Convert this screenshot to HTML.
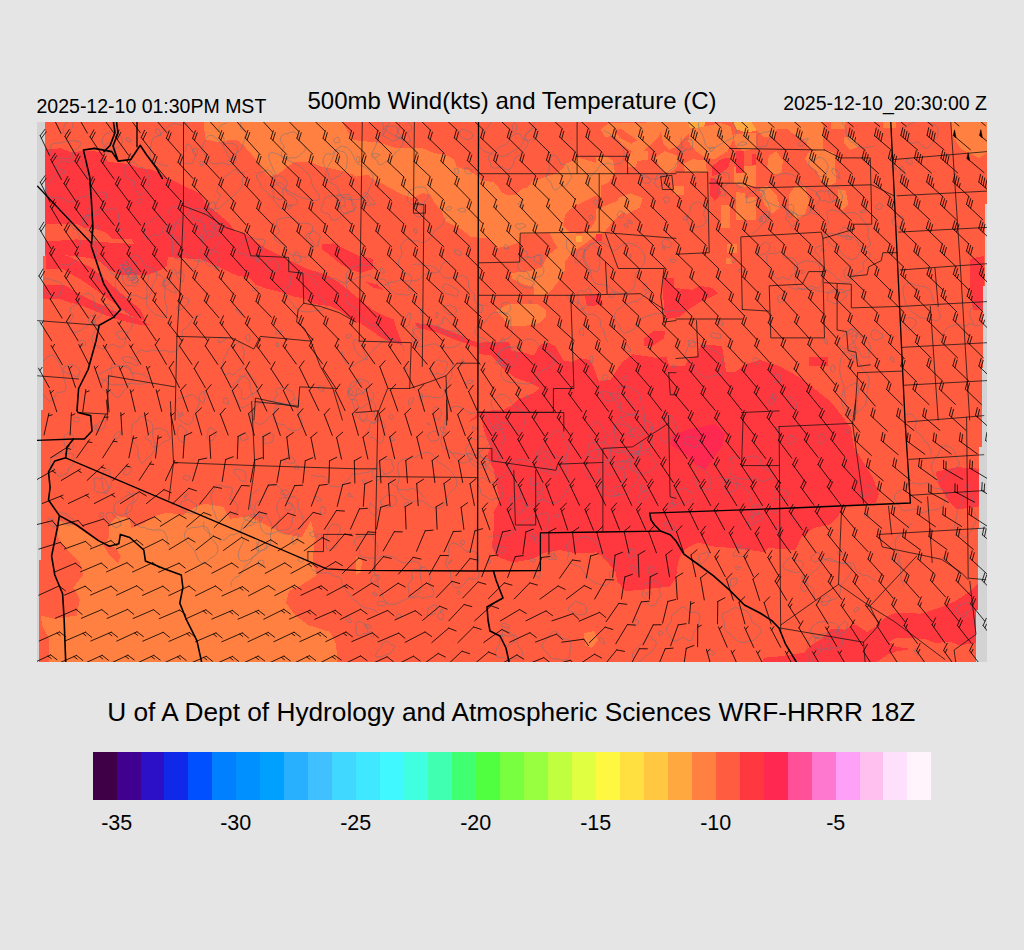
<!DOCTYPE html>
<html lang="en"><head><meta charset="utf-8"><title>500mb Wind(kts) and Temperature (C)</title>
<style>html,body{margin:0;padding:0;background:#e5e5e5;}svg{display:block}text{font-family:"Liberation Sans",Arial,Helvetica,sans-serif;fill:#000}</style></head><body>
<svg width="1024" height="950" viewBox="0 0 1024 950">
<rect width="1024" height="950" fill="#e5e5e5"/>
<rect x="37" y="122" width="950" height="540" fill="#d3d3d3"/>
<defs><clipPath id="data"><polygon points="45.0,122.0 987.0,122.0 987.0,204.0 985.0,204.0 985.0,286.0 983.0,286.0 983.0,368.0 982.0,368.0 982.0,447.0 979.0,447.0 979.0,528.0 978.0,528.0 978.0,610.0 976.0,610.0 976.0,662.0 39.0,662.0 39.0,560.0 41.0,560.0 41.0,410.0 43.0,410.0 43.0,256.0 45.0,256.0"/></clipPath><clipPath id="frame"><rect x="37" y="122" width="950" height="540"/></clipPath></defs>
<g clip-path="url(#data)" shape-rendering="crispEdges">
<rect x="37" y="122" width="950" height="540" fill="#ff5c40"/>
<polygon points="204.0,122.0 342.0,122.0 353.0,140.0 380.0,143.0 395.0,148.0 422.0,148.0 434.0,153.0 446.0,155.0 454.0,159.4 457.0,167.0 468.0,170.0 477.5,176.0 480.6,179.7 485.0,181.0 493.0,182.0 497.8,186.0 501.0,192.0 507.0,195.3 516.6,194.5 521.3,189.0 527.5,187.5 532.2,181.3 540.0,179.0 549.4,175.8 555.6,173.4 563.4,168.8 565.0,164.0 572.8,161.0 576.0,157.0 590.0,161.0 599.0,164.0 606.0,168.0 612.0,172.0 612.0,179.0 601.5,180.0 600.5,198.0 604.4,208.6 624.0,201.8 627.9,204.7 624.0,210.5 612.3,222.3 604.4,232.0 592.7,237.9 584.9,243.8 573.2,251.6 565.4,261.3 565.4,269.1 557.6,282.8 547.8,294.5 534.1,294.5 534.1,286.7 524.4,284.8 512.6,278.9 510.7,273.0 530.2,271.1 541.9,267.2 547.8,255.5 557.6,247.7 553.7,241.8 549.8,233.0 520.5,234.0 518.5,242.8 506.8,246.7 498.0,247.7 487.2,237.9 477.5,237.5 471.2,237.2 461.5,229.4 445.8,221.6 441.9,211.8 434.1,202.0 430.2,194.2 422.4,193.2 412.6,198.1 401.0,194.2 387.3,186.4 375.5,180.5 367.7,174.7 356.0,176.6 353.2,174.7 337.6,169.8 322.0,166.9 310.2,162.0 294.6,162.0 286.8,166.9 279.0,173.7 269.2,176.6 263.3,170.8 255.5,159.0 243.8,145.4 236.0,139.5 231.0,139.5 219.6,142.5 205.0,139.5" fill="#ff8040"/>
<polygon points="563.0,226.0 565.0,215.0 570.0,209.0 578.0,204.5 587.0,200.0 596.0,195.5 601.0,198.0 604.0,209.0 597.0,218.0 591.0,228.0 581.0,234.0 571.0,233.0" fill="#ff5c40"/>
<polygon points="576.0,236.0 582.0,236.0 582.0,242.0 576.0,242.0" fill="#ffa840"/>
<polygon points="59.4,520.3 76.6,526.6 92.2,537.5 103.2,544.4 109.4,537.5 108.5,525.0 117.2,516.2 129.8,518.1 131.3,528.1 140.7,525.0 154.8,516.2 167.2,512.5 182.9,515.0 190.7,509.4 204.8,503.8 223.5,506.9 229.8,518.8 248.5,516.2 261.0,522.5 273.5,528.8 286.0,534.4 301.6,537.5 311.0,520.3 314.8,537.5 312.6,562.5 317.2,575.0 301.6,585.0 289.1,591.2 286.0,603.1 295.4,615.6 307.9,625.0 329.8,631.9 336.0,643.8 337.6,664.1 48.5,664.1 48.5,637.5 42.2,625.0 40.7,615.6 54.8,618.8 76.6,615.6 79.8,600.0 73.5,587.5 82.9,575.0 79.8,562.5 67.2,550.0 57.9,537.5" fill="#ff8040"/>
<polygon points="103.2,544.4 114.1,546.9 121.0,556.2 117.9,563.1 108.5,553.8" fill="#ff5c40"/>
<polygon points="600.7,129.4 608.5,123.1 658.5,122.3 661.6,129.4 658.5,137.2 652.2,143.4 642.9,151.2 631.9,151.2 622.6,145.0 614.8,135.6 605.4,137.2" fill="#ff8040"/>
<polygon points="612.4,128.6 621.0,128.6 637.4,140.3 631.2,143.8 619.4,137.5" fill="#ff5c40"/>
<polygon points="658.5,122.3 689.8,122.3 692.9,129.4 683.5,138.8 677.2,146.6 669.4,149.7 663.2,143.4 661.6,135.6" fill="#ff8040"/>
<polygon points="688.2,122.3 705.4,122.3 703.8,127.0 696.0,129.4 689.8,127.8" fill="#ffa840"/>
<polygon points="733.5,122.3 756.0,122.3 756.0,130.9 746.0,132.5 736.6,129.4" fill="#ffa840"/>
<polygon points="689.8,129.4 705.4,126.2 721.0,123.1 730.4,126.2 733.5,138.8 727.2,151.2 714.8,159.1 705.4,157.5 696.0,151.2 688.2,141.9" fill="#ff8040"/>
<polygon points="596.0,157.5 605.4,155.9 613.2,160.6 614.8,171.6 608.5,182.5 602.2,185.6 596.0,182.5" fill="#ff8040"/>
<polygon points="631.9,151.2 647.6,151.2 647.6,159.8 637.4,160.9 635.8,166.9 627.2,166.9 628.0,159.1" fill="#ff8040"/>
<polygon points="655.4,157.5 664.8,151.2 677.2,155.9 677.2,166.9 669.4,173.1 661.6,170.0" fill="#ff8040"/>
<polygon points="683.5,163.8 692.9,159.1 705.4,160.6 706.9,171.6 696.0,173.1 685.1,171.6" fill="#ff8040"/>
<polygon points="711.6,166.9 721.0,159.1 730.4,157.5 728.8,166.9 721.0,173.1 711.6,176.2" fill="#ff3840"/>
<polygon points="710.1,177.8 717.9,179.4 721.0,193.4 714.8,201.2 710.1,195.0" fill="#ff3840"/>
<polygon points="617.9,198.1 630.4,193.4 642.9,198.1 639.8,207.5 627.2,213.8 617.9,210.6" fill="#ff8040"/>
<polygon points="674.1,185.6 683.5,185.6 683.5,195.0 674.1,195.0" fill="#ff8040"/>
<polygon points="733.5,166.9 756.0,165.3 756.0,185.6 742.9,187.2 733.5,182.5" fill="#ff8040"/>
<polygon points="744.4,198.1 756.0,196.6 756.0,220.0 746.0,220.0" fill="#ff8040"/>
<polygon points="733.5,134.1 756.0,132.5 756.0,148.1 742.9,151.2 735.1,145.0" fill="#ff8040"/>
<polygon points="596.0,209.4 619.4,200.0 631.9,200.0 627.2,206.2 614.8,214.1 605.4,225.0 596.0,231.2" fill="#ff8040"/>
<polygon points="721.0,204.7 730.4,204.7 730.4,228.1 721.0,228.1" fill="#ff8040"/>
<polygon points="736.6,203.1 756.0,203.1 756.0,218.8 736.6,218.8" fill="#ff8040"/>
<polygon points="727.2,243.8 736.6,243.8 736.6,253.1 727.2,253.1" fill="#ff8040"/>
<polygon points="725.7,257.8 731.9,257.8 731.9,264.1 725.7,264.1" fill="#ff8040"/>
<polygon points="663.2,278.1 674.1,278.1 674.1,300.0 663.2,300.0" fill="#ff3840"/>
<polygon points="596.0,234.4 602.2,234.4 602.2,240.6 596.0,240.6" fill="#ff3840"/>
<polygon points="751.6,122.3 823.5,122.3 822.7,149.7 811.0,149.7 803.2,138.8 795.4,135.6 787.6,129.4 776.6,129.4 775.1,137.2 764.1,137.2 756.3,129.4" fill="#ff8040"/>
<polygon points="809.4,151.2 823.5,149.7 834.4,152.8 836.0,182.5 829.8,185.6 820.4,179.4 817.2,171.6 811.0,166.9 804.8,159.1" fill="#ff8040"/>
<polygon points="768.8,155.9 776.6,151.2 782.9,160.6 781.3,173.1 773.5,174.7 767.2,166.9" fill="#ff8040"/>
<polygon points="795.4,185.6 804.8,187.2 809.4,201.2 804.8,213.8 795.4,220.0 789.1,210.6 789.1,195.0" fill="#ff8040"/>
<polygon points="759.4,188.8 767.2,185.6 776.6,195.0 779.8,207.5 771.9,213.8 764.1,204.4" fill="#ff8040"/>
<polygon points="736.0,191.9 745.4,193.4 745.4,220.0 736.0,220.0" fill="#ff8040"/>
<polygon points="837.6,188.8 845.4,190.3 848.5,204.4 842.2,210.6 837.6,201.2" fill="#ff8040"/>
<polygon points="843.8,137.2 854.8,137.2 859.4,146.6 850.1,149.7 843.8,143.4" fill="#ff8040"/>
<polygon points="882.9,122.3 896.0,122.3 896.0,127.8 882.9,127.8" fill="#ff8040"/>
<polygon points="831.3,122.3 845.4,122.3 845.4,129.4 831.3,129.4" fill="#ff8040"/>
<polygon points="736.0,151.2 743.8,151.2 743.8,173.1 736.0,173.1" fill="#ff3840"/>
<polygon points="751.6,154.4 756.3,154.4 756.3,165.3 751.6,165.3" fill="#ff3840"/>
<polygon points="950.8,121.6 988.7,121.6 988.7,151.6 979.2,157.9 960.3,148.4 950.8,132.6" fill="#ff8040"/>
<polygon points="45.0,149.3 61.4,148.3 71.2,152.2 80.9,151.2 92.6,151.2 102.4,152.2 108.3,162.0 129.8,164.0 137.6,167.9 153.2,169.8 164.9,176.6 172.7,180.5 184.4,186.4 200.0,193.2 205.9,204.0 215.7,211.8 227.4,221.6 236.0,232.2 245.8,233.7 255.5,241.5 267.2,249.3 282.9,257.1 294.6,263.0 306.3,268.8 320.0,272.7 329.8,276.6 341.5,284.5 353.2,294.2 363.0,302.0 372.7,309.8 384.4,315.7 394.2,319.6 395.2,325.5 402.0,343.0 402.0,345.0 388.3,341.0 380.5,337.2 372.7,331.3 361.0,323.5 351.2,319.6 341.5,311.8 329.8,306.0 314.1,304.0 302.4,298.1 292.6,296.2 280.9,292.3 265.3,288.4 255.5,284.5 248.5,277.4 237.6,276.0 229.4,272.0 221.2,267.9 213.0,265.0 202.0,259.6 184.3,258.3 167.9,257.0 166.5,266.5 155.5,272.0 147.3,274.7 133.7,274.7 120.0,275.0 110.0,270.0 100.0,262.0 90.0,258.0 75.0,256.0 60.0,255.0 40.0,255.0" fill="#ff3840"/>
<polygon points="40.0,224.4 77.0,223.7 83.9,227.8 96.2,229.1 107.1,233.2 112.6,238.7 131.7,239.4 134.4,244.2 124.9,243.5 112.6,242.8 101.6,242.1 90.7,240.8 77.0,239.4 56.5,240.8 40.0,240.8" fill="#ff5c40"/>
<polygon points="322.0,244.4 333.7,243.4 345.4,249.3 357.1,255.2 372.7,259.0 372.7,268.8 361.0,272.7 353.2,270.8 341.5,265.0 329.8,255.2 322.0,249.3" fill="#ff3840"/>
<polygon points="365.0,281.5 376.6,284.5 384.4,290.3 372.7,287.4" fill="#ff3840"/>
<polygon points="415.0,323.0 436.0,326.0 460.0,335.0 478.0,343.0 478.0,348.0 456.0,340.0 436.0,332.0 418.0,328.0" fill="#ff3840"/>
<polygon points="45.5,252.7 67.6,255.8 92.9,268.5 118.1,290.6 140.2,309.5 146.5,322.1 130.8,315.8 105.5,296.9 83.4,281.1 61.3,268.5 45.5,268.5" fill="#ff3840"/>
<polygon points="41.9,285.4 65.3,285.4 84.8,297.1 114.1,310.8 137.6,318.6 149.3,324.5 137.6,324.5 114.1,318.6 84.8,306.9 59.4,299.1 41.9,299.1" fill="#ff3840"/>
<polygon points="467.0,423.0 479.0,413.0 479.0,343.0 491.0,341.5 508.8,342.3 512.0,351.0 524.4,352.5 533.8,355.6 540.0,344.7 549.4,343.0 555.6,346.2 558.8,352.5 563.4,360.3 571.7,362.0 579.5,358.0 589.3,360.0 593.2,366.0 599.0,381.6 610.8,379.6 616.6,369.8 622.5,362.0 632.3,354.2 645.9,356.2 657.7,358.0 666.4,356.2 669.4,366.0 685.0,366.0 688.9,358.0 696.7,356.2 700.6,344.5 708.4,344.5 722.1,346.4 724.0,358.0 726.0,371.8 735.8,371.8 745.5,364.0 760.0,360.0 780.0,366.4 802.3,379.0 818.1,391.6 832.0,403.0 841.6,415.6 851.0,428.0 854.0,447.0 863.5,462.5 872.9,478.0 879.0,493.8 876.0,503.0 863.5,504.7 844.8,506.2 838.5,515.6 829.0,525.0 813.5,528.0 801.0,537.5 794.8,550.0 768.0,548.0 764.0,552.0 736.6,548.4 713.0,546.4 697.6,542.5 689.8,546.4 682.0,552.0 678.0,562.0 676.0,577.7 670.2,586.4 644.8,589.4 625.3,591.3 617.5,581.5 615.5,571.8 604.0,558.0 596.0,552.0 593.5,553.1 574.8,553.1 559.1,550.0 543.5,553.1 531.0,559.4 512.2,562.5 496.6,556.2 491.9,546.9 493.5,531.2 493.5,512.5 499.8,500.0 496.6,484.4 493.5,468.8 487.2,456.2 490.4,446.9 484.1,431.2 481.0,415.6" fill="#ff3840"/>
<polygon points="479.0,354.0 491.6,355.6 502.5,368.0 515.0,377.5 532.2,383.8 540.0,388.0 533.8,393.0 518.0,399.4 512.0,405.6 502.5,410.0 479.0,411.0" fill="#ff5c40"/>
<polygon points="663.5,291.7 673.3,287.8 692.8,289.8 700.6,285.9 712.3,287.8 718.2,293.7 700.6,301.5 688.9,309.3 679.1,317.1 665.5,319.0 663.5,307.3" fill="#ff3840"/>
<polygon points="644.0,338.6 653.8,330.8 665.5,330.8 663.5,338.6 651.8,346.4 644.0,346.4" fill="#ff3840"/>
<polygon points="496.2,310.3 508.8,304.0 536.9,304.0 546.2,310.3 546.2,316.6 540.0,322.8 524.4,326.0 508.8,326.0 502.5,316.6" fill="#ff8040"/>
<polygon points="585.0,296.0 600.0,294.0 603.0,305.0 587.0,306.0" fill="#ff3840"/>
<polygon points="969.7,259.0 984.0,255.8 984.0,309.5 972.9,309.5 969.7,284.2" fill="#ff3840"/>
<polygon points="808.7,356.9 827.6,356.9 827.6,366.4 808.7,366.4" fill="#ff3840"/>
<polygon points="672.0,436.0 687.7,429.3 699.4,427.3 715.0,423.4 724.8,433.2 722.9,445.0 715.0,456.6 705.3,470.3 695.5,464.5 685.8,454.7 676.0,448.8 670.0,444.0" fill="#ff2850"/>
<polygon points="584.0,633.0 594.0,631.0 598.0,640.0 592.0,648.0 585.0,645.0" fill="#ff8040"/>
<polygon points="356.0,557.0 362.0,560.0 361.0,572.0 356.0,575.0" fill="#ff8040"/>
<polygon points="762.0,662.0 764.4,657.7 779.0,656.4 803.5,652.8 810.8,645.4 823.0,638.0 830.3,628.8 845.0,629.6 854.7,624.0 867.0,632.0 876.7,625.9 886.5,616.6 896.2,612.5 920.7,613.7 940.2,607.6 954.8,601.5 969.5,591.7 978.0,583.2 978.0,643.0 959.7,645.4 950.0,641.8 935.3,643.0 925.5,639.3 910.9,638.0 896.2,637.6 889.0,641.8 896.2,646.7 910.9,649.0 896.2,651.5 886.5,655.2 876.7,662.0" fill="#ff3840"/>
<polygon points="935.4,471.9 957.2,467.2 980.0,468.8 980.0,506.2 957.2,509.4 947.9,500.0 938.5,484.4" fill="#ff3840"/>
</g>
<g clip-path="url(#frame)" fill="none" stroke-linejoin="round" stroke-linecap="round">
<g clip-path="url(#data)"><path d="M354.2 207.9L354.1 211.0L350.6 211.6L348.4 213.2L345.3 214.0L342.5 212.2L340.8 209.9L340.2 207.6L338.1 205.6L338.7 203.1L340.4 201.3L341.0 198.3L343.8 197.1L347.0 196.9L350.1 198.1L351.3 201.0L352.1 203.2L352.3 205.3ZM629.2 435.9L629.8 435.1L630.7 434.4L632.0 434.5L633.3 434.7L633.3 435.6L633.2 436.4L632.2 437.0L630.9 437.3L630.2 436.5ZM391.4 419.2L390.1 419.1L389.3 417.8L389.2 416.1L390.2 415.0L391.3 414.4L392.3 415.2L393.6 416.0L393.5 417.8L392.4 418.7ZM510.1 309.9L508.4 311.7L506.4 314.2L503.3 313.5L500.9 311.7L500.5 308.8L501.2 306.4L501.8 303.6L504.6 302.6L507.6 302.5L509.8 304.6L510.9 307.3ZM698.9 444.0L698.1 445.0L697.0 446.0L695.9 447.5L692.6 447.2L689.9 445.3L686.8 444.7L684.1 443.3L683.9 441.5L683.3 440.0L684.1 438.8L685.0 437.7L686.7 437.0L689.5 437.3L692.3 436.9L695.4 437.9L697.0 439.9L699.8 441.2L700.6 442.9ZM371.6 627.1L370.6 628.1L368.4 628.1L366.4 627.8L365.6 626.7L363.5 625.6L364.6 624.5L367.1 624.8L369.0 625.0L370.4 625.9ZM850.7 279.0L848.3 279.4L845.8 278.4L844.1 275.9L844.1 273.2L844.0 270.5L845.4 268.7L847.4 266.9L850.0 267.5L851.8 270.0L853.0 272.3L853.5 275.1L852.4 277.3ZM611.2 297.3L609.2 297.4L609.4 295.0L610.9 293.6L611.8 292.0L613.4 291.6L614.8 292.5L614.2 294.7L614.0 296.7L612.5 297.5ZM102.0 163.7L101.3 162.9L101.3 161.3L101.8 159.5L102.8 158.4L103.8 158.0L104.4 159.0L104.3 160.5L104.2 162.5L103.0 163.2ZM605.4 380.7L603.4 380.7L602.7 378.8L602.7 377.2L603.2 375.6L604.8 374.9L606.7 375.0L607.8 376.5L607.7 378.3L606.8 379.6ZM180.5 416.4L179.7 415.9L179.8 414.6L180.6 413.5L181.4 412.6L182.4 412.3L182.6 413.5L182.9 414.5L182.4 415.9L181.3 416.1ZM775.9 531.7L774.8 530.0L775.9 528.2L776.8 526.4L778.9 525.4L780.5 526.7L780.5 528.6L781.4 530.6L779.7 532.1L777.7 532.2ZM916.7 654.6L915.8 653.9L914.9 652.8L914.5 650.6L915.4 649.4L916.1 648.0L917.2 648.7L917.6 650.7L918.0 652.5L918.1 655.0ZM403.8 506.2L404.3 504.8L404.5 503.5L406.1 502.1L407.5 502.2L408.0 502.9L409.6 503.3L407.9 504.9L406.6 506.0L405.1 506.3ZM811.5 661.9L809.3 662.3L809.0 657.4L809.2 653.8L807.9 652.5L807.1 650.2L807.5 647.3L807.8 644.3L808.4 641.2L809.9 639.1L811.4 637.3L813.0 635.4L814.6 636.3L815.7 638.5L817.2 638.1L819.2 637.9L819.6 640.8L819.4 643.8L820.7 646.1L821.4 649.6L819.9 652.7L817.7 654.1L816.0 654.7L814.7 654.9L813.5 657.3ZM246.4 405.7L245.0 406.6L243.3 407.8L241.3 407.9L239.5 405.7L238.4 402.4L237.3 399.9L235.6 398.3L233.5 396.2L232.1 393.2L232.2 390.0L232.9 387.4L233.6 385.0L234.5 383.1L235.9 382.1L237.4 381.5L238.3 380.2L239.2 378.0L240.6 376.2L242.4 375.9L244.4 376.7L246.4 377.8L248.4 379.4L249.8 382.4L250.1 386.0L249.9 389.1L250.6 391.3L252.2 394.0L253.5 397.2L253.3 400.0L252.0 402.0L250.6 403.3L249.3 404.5L247.9 405.2ZM526.5 139.5L525.0 137.4L525.8 134.5L527.9 132.4L530.1 131.0L532.5 128.1L534.9 129.5L536.9 130.7L537.7 132.9L538.1 135.4L536.5 138.0L534.1 139.9L531.5 139.3L528.6 140.9ZM97.5 228.9L96.5 228.6L95.7 227.5L96.7 226.1L97.3 225.3L98.2 224.9L99.2 225.2L99.7 226.5L99.2 227.9L98.4 228.7ZM896.7 502.0L895.0 499.7L894.2 497.0L895.3 494.3L898.0 492.1L901.1 490.3L903.6 488.7L905.4 486.8L907.3 484.9L909.8 483.4L912.9 483.0L916.0 483.4L918.7 484.0L921.2 483.9L923.7 483.2L926.4 482.8L928.8 483.4L930.5 484.9L931.7 486.7L933.2 488.0L935.9 488.4L939.8 488.8L943.7 489.8L946.1 491.7L946.6 494.3L945.9 497.0L945.0 499.6L944.4 502.2L943.6 504.8L941.9 507.2L938.8 508.9L935.1 509.7L931.6 510.0L928.8 510.6L926.4 511.6L923.9 512.4L921.3 512.5L918.9 511.4L916.9 509.9L915.2 509.0L912.8 509.2L909.5 510.1L905.7 510.7L902.4 510.1L900.4 508.4L899.4 506.2L898.3 504.1ZM195.9 510.0L194.5 510.9L194.8 513.5L192.2 514.0L189.1 512.6L186.0 512.4L183.4 510.5L181.8 508.4L179.7 506.5L180.5 504.7L181.2 503.3L181.4 501.5L183.9 501.4L185.5 500.2L188.1 499.3L191.1 501.4L193.8 502.8L196.5 504.7L196.4 506.9L196.8 508.7ZM436.4 317.6L435.6 317.4L435.5 315.7L435.6 313.9L436.6 313.7L437.3 312.0L438.0 312.8L438.2 314.4L437.6 315.9L437.2 317.5ZM281.6 152.7L283.0 149.6L284.2 147.5L284.0 145.8L282.1 143.5L280.3 139.8L281.2 136.1L284.4 134.2L287.9 133.3L291.2 132.2L294.5 132.0L297.1 134.0L298.4 136.9L299.1 139.3L299.9 141.1L301.1 142.6L303.1 144.2L305.2 146.6L305.3 149.7L303.3 152.2L300.8 154.3L298.5 156.4L295.7 157.7L292.7 157.7L289.8 157.9L286.6 158.8L283.2 158.7L281.3 156.3ZM64.5 173.0L62.1 173.7L61.0 175.1L58.8 175.2L57.6 173.4L56.8 171.4L58.8 170.3L60.3 169.6L62.3 169.5L64.2 170.8ZM194.8 155.8L193.4 154.3L193.0 152.5L192.0 150.2L193.8 148.9L195.5 148.7L197.3 148.9L197.6 151.1L197.7 153.2L196.6 154.9ZM524.1 259.8L521.5 261.2L519.8 258.8L517.7 256.3L519.3 253.5L521.6 252.8L523.5 250.5L526.3 251.4L527.2 254.4L528.3 257.3L526.4 259.4ZM420.5 312.4L420.3 311.4L420.3 310.5L420.7 309.1L421.5 308.1L422.4 307.8L422.4 309.0L422.4 310.0L421.9 311.1L421.2 312.9ZM215.0 268.6L215.9 267.5L216.9 267.2L217.8 266.4L218.7 267.2L219.1 268.3L219.3 269.5L218.0 269.9L217.1 269.7L216.0 269.6ZM513.2 131.9L511.4 131.7L512.7 128.1L512.7 125.8L514.0 122.9L515.6 123.3L516.7 124.6L516.8 127.0L516.3 129.7L514.8 131.4ZM754.2 512.5L751.7 512.0L750.5 509.4L752.4 506.7L754.3 504.6L756.7 504.9L759.4 504.8L760.7 507.4L759.2 510.1L758.7 513.1L756.1 514.9ZM783.1 566.9L783.8 564.1L785.7 561.9L787.3 559.6L789.6 557.3L793.0 557.7L795.1 560.5L797.0 561.0L800.8 560.8L803.5 562.6L803.3 565.5L801.8 568.0L800.8 570.6L798.4 572.6L795.1 572.5L792.4 571.9L790.1 571.1L787.9 570.3L784.9 569.2ZM272.4 271.0L270.0 271.4L268.2 269.5L266.5 267.1L265.9 263.8L267.6 261.0L270.3 260.2L272.5 258.8L274.7 260.3L276.6 261.9L278.3 264.1L279.1 267.4L277.4 270.2L274.9 271.6ZM501.9 497.6L499.5 498.9L496.1 498.3L494.0 498.8L491.9 500.3L489.2 499.6L487.2 497.2L485.0 496.0L481.9 495.1L480.6 492.7L480.9 490.2L479.8 487.9L477.6 484.9L477.5 481.8L479.0 479.4L481.1 477.5L484.7 477.9L488.5 481.5L490.5 483.7L492.4 482.3L495.6 481.0L498.1 482.6L499.7 484.9L502.0 487.1L503.5 489.8L502.8 492.4L502.2 494.9ZM248.7 397.3L246.6 398.4L244.0 399.5L241.7 397.7L241.6 393.0L241.7 389.9L239.4 388.2L237.4 385.3L238.3 382.2L240.0 380.1L241.2 377.9L242.9 376.8L244.6 376.1L246.2 373.8L248.4 372.3L250.3 374.6L251.6 377.5L253.6 378.5L255.6 380.4L255.8 383.6L256.1 386.5L257.1 389.9L256.1 392.8L253.2 393.2L251.3 393.7L250.2 395.7ZM313.4 245.7L312.3 247.5L311.3 249.6L310.7 252.1L309.6 254.8L307.5 256.7L304.4 257.2L300.9 256.6L297.6 255.7L294.6 255.1L291.6 254.7L288.6 253.5L286.4 251.2L285.0 248.3L284.2 245.7L282.7 244.0L280.0 242.9L276.7 241.4L274.5 239.2L274.7 236.7L276.7 234.6L278.8 233.0L279.5 231.4L278.4 229.0L276.8 225.7L276.2 222.5L277.4 220.0L279.9 218.7L282.9 218.0L285.9 217.6L288.9 217.5L292.1 218.2L295.1 219.9L297.6 221.9L300.0 223.2L302.8 223.4L306.5 223.3L310.2 224.1L312.6 226.4L312.6 229.7L310.9 232.9L309.1 235.2L308.9 236.9L310.5 238.8L312.6 241.1L313.7 243.5ZM63.3 132.5L62.9 130.0L64.0 127.6L64.2 125.3L65.7 122.9L68.2 121.8L70.8 120.6L72.8 121.5L72.8 124.0L73.1 126.1L72.0 128.5L70.1 130.3L68.0 132.4L65.4 133.2ZM732.4 262.4L731.2 261.5L731.2 260.0L731.0 258.6L732.2 257.3L733.8 257.7L734.8 258.6L735.5 259.9L735.1 261.3L734.0 262.3ZM525.4 226.7L522.5 227.6L521.3 229.1L518.4 229.2L516.4 227.7L515.5 225.8L516.3 223.8L519.5 224.2L521.8 223.4L524.8 224.4ZM856.2 413.3L854.6 413.5L853.0 413.2L851.4 412.5L849.8 411.7L848.1 411.0L846.4 410.3L844.6 409.1L843.1 407.1L842.0 404.2L841.6 400.5L841.8 396.5L842.6 392.7L843.4 389.6L843.9 387.2L843.8 385.2L843.2 383.2L842.2 380.9L841.1 378.2L840.3 375.1L839.8 372.0L839.7 368.8L839.9 365.5L840.2 362.2L840.8 359.0L841.6 356.0L842.9 353.7L844.5 352.3L846.4 352.0L848.3 352.7L850.2 353.9L851.9 355.1L853.4 356.1L854.9 357.0L856.4 357.9L857.7 359.3L859.0 361.2L860.0 363.5L860.9 365.8L861.8 367.8L862.8 369.4L864.2 370.9L865.8 372.4L867.3 374.5L868.5 377.1L869.0 380.1L868.9 383.2L868.4 386.1L867.7 388.8L867.2 391.3L866.9 393.8L866.7 396.5L866.5 399.4L866.1 402.1L865.3 404.4L864.2 406.2L862.9 407.6L861.6 408.7L860.3 409.9L859.0 411.2L857.7 412.4ZM199.1 261.2L197.0 260.8L195.0 260.2L193.1 259.1L191.3 257.7L189.7 256.2L188.1 254.9L186.3 254.1L184.0 253.8L181.2 253.6L178.1 253.0L175.1 251.5L172.8 249.0L171.6 245.7L171.4 242.0L172.1 238.4L173.0 235.2L173.7 232.2L174.2 229.3L174.7 226.4L175.5 223.7L176.8 221.5L178.7 219.8L180.9 218.8L183.0 218.2L184.9 217.5L186.4 216.4L187.7 214.8L189.1 213.0L190.7 211.2L192.5 209.9L194.6 209.0L196.8 208.6L199.1 208.6L201.5 208.9L203.8 209.8L205.9 211.4L207.7 213.8L208.8 216.8L209.6 219.9L210.2 222.8L211.1 225.2L212.6 227.2L214.6 229.3L216.9 231.8L218.8 234.8L219.6 238.2L219.2 241.5L217.8 244.3L215.8 246.6L213.8 248.5L212.2 250.4L211.0 252.4L210.0 254.7L208.8 257.0L207.3 259.0L205.5 260.3L203.4 261.0L201.3 261.3ZM231.3 158.3L229.0 157.2L227.4 154.3L226.2 151.4L225.0 149.2L223.9 147.2L223.4 144.6L223.8 141.6L224.2 139.1L223.4 137.2L221.2 134.8L219.2 131.4L219.1 127.7L221.0 125.2L223.7 124.1L225.9 123.3L227.4 121.7L228.7 119.4L230.4 117.4L232.4 116.2L234.5 115.3L236.9 114.5L239.3 114.9L240.8 117.6L241.1 122.0L240.5 126.2L240.6 128.7L242.3 129.8L244.8 131.1L246.4 133.6L246.2 136.7L244.8 139.4L243.5 141.8L242.9 144.4L242.2 147.2L240.9 149.5L239.1 150.8L237.3 152.1L235.6 154.3L233.7 157.0ZM299.6 261.3L298.0 263.0L295.2 261.9L294.1 258.6L292.7 256.0L294.6 255.0L294.8 251.9L297.5 252.1L299.7 254.7L300.4 257.4L300.9 259.9ZM461.6 543.8L460.6 543.5L460.0 542.0L461.4 540.7L462.7 540.1L463.8 540.4L464.3 541.4L464.7 542.7L463.8 544.4L462.3 545.0ZM646.0 290.4L644.4 290.1L643.3 288.3L643.4 286.5L643.7 285.0L644.6 283.3L646.3 283.8L647.3 285.5L647.4 287.4L646.9 288.9ZM322.0 309.9L319.4 310.3L316.9 310.6L314.6 310.9L312.5 311.3L310.3 311.6L308.1 311.8L305.7 311.8L303.1 311.5L300.4 310.9L297.8 309.5L295.5 307.6L293.6 305.2L291.9 302.9L290.0 300.8L287.8 298.8L285.5 296.5L283.9 293.8L283.6 291.2L284.9 289.0L287.0 287.4L289.1 286.4L290.3 285.2L290.5 283.4L290.2 281.0L290.2 278.4L290.9 276.1L292.3 274.2L294.3 272.9L296.7 272.1L299.4 271.9L302.3 272.4L305.2 273.6L308.0 275.4L310.5 277.5L312.8 279.5L314.9 281.7L316.6 284.1L317.5 286.7L317.7 289.3L317.3 291.6L317.4 293.5L318.6 295.4L320.8 297.7L323.5 300.7L325.4 303.9L325.8 306.9L324.4 308.9ZM367.4 359.6L365.5 359.9L362.3 357.0L360.3 356.1L358.3 354.5L356.6 352.1L354.8 350.0L354.2 347.8L354.2 346.2L353.0 343.7L353.1 342.0L354.1 341.1L354.7 339.2L357.1 340.4L359.5 343.1L361.7 344.4L363.5 346.9L363.6 349.4L363.7 351.0L364.1 352.5L365.5 355.2ZM610.9 474.7L607.5 475.0L605.2 473.2L604.8 469.5L606.1 464.8L608.3 460.3L610.3 456.8L611.2 454.2L611.5 452.0L611.6 449.7L612.1 447.3L613.0 444.9L614.2 442.5L615.5 440.1L617.1 437.9L619.0 436.2L621.2 435.3L623.3 435.2L625.2 434.9L627.0 433.8L629.3 431.7L632.1 429.4L635.1 427.8L637.7 427.8L639.7 429.1L641.2 431.2L642.4 433.4L643.4 435.9L643.7 438.7L643.2 442.0L641.8 445.2L640.3 448.1L639.1 450.7L638.4 453.2L637.7 455.9L636.4 458.4L634.4 460.2L631.9 461.1L629.7 461.4L627.9 461.9L626.4 462.9L624.7 464.7L622.8 466.7L620.5 468.8L617.8 470.9L614.6 473.0ZM868.9 516.9L867.9 517.4L866.5 518.1L864.8 516.6L864.3 515.2L864.8 514.2L865.5 513.5L867.0 513.3L868.8 514.4L869.1 515.9ZM373.1 637.4L371.4 636.7L370.6 635.4L369.8 634.3L369.6 632.6L370.7 631.4L372.3 632.2L373.4 632.9L374.2 634.2L373.6 635.5ZM490.0 462.1L489.1 464.0L486.9 464.1L484.9 464.4L483.1 463.2L483.6 461.3L483.4 459.3L485.7 458.9L487.8 458.9L488.8 460.5ZM286.0 510.4L284.7 509.0L285.7 506.3L287.6 503.9L289.9 503.2L291.6 503.6L292.2 505.3L292.2 507.7L290.3 510.6L288.1 509.6ZM482.8 150.4L480.4 148.2L479.0 145.3L478.9 141.9L479.9 138.3L481.7 134.9L483.8 132.0L485.8 129.5L487.6 127.4L489.0 125.5L490.2 123.7L491.1 121.8L491.6 119.6L491.8 116.9L492.1 113.7L492.7 110.0L494.1 106.4L496.4 103.6L499.4 102.1L502.8 102.1L506.0 103.3L508.8 105.0L511.3 106.5L513.7 107.2L516.3 107.3L519.3 107.1L522.5 107.1L525.6 107.7L528.4 109.0L530.7 110.9L532.6 113.3L533.9 116.1L534.6 119.1L534.4 122.3L533.4 125.5L531.6 128.5L529.4 131.0L527.3 133.2L525.7 135.2L524.7 137.3L524.0 139.6L523.3 142.0L522.1 144.4L520.4 146.4L518.3 148.0L516.1 149.3L513.7 150.6L511.4 152.1L508.9 153.7L506.1 155.2L503.1 156.2L500.1 156.4L497.2 155.9L494.4 155.0L491.7 153.9L488.8 152.9L485.8 151.9ZM79.6 420.6L78.6 421.7L76.8 421.9L74.4 421.6L73.7 419.9L73.5 418.5L74.0 417.0L76.3 417.6L78.5 417.5L79.6 419.1ZM250.5 419.2L251.0 417.5L250.5 416.2L250.2 414.8L251.2 413.0L252.9 411.3L254.0 409.5L254.7 407.2L256.6 404.7L259.7 403.3L262.8 403.4L265.2 403.4L267.7 402.4L270.7 401.0L273.3 400.7L274.9 401.6L276.1 402.6L277.9 403.3L279.2 404.4L278.5 406.4L276.3 408.7L274.7 410.5L274.3 412.0L273.7 413.8L272.0 415.5L269.7 416.8L267.8 418.6L265.7 421.1L262.8 423.6L259.6 424.4L257.3 423.5L255.7 422.4L253.6 422.2L251.2 422.2L250.1 421.1ZM346.1 337.7L345.5 336.7L346.7 335.2L348.3 334.3L349.7 334.2L350.6 334.7L352.0 335.4L350.1 336.9L348.6 337.8L347.2 338.1ZM906.7 329.3L905.5 326.7L905.3 324.1L904.4 321.2L906.3 318.4L909.2 317.6L911.7 318.1L913.9 319.1L916.0 320.9L916.0 324.1L914.1 326.5L912.1 328.4L909.5 330.0ZM897.8 563.5L896.2 564.2L894.0 562.6L892.1 560.3L891.0 557.5L891.5 555.5L893.0 555.0L894.9 555.4L897.6 556.4L898.1 559.6L898.5 561.9ZM695.2 344.0L695.4 346.0L692.7 346.7L690.1 345.8L688.1 344.5L688.6 342.9L688.0 340.7L690.8 340.3L693.6 340.7L694.8 342.5ZM446.1 209.5L445.7 208.2L447.5 207.3L448.9 206.6L450.4 206.7L451.6 207.4L451.6 208.7L450.1 209.7L448.6 210.3L447.1 210.3ZM182.9 281.9L181.3 281.3L179.8 279.5L177.6 278.1L176.7 274.8L177.0 272.2L179.2 273.3L179.3 270.5L180.9 270.2L182.6 272.9L184.4 275.5L183.8 278.1L183.3 279.6ZM114.9 512.9L114.3 511.4L114.3 509.7L113.9 508.0L113.8 505.9L115.4 503.5L118.4 501.6L120.9 500.2L122.8 498.5L125.0 496.7L127.3 495.6L129.7 494.8L132.5 493.7L135.4 493.0L137.3 493.8L138.0 495.7L137.7 498.0L136.0 500.6L133.3 503.0L131.7 504.6L131.9 506.4L131.8 509.1L129.9 511.8L127.0 513.4L124.2 514.4L121.6 515.2L119.3 515.2L117.7 514.5L116.3 513.7ZM259.7 519.5L259.6 517.2L259.2 515.2L257.9 513.2L256.2 510.9L254.7 508.2L254.6 505.3L256.1 502.8L258.7 501.0L261.2 499.6L262.9 497.7L264.1 494.6L265.5 490.7L267.8 487.0L271.2 484.8L275.0 484.7L278.5 486.6L281.3 489.5L283.2 492.7L284.6 495.7L285.6 498.3L286.5 500.4L287.8 502.0L289.6 503.3L291.9 504.8L294.0 506.7L295.1 509.1L294.9 511.8L293.9 514.4L292.9 516.8L292.5 519.5L292.2 522.5L291.4 525.7L289.4 528.3L286.5 529.8L283.2 530.2L280.2 530.5L277.4 531.3L274.5 532.7L271.3 534.0L267.9 534.3L264.9 533.2L262.5 531.0L261.0 528.0L260.1 525.0L259.8 522.1ZM404.2 327.9L403.1 326.8L403.1 324.3L403.4 321.7L404.5 319.2L406.0 317.9L407.3 315.0L409.2 312.8L410.7 313.5L410.6 316.5L410.0 319.1L409.7 321.3L409.2 324.2L407.5 326.1L406.0 326.5ZM137.9 363.9L137.9 365.8L134.4 365.2L131.0 362.9L129.4 362.7L126.0 362.6L123.4 360.8L122.2 358.8L122.6 357.2L124.6 356.6L126.8 356.6L129.1 356.9L131.5 357.8L133.9 358.9L136.7 360.4L137.3 362.1ZM616.2 496.0L614.6 496.3L613.9 494.9L613.8 493.4L615.3 493.1L616.1 491.8L617.5 492.1L618.4 493.3L618.4 494.8L617.1 495.5ZM300.9 562.6L299.7 561.4L298.1 560.8L297.9 559.0L298.8 557.3L300.6 557.6L302.1 557.6L303.3 558.7L303.6 560.5L302.4 561.8ZM788.1 279.4L785.4 278.4L783.1 277.0L781.3 277.6L778.9 279.0L776.2 278.7L774.5 276.1L773.6 273.2L772.0 271.2L769.7 269.1L767.9 266.3L767.2 263.2L766.8 259.9L766.7 256.3L768.4 253.8L771.7 253.3L774.8 253.9L776.9 253.3L778.7 251.9L781.0 252.4L783.0 255.3L784.2 258.0L785.9 258.3L789.1 257.5L792.7 258.0L795.4 260.4L797.1 263.6L798.2 267.2L797.8 270.7L795.5 273.1L792.7 274.4L791.0 275.9L790.0 278.2ZM757.7 362.9L756.2 364.9L754.9 362.4L753.3 361.7L752.9 359.7L753.8 357.7L756.1 358.0L757.6 358.6L759.2 359.7L759.3 361.8ZM630.7 351.0L628.9 351.5L626.4 350.4L624.3 348.4L623.7 346.5L623.4 344.6L624.6 343.6L627.3 344.5L628.9 347.0L630.1 348.8ZM623.9 380.0L622.9 379.0L622.9 377.4L624.3 376.6L625.4 376.1L626.8 376.1L628.0 377.1L627.0 378.7L626.4 379.9L625.1 380.5ZM605.5 440.7L604.1 443.9L600.3 442.6L597.5 441.4L594.5 441.5L592.0 439.5L590.7 436.7L591.4 433.9L592.1 431.9L590.6 429.2L591.2 426.5L593.1 424.6L595.3 421.6L598.9 422.3L601.3 426.0L602.8 428.5L604.0 430.7L605.3 432.7L606.0 435.1L605.1 437.3ZM179.2 238.2L177.2 237.4L174.7 239.0L172.7 237.0L172.1 234.0L170.8 231.7L169.3 228.4L169.7 224.8L173.0 224.3L175.3 224.1L177.5 223.2L179.6 224.6L181.5 226.2L182.8 228.5L183.7 231.0L185.3 234.3L184.8 237.8L182.4 239.6ZM894.9 169.2L894.6 170.1L893.1 169.6L892.2 168.2L891.2 167.0L891.2 165.9L892.3 165.8L893.6 166.7L894.9 167.5L896.1 169.0ZM544.0 269.8L543.5 273.0L541.5 275.6L538.4 276.8L535.4 277.6L532.4 278.5L529.5 277.0L528.1 273.4L527.0 271.6L523.6 271.7L519.7 270.5L518.0 267.6L517.9 264.3L518.7 261.2L521.1 258.8L524.1 257.5L527.0 256.9L529.8 257.4L532.2 257.6L535.3 256.0L539.1 255.4L540.8 258.5L540.1 262.3L540.6 264.5L542.7 266.7ZM377.6 580.4L377.2 578.5L376.4 576.5L375.2 574.2L374.0 571.5L373.3 568.4L373.4 565.3L374.4 562.4L376.3 559.7L379.0 557.6L382.2 556.1L385.9 555.5L389.7 555.9L393.4 557.2L396.6 559.0L399.2 561.0L401.4 562.3L403.7 562.7L406.4 562.3L409.6 561.5L413.3 561.1L416.6 561.6L419.1 563.2L420.5 565.5L420.8 568.3L420.5 571.0L420.2 573.4L420.2 575.5L420.6 577.6L421.1 579.7L421.5 581.9L421.6 584.2L421.3 586.5L420.6 588.9L419.5 591.2L417.9 593.3L415.8 595.1L413.3 596.5L410.5 597.6L407.8 598.5L405.1 599.5L402.4 600.9L399.4 602.5L396.1 603.9L392.5 604.6L389.1 604.1L386.1 602.4L384.0 599.7L382.8 596.8L381.9 593.9L381.2 591.6L380.3 589.6L379.3 587.8L378.5 586.0L378.0 584.2L377.8 582.3ZM58.3 197.9L54.6 197.8L50.7 197.0L47.8 194.8L46.3 191.5L46.6 187.8L48.0 184.3L50.2 181.2L52.4 178.8L54.3 176.8L55.5 174.8L55.9 172.3L56.0 169.2L56.6 165.8L58.4 162.9L61.1 161.4L64.3 161.4L67.4 162.0L70.2 162.2L73.0 161.6L76.2 160.7L79.6 160.6L82.5 162.0L84.4 164.7L85.3 168.1L85.6 171.3L86.1 174.0L87.1 176.2L88.5 178.5L90.1 181.1L91.4 184.0L92.2 187.3L91.9 190.7L90.3 193.6L87.6 195.7L84.2 196.7L81.0 197.2L78.4 197.9L76.2 199.3L73.9 200.9L71.3 202.0L68.5 201.9L65.9 200.6L63.7 199.1L61.3 198.1ZM516.0 483.5L514.6 481.0L513.3 478.3L512.1 475.3L511.2 472.0L510.6 468.5L511.0 465.0L512.8 462.0L516.0 460.1L520.3 459.5L524.9 460.1L529.0 461.2L532.1 461.9L534.2 461.5L535.9 459.6L537.6 456.9L539.9 454.1L542.7 452.1L545.8 451.5L548.7 452.2L551.4 453.6L553.8 455.1L556.4 456.4L559.2 457.5L562.0 458.7L564.5 460.5L566.1 463.0L566.9 465.9L567.0 469.0L566.9 471.9L567.1 474.5L567.8 477.0L568.8 479.7L569.6 482.5L569.6 485.5L568.7 488.3L567.2 490.8L565.3 493.1L563.6 495.4L561.9 497.8L560.1 500.2L557.8 502.1L554.9 503.2L551.6 503.1L548.2 502.0L545.3 500.5L542.9 499.6L540.6 500.0L538.0 501.6L534.8 503.9L531.1 505.9L527.3 506.5L524.1 505.4L522.0 502.8L521.1 499.2L520.9 495.6L520.8 492.5L520.3 489.9L519.2 487.8L517.6 485.7ZM146.1 191.6L144.5 192.9L142.7 193.9L140.6 194.7L138.0 193.8L135.7 190.2L134.7 185.3L134.5 181.9L133.4 180.7L130.6 179.9L127.2 178.0L124.7 174.9L123.7 171.6L123.9 168.6L125.2 166.5L127.1 165.5L129.0 164.9L130.3 163.8L131.6 162.2L133.5 161.8L135.8 163.5L137.8 166.1L139.5 167.4L141.7 167.5L144.3 168.2L146.4 170.5L147.5 173.5L148.3 176.3L149.0 179.1L149.4 181.7L149.0 183.9L148.1 185.6L147.4 187.5L147.0 189.7ZM739.2 547.1L738.3 547.3L737.4 546.8L736.7 545.8L736.6 544.5L737.6 543.8L738.6 544.0L739.5 544.4L740.5 545.3L740.3 546.6ZM498.5 550.2L499.3 548.6L500.7 547.3L502.9 546.7L504.8 547.6L506.0 549.1L504.2 550.5L503.6 552.2L501.2 553.1L499.7 551.5ZM372.1 182.2L370.9 184.8L369.7 187.4L368.7 190.1L367.5 193.0L365.7 195.7L363.1 197.8L360.1 199.0L356.7 199.5L353.5 199.7L350.3 199.7L347.1 199.4L344.1 198.3L341.6 196.2L339.8 193.4L338.7 190.3L337.9 187.7L336.8 186.0L334.8 184.8L332.2 183.8L329.5 182.3L327.3 180.2L325.9 177.7L325.5 174.9L325.8 172.2L326.5 169.5L327.6 167.0L329.0 164.7L330.5 162.5L331.9 160.1L333.1 157.1L334.4 153.6L336.3 149.9L339.2 147.1L343.0 146.1L347.0 147.5L350.5 150.8L353.1 155.0L354.7 159.0L355.8 161.8L357.1 163.6L358.8 164.6L360.9 165.4L363.1 166.4L365.4 167.6L367.8 169.2L370.1 171.3L371.9 173.7L373.0 176.5L373.0 179.4ZM535.4 542.3L534.7 540.0L534.4 537.8L533.5 536.9L531.9 536.7L530.1 535.9L529.1 533.6L529.0 530.2L530.0 526.6L531.8 523.5L533.8 521.4L535.5 520.1L536.6 518.3L537.7 516.0L539.0 514.1L540.4 513.8L541.5 514.5L542.7 514.5L544.2 513.4L546.1 512.7L547.5 513.5L548.2 515.8L548.3 518.7L548.1 521.7L547.7 524.7L546.9 527.6L546.1 530.4L545.2 533.2L544.0 535.7L542.5 537.5L541.0 538.4L539.7 539.5L538.3 541.2L536.7 542.7ZM638.3 502.3L637.6 499.9L637.8 497.3L639.7 494.8L641.5 493.2L643.4 491.2L645.8 490.4L647.3 491.7L648.3 493.7L646.8 496.6L644.8 498.6L643.0 499.7L640.8 502.0ZM714.4 179.7L715.1 177.8L716.7 176.3L718.6 175.0L720.8 173.4L724.2 172.3L727.5 173.2L729.1 175.3L728.8 177.5L729.2 178.9L730.0 180.6L728.9 182.3L727.3 184.0L724.8 185.9L721.2 186.3L718.5 184.6L717.7 182.4L716.1 181.2ZM786.5 495.0L787.5 496.6L787.8 498.9L784.6 499.5L781.7 499.7L778.9 499.3L775.4 499.4L773.2 497.8L774.1 495.6L773.0 494.1L773.9 492.6L774.6 490.9L776.0 488.9L779.5 489.4L782.4 489.7L785.0 490.6L787.8 491.5L789.4 493.3ZM646.1 601.7L645.4 598.8L643.9 597.0L642.0 595.1L642.7 592.3L643.8 589.9L643.4 586.5L644.9 583.5L648.3 583.1L651.0 582.4L654.0 580.9L657.1 581.5L659.4 583.5L660.4 586.5L659.3 589.9L659.5 592.1L661.3 594.6L660.4 597.4L657.9 598.9L656.8 602.0L654.6 605.7L651.1 606.0L648.1 604.2ZM435.3 374.2L432.1 375.1L430.0 373.4L430.4 370.0L431.4 366.9L433.1 364.4L434.8 362.1L436.7 359.9L439.0 360.0L440.7 361.3L442.6 361.1L444.9 361.1L447.1 362.3L447.7 365.2L446.4 368.3L445.5 371.3L443.9 374.1L441.0 374.6L438.8 373.7L437.3 373.4ZM831.7 371.0L830.6 370.2L830.7 368.4L831.1 366.4L832.7 364.9L834.3 365.5L834.6 367.2L835.3 368.5L834.6 370.5L833.0 372.1ZM378.6 155.9L377.4 156.3L376.5 157.6L373.6 157.0L372.8 155.5L372.0 154.3L373.0 153.5L374.9 153.4L377.3 153.6L379.8 154.8ZM911.7 163.8L910.3 164.1L908.7 163.9L907.8 162.5L906.1 161.0L906.4 159.2L908.6 159.8L909.9 159.9L911.3 160.7L912.7 162.4ZM371.1 578.6L371.7 576.7L373.4 575.1L376.0 575.1L378.9 575.7L379.5 578.2L378.0 580.1L376.2 581.1L373.6 582.3L370.7 581.3ZM875.9 208.4L875.2 207.2L876.8 205.3L879.4 203.3L881.4 203.8L882.3 204.6L883.1 205.6L881.8 207.6L879.1 209.5L877.2 208.9ZM137.5 202.6L137.0 201.6L137.8 200.3L138.9 199.1L140.3 199.0L141.7 199.2L141.8 200.6L140.7 201.7L139.9 203.2L138.3 203.5ZM321.8 391.5L320.4 390.7L319.2 389.8L318.2 388.0L318.8 386.0L320.7 386.0L322.1 386.4L323.6 387.1L324.1 389.0L323.5 390.9ZM520.0 431.2L518.2 431.2L516.2 430.7L514.1 429.5L512.0 427.6L510.1 425.4L508.6 423.8L507.1 423.2L505.3 423.2L503.0 423.2L500.4 422.1L498.2 419.9L496.6 417.1L495.4 414.3L494.1 411.4L492.7 408.5L491.4 405.4L491.0 402.5L491.7 400.3L493.2 399.1L494.9 398.4L496.2 397.6L497.3 396.5L498.3 395.4L499.6 394.6L501.2 394.3L503.0 394.4L504.9 395.0L506.9 396.1L508.9 398.1L510.5 400.8L511.8 403.4L513.0 405.3L514.7 406.6L517.3 407.7L520.6 409.5L523.5 412.3L525.2 415.5L525.5 418.6L524.9 421.0L524.3 423.1L523.8 425.2L523.5 427.4L522.8 429.3L521.7 430.6ZM50.9 150.2L51.1 148.5L50.7 146.5L51.3 144.4L54.0 143.2L57.6 143.1L60.3 143.0L62.5 142.3L65.0 141.7L67.7 141.3L71.1 140.9L75.4 140.5L79.3 141.4L80.7 143.7L79.6 146.5L77.3 148.7L74.9 150.3L72.9 151.4L72.3 152.6L72.8 154.8L72.3 157.4L69.6 158.8L66.2 158.5L63.2 158.1L60.2 158.3L56.9 158.3L54.2 157.3L52.3 155.7L50.9 154.0L50.5 152.1ZM535.9 537.9L534.5 537.8L533.2 537.5L532.0 536.3L531.4 534.8L531.9 533.9L532.8 533.0L534.2 534.3L535.7 535.1L535.9 536.5ZM150.2 237.3L146.5 238.8L144.2 236.8L144.2 233.1L144.7 229.7L145.8 226.7L147.6 224.3L149.4 222.5L151.1 221.1L152.9 220.1L154.7 218.2L157.2 216.0L159.9 215.8L161.9 217.6L163.3 219.8L164.1 222.5L163.6 225.5L163.1 228.3L162.9 231.2L161.5 233.9L159.0 235.4L156.6 235.5L154.6 234.8L153.0 235.1ZM615.6 486.8L614.1 488.0L612.5 490.1L610.1 491.5L607.5 490.8L605.4 488.4L603.9 485.5L602.7 482.8L601.7 480.3L600.5 477.9L599.3 475.2L598.5 472.3L598.8 469.5L600.1 467.4L601.6 465.7L602.7 463.6L603.8 461.1L605.8 459.8L608.5 460.8L610.8 463.2L612.6 465.2L614.4 465.9L616.6 466.2L619.2 467.0L621.8 468.7L623.8 471.4L624.8 474.7L624.4 477.8L623.3 480.5L622.3 482.8L621.3 484.9L619.7 486.3L617.5 486.7ZM854.5 352.2L853.1 352.0L851.3 351.8L850.6 349.8L851.4 348.3L852.5 347.7L853.7 346.9L855.4 347.6L855.8 349.6L855.4 351.2ZM96.4 429.9L95.1 429.5L94.4 428.4L93.9 427.3L93.9 425.7L95.2 425.1L96.4 425.5L96.9 426.7L98.2 427.7L97.4 429.0ZM147.5 377.1L149.6 378.9L150.3 380.8L148.8 382.5L145.2 383.7L140.5 384.1L135.8 383.9L132.0 383.6L129.2 383.6L127.0 383.9L124.9 384.3L122.6 384.6L120.1 384.8L117.5 384.9L114.6 384.9L111.9 384.6L109.4 383.9L107.7 382.8L106.4 381.7L104.9 380.6L102.9 379.6L100.5 378.5L98.6 377.1L98.1 375.5L99.2 374.1L101.4 372.9L103.7 371.9L105.7 370.9L107.4 369.9L109.3 368.9L111.5 368.0L114.1 367.3L116.9 366.7L119.9 366.2L123.1 366.2L126.1 366.8L128.4 368.0L129.8 369.7L130.4 371.2L131.0 372.3L132.4 372.9L134.9 373.2L138.0 373.7L141.4 374.4L144.6 375.6ZM236.2 160.0L235.6 162.9L233.1 164.6L229.5 164.7L226.0 163.8L223.2 163.1L221.0 163.0L218.8 163.5L216.3 163.8L213.5 163.6L210.9 162.5L208.8 160.6L207.2 158.5L205.7 156.3L204.0 154.1L202.4 151.6L201.7 148.9L202.2 146.3L203.5 144.0L204.7 141.7L205.7 139.1L207.2 136.4L210.1 135.1L213.8 136.1L217.3 138.9L219.7 142.0L221.2 144.1L222.8 144.5L225.5 143.7L229.5 143.1L233.7 143.7L236.8 145.8L237.7 148.9L236.9 151.8L236.0 154.4L235.9 157.0ZM862.6 495.4L860.8 494.6L860.7 492.1L862.6 489.5L864.6 487.5L866.8 485.3L869.1 485.3L870.7 486.1L870.9 488.2L872.1 489.9L871.3 492.8L868.5 494.7L866.2 495.5L863.9 496.7ZM373.6 476.4L372.0 474.8L372.2 472.1L374.4 469.4L375.7 467.3L376.7 465.2L378.2 463.2L380.0 460.7L382.7 458.7L385.3 459.2L387.4 459.9L390.3 459.6L392.2 460.9L392.0 463.6L392.8 465.6L394.2 467.8L392.8 470.7L389.7 472.6L386.9 473.6L384.7 474.1L382.9 475.5L380.2 479.0L376.5 480.7L374.7 478.7ZM720.6 136.2L719.4 135.9L718.6 134.4L718.0 132.7L718.0 130.7L719.2 130.0L720.5 130.4L720.9 132.4L721.9 133.8L722.1 136.2ZM613.2 570.6L610.9 571.2L609.6 572.2L609.4 574.1L609.9 576.7L610.2 579.8L609.6 582.7L607.7 584.7L604.7 585.4L601.1 585.0L597.3 583.6L593.6 581.8L590.3 579.5L587.5 577.0L585.3 574.4L583.6 571.8L582.4 569.6L581.2 567.9L579.5 566.7L577.1 565.8L574.1 564.8L571.1 563.5L568.6 561.7L567.4 559.7L567.4 557.8L568.2 556.1L568.8 554.6L568.8 553.0L568.0 551.0L566.9 548.7L566.3 546.4L566.6 544.4L568.0 543.0L570.2 542.2L572.6 541.6L574.8 541.0L576.7 539.9L578.7 538.6L581.1 537.4L584.1 536.9L587.4 537.3L590.9 538.7L594.0 540.8L596.8 543.1L599.0 545.6L600.8 547.9L602.2 550.1L603.1 552.3L603.6 554.2L604.0 555.9L604.8 557.3L606.5 558.6L609.2 560.1L612.5 561.9L615.6 564.1L617.4 566.5L617.4 568.5L615.8 569.9ZM507.0 338.6L504.5 339.5L502.4 340.6L500.5 342.0L498.2 343.5L495.5 344.6L492.6 344.8L489.9 343.6L487.7 341.6L485.6 339.8L482.8 338.5L479.1 337.0L475.7 334.6L474.6 331.0L476.4 327.4L480.0 324.8L483.5 323.3L485.7 322.0L486.8 320.3L487.8 318.2L489.0 316.0L490.9 314.0L493.3 312.7L496.1 312.2L499.0 312.2L502.1 312.4L505.5 312.9L508.6 314.3L510.7 317.1L511.2 320.6L510.8 323.9L510.8 326.7L511.6 329.3L512.3 332.3L511.7 335.2L509.7 337.3ZM756.4 253.0L755.9 251.3L756.8 249.3L758.4 247.4L760.4 245.7L762.7 243.8L766.0 242.0L768.0 243.3L769.3 244.6L770.1 246.1L769.6 248.0L769.1 250.0L767.2 251.9L764.9 253.8L762.1 254.6L759.3 255.2L756.7 255.1ZM862.7 263.4L863.1 265.2L863.7 267.2L863.8 269.1L862.8 270.6L861.1 271.6L859.0 272.2L857.1 273.0L855.6 274.4L854.3 276.5L852.8 279.0L850.5 281.2L847.4 282.5L843.8 282.3L840.2 280.8L837.0 278.4L834.4 275.8L832.0 273.5L829.7 271.8L827.2 270.4L824.6 269.1L822.3 267.4L820.8 265.4L820.2 263.1L820.2 261.0L820.3 259.1L819.8 257.3L818.6 255.6L816.8 253.8L815.3 251.8L814.7 249.8L815.6 248.1L817.6 246.9L820.1 246.2L822.3 245.5L823.4 244.4L823.5 242.6L823.2 240.0L823.2 237.1L824.2 234.7L826.3 233.3L829.3 233.0L832.7 233.6L836.0 234.6L839.0 235.3L841.9 235.6L845.0 235.6L848.2 235.8L851.4 236.6L854.2 238.2L856.4 240.4L858.0 242.8L859.3 245.1L860.9 246.9L863.1 248.5L865.7 250.0L868.3 251.8L870.0 253.8L870.2 256.0L868.9 258.0L866.7 259.6L864.5 260.9L863.0 262.1ZM502.6 429.0L499.5 429.3L497.9 430.5L495.0 429.5L492.4 427.8L493.4 426.1L494.7 425.1L496.6 424.0L499.7 424.9L500.8 426.9ZM396.2 502.6L394.5 505.0L392.2 506.6L389.5 506.5L386.7 507.5L384.6 505.6L380.8 504.5L380.3 501.0L382.5 498.4L384.9 497.0L386.5 494.7L389.3 495.3L392.0 495.5L395.5 496.4L396.1 499.6ZM465.2 210.5L465.2 212.0L462.6 211.7L460.5 212.1L459.2 210.9L457.4 209.6L459.7 208.8L461.2 208.3L463.4 208.1L465.1 209.3ZM87.5 211.6L88.4 208.7L89.7 206.2L90.4 204.4L89.6 203.0L89.1 200.7L90.6 198.2L93.1 196.4L95.3 194.4L97.8 192.4L100.3 191.9L102.2 192.3L104.2 192.4L106.0 193.0L106.5 194.8L106.4 196.9L106.2 199.0L104.7 201.3L102.9 203.3L101.9 205.4L100.5 207.8L98.3 209.4L96.0 210.7L93.3 213.1L89.9 215.1L87.7 214.4ZM826.9 169.9L826.6 172.8L825.2 176.1L821.8 176.6L818.5 176.0L816.1 173.7L815.5 170.6L813.8 169.4L810.9 167.9L808.7 164.9L808.8 161.4L812.6 160.2L815.7 160.0L817.6 157.7L820.5 157.2L823.2 158.8L825.4 160.4L826.7 162.8L827.9 165.1L828.3 167.7ZM175.9 243.8L176.1 242.9L177.0 242.4L177.9 241.9L178.8 242.0L179.4 242.5L179.5 243.4L178.8 244.1L177.7 244.1L176.7 244.3ZM465.1 383.6L466.4 382.1L467.8 381.0L469.8 380.3L471.4 380.5L473.1 380.8L472.8 382.2L470.6 383.2L468.8 383.6L466.7 384.1ZM115.6 280.6L116.7 278.1L118.0 275.9L119.3 273.9L120.3 271.8L121.4 269.8L122.6 267.7L124.1 265.7L125.7 263.3L127.5 260.5L130.0 257.6L133.2 255.7L136.9 255.7L140.1 257.8L142.4 261.1L143.9 264.3L145.5 266.2L147.9 267.1L151.1 267.6L154.2 268.8L156.3 270.9L157.1 273.6L156.7 276.5L155.8 279.2L154.7 281.6L153.5 283.8L152.6 286.0L151.9 288.4L151.3 291.2L150.5 294.2L148.7 296.9L145.9 298.4L142.4 298.3L139.0 296.9L136.2 295.5L133.8 295.1L131.0 295.9L127.6 297.1L124.0 297.6L120.8 296.6L118.5 294.3L117.1 291.6L116.1 288.8L115.4 286.0L115.2 283.3ZM85.8 344.9L84.6 345.6L82.7 345.7L80.5 344.1L78.7 342.2L80.1 341.3L80.8 340.4L82.7 340.3L85.4 341.7L85.8 343.6ZM699.4 563.2L698.9 561.9L698.8 560.2L698.5 558.2L699.3 554.9L702.2 553.3L703.9 553.7L705.5 552.4L707.3 551.6L708.4 552.5L708.7 554.3L707.9 556.9L705.8 559.3L704.2 561.6L702.1 563.6L700.5 563.7ZM746.6 200.7L746.7 198.8L746.5 197.0L747.6 194.8L750.1 192.9L752.9 191.9L755.3 190.9L757.8 190.2L759.7 190.5L762.2 190.6L764.4 191.4L763.8 193.8L761.9 196.1L759.6 198.0L757.4 199.6L755.0 200.8L752.7 201.5L749.7 202.6L746.9 202.7ZM803.1 591.7L801.3 589.1L800.8 586.6L801.3 584.3L802.7 581.9L805.6 581.3L808.0 583.0L807.1 586.0L807.9 588.6L805.9 590.5ZM623.8 214.8L623.6 216.8L621.6 217.7L619.4 217.4L617.5 216.2L617.2 214.1L618.4 212.6L619.8 210.8L622.0 211.7L624.2 212.7ZM710.0 150.8L710.0 149.5L709.8 148.1L711.2 147.2L712.4 147.4L713.9 147.2L714.5 148.4L713.4 149.7L712.5 150.8L711.1 151.5ZM61.2 475.8L58.1 476.3L56.2 473.3L55.7 469.9L53.4 468.6L50.5 466.6L50.0 463.3L50.8 460.1L52.4 457.3L55.4 456.2L58.0 455.9L59.6 453.8L61.8 452.2L64.2 453.4L66.5 453.9L70.4 453.0L73.6 454.7L73.9 458.5L73.5 462.0L72.5 465.0L70.2 467.0L68.6 468.7L68.2 471.7L66.5 474.1L63.9 474.6ZM801.9 578.5L801.6 577.8L801.9 576.8L802.5 575.8L803.3 575.1L803.8 575.5L804.3 575.8L804.3 576.8L803.5 577.9L802.8 577.9ZM417.4 337.8L417.0 336.7L415.8 335.5L414.4 334.0L413.1 332.2L412.6 330.3L413.2 328.3L415.1 326.5L418.1 325.2L421.9 324.5L425.9 324.3L429.8 324.6L433.3 325.2L436.3 325.9L438.9 326.6L441.0 327.5L442.6 328.5L443.9 329.5L445.1 330.3L446.6 330.7L448.8 330.9L451.8 331.0L455.2 331.2L458.5 331.8L461.0 332.9L462.4 334.2L463.0 335.7L462.9 337.3L462.5 338.9L462.0 340.6L461.1 342.3L459.7 344.0L457.6 345.5L454.8 346.7L451.3 347.5L447.4 347.7L443.6 347.3L440.1 346.4L437.4 345.2L435.3 344.2L433.5 343.8L431.5 344.0L428.6 344.9L424.9 345.9L420.8 346.5L417.1 346.4L414.6 345.5L413.8 343.9L414.4 342.1L415.7 340.4L416.9 339.0ZM160.5 135.6L158.9 135.9L157.2 134.3L156.3 132.5L155.7 130.8L155.7 128.8L157.6 129.3L159.3 130.1L160.3 132.0L160.3 133.6ZM162.9 286.2L163.5 283.3L163.6 281.2L165.6 279.2L167.7 277.9L170.4 276.5L172.2 277.6L170.2 280.8L169.6 282.8L167.8 284.9L165.4 286.0ZM489.3 563.4L488.9 562.5L488.4 562.0L488.3 560.7L488.9 560.1L489.5 559.6L490.0 560.2L490.4 560.9L490.5 562.1L490.0 562.9ZM321.3 539.3L319.7 538.9L318.5 538.1L316.8 536.8L317.1 534.8L318.5 534.0L319.9 534.4L321.8 534.2L321.7 536.4L322.9 538.5ZM664.8 200.8L663.1 199.7L663.9 197.7L665.8 196.9L667.6 197.2L669.1 198.1L669.3 199.9L668.7 201.6L667.2 203.1L665.1 202.9ZM512.2 643.2L510.1 644.8L507.3 645.7L504.2 644.6L503.4 641.2L503.4 638.7L502.7 636.6L502.2 633.4L503.6 630.0L507.3 631.3L509.9 632.4L511.9 634.1L513.8 636.0L513.7 638.6L514.7 641.7ZM54.5 527.0L52.2 526.3L50.3 524.8L47.8 522.8L47.7 520.2L48.4 518.4L50.6 519.5L52.9 518.9L53.9 522.3L54.7 524.7ZM440.2 610.8L440.4 610.2L440.8 609.6L441.8 609.2L442.7 609.3L443.0 609.9L443.2 610.5L442.2 610.9L441.4 611.4L440.4 611.5ZM675.9 367.1L675.1 367.7L674.0 368.0L672.7 367.9L672.1 366.8L671.7 365.8L672.3 364.8L673.8 365.4L675.1 365.2L676.2 366.1ZM370.6 421.7L368.1 420.1L366.5 420.7L364.8 421.9L362.6 421.5L360.6 419.8L358.6 418.0L356.5 416.1L355.2 413.3L355.0 410.2L354.9 407.6L353.6 405.0L352.1 401.8L352.3 399.1L354.3 397.9L356.0 397.0L356.2 394.1L356.5 390.2L358.4 388.7L361.3 390.8L363.8 394.1L365.6 396.0L367.5 396.8L369.4 398.0L371.1 400.0L372.9 402.1L374.9 404.5L375.9 407.5L375.1 410.2L373.9 412.1L374.2 414.6L375.9 418.8L376.2 422.9L373.9 423.7ZM534.5 561.4L533.9 562.2L532.3 561.6L530.4 561.0L529.7 559.5L529.8 558.3L531.2 558.4L532.5 558.2L534.4 559.0L534.9 560.5ZM63.4 288.6L62.6 289.8L61.1 290.6L60.3 291.7L60.5 293.3L60.0 295.3L57.5 296.4L53.7 296.1L50.2 295.0L47.3 294.0L45.0 293.2L42.9 292.4L40.8 291.7L37.9 291.3L34.0 290.7L30.7 289.5L30.1 287.9L32.4 286.4L35.2 285.5L36.5 284.6L36.6 283.4L37.3 282.3L38.8 281.4L40.6 280.5L42.6 279.4L45.3 278.6L48.6 278.7L51.7 279.7L54.2 280.8L56.8 281.5L59.6 282.3L61.5 283.5L62.0 284.9L62.1 286.2L62.8 287.4ZM527.0 398.1L526.5 397.8L526.4 396.9L526.1 395.8L526.6 394.9L527.2 395.2L527.6 395.6L528.2 396.0L528.1 397.2L527.6 398.0ZM319.2 196.1L319.4 198.2L318.5 199.6L316.7 200.3L314.3 200.3L311.6 199.9L309.0 199.4L306.4 198.8L303.9 198.2L301.4 197.4L298.8 196.5L296.3 195.3L293.8 194.1L291.3 192.8L288.8 191.6L286.2 190.4L283.5 189.0L280.9 187.4L278.6 185.5L276.7 183.3L275.6 181.1L275.2 179.1L275.2 177.3L275.3 175.7L275.2 174.3L274.9 172.9L274.3 171.4L273.5 169.9L272.8 168.2L272.0 166.5L271.3 164.6L270.4 162.5L269.5 160.1L268.9 157.7L268.8 155.3L269.6 153.6L271.4 152.7L274.1 152.9L277.4 154.0L280.8 155.7L284.1 157.6L287.1 159.5L289.7 161.0L292.2 162.3L294.6 163.4L297.0 164.7L299.4 166.1L301.7 167.7L303.8 169.5L305.7 171.4L307.4 173.3L308.9 175.1L310.2 177.0L311.1 178.8L311.5 180.5L311.7 182.0L311.7 183.3L312.1 184.8L312.9 186.4L314.4 188.4L316.2 190.8L318.0 193.5ZM592.3 219.4L591.0 219.9L589.4 219.6L589.4 217.9L588.9 216.7L589.6 215.7L590.8 215.1L592.2 215.7L593.1 216.9L592.4 218.1ZM496.4 549.9L495.5 549.9L494.7 548.6L493.8 547.3L494.0 546.0L494.7 545.5L495.5 545.3L496.5 546.2L496.9 547.8L496.9 549.1ZM481.4 312.4L479.2 312.1L477.4 310.9L474.9 309.1L476.6 307.0L477.4 305.1L479.5 304.9L481.7 305.8L482.7 308.2L482.4 310.5ZM376.3 514.3L374.2 515.7L371.6 513.8L369.9 511.7L368.9 509.2L369.9 507.2L370.1 503.0L373.6 506.2L375.1 508.0L378.3 509.6L377.4 512.2ZM420.7 401.2L419.9 399.2L419.2 397.9L419.3 395.9L419.8 393.8L421.0 393.6L422.2 393.7L422.5 396.0L422.0 397.7L422.0 400.3ZM827.3 298.7L827.6 297.4L827.9 296.2L827.7 294.7L827.7 292.6L830.1 290.6L833.9 290.0L837.1 290.0L840.0 289.4L842.8 289.5L843.9 290.9L844.4 292.2L845.6 293.0L846.6 294.0L846.8 295.3L846.2 296.8L844.4 298.2L842.3 299.6L840.5 301.5L837.5 303.6L833.9 303.7L831.7 302.3L830.0 301.5L828.0 301.1L827.0 300.0ZM485.5 469.8L482.3 468.2L480.3 467.3L479.0 468.1L477.1 467.7L474.9 466.2L472.5 464.5L470.6 462.1L469.6 459.5L468.1 456.9L466.7 454.1L468.6 453.2L471.5 454.1L471.8 452.7L471.5 449.7L473.2 449.0L475.6 450.1L478.0 451.7L480.0 454.4L481.2 457.0L483.1 458.8L485.2 461.2L485.4 463.4L485.5 465.4L486.5 468.4ZM631.9 223.5L630.4 223.3L629.3 223.3L627.8 222.9L628.0 221.5L627.7 220.1L629.1 219.9L630.2 220.5L631.3 221.0L632.3 222.3ZM571.6 254.1L569.6 252.3L568.3 250.2L567.0 248.3L566.1 245.7L566.6 243.3L566.7 239.9L568.4 238.4L570.5 240.5L571.7 242.8L573.2 244.3L573.8 247.0L573.8 249.7L573.2 252.4ZM280.6 199.9L276.8 198.6L273.8 197.2L271.3 196.7L269.1 195.1L267.8 192.6L266.2 191.1L263.8 190.2L261.8 188.3L261.2 185.7L259.9 183.0L257.3 179.4L256.4 175.2L259.0 172.7L262.6 171.9L265.2 170.7L267.8 169.7L270.9 171.6L273.1 175.3L274.5 177.0L276.8 176.1L279.9 175.8L282.7 177.1L285.2 179.3L287.3 182.3L286.8 185.7L284.0 188.0L282.3 189.9L283.1 193.6L283.3 198.1ZM363.5 406.7L361.1 408.4L358.6 407.0L357.5 402.8L356.8 400.0L354.1 399.8L350.1 399.1L348.0 396.1L348.3 392.4L349.8 389.3L351.8 387.1L354.2 386.0L355.8 384.8L356.6 381.9L358.1 379.0L360.6 378.6L363.0 379.9L365.4 380.5L367.9 381.3L369.3 384.2L369.3 387.6L370.2 389.9L372.6 392.2L374.1 395.5L373.1 398.6L371.2 400.8L369.4 402.7L367.4 403.9L365.4 404.8ZM300.3 428.6L298.2 429.8L295.8 430.5L293.2 430.7L290.6 430.3L288.0 428.7L285.9 426.4L284.1 424.7L281.7 424.3L278.2 423.8L274.9 422.1L273.2 419.2L273.4 416.2L274.1 413.6L274.6 411.4L274.9 409.1L275.4 406.8L276.3 404.6L277.8 402.9L280.2 402.3L283.1 403.0L285.6 404.1L287.9 404.2L290.5 403.5L293.5 403.7L296.1 405.7L297.4 408.8L297.9 411.7L298.8 414.0L300.2 416.3L301.5 418.8L302.1 421.4L302.1 424.0L301.6 426.6ZM542.6 370.3L540.7 371.5L539.4 372.8L538.6 374.4L537.7 376.3L536.7 378.2L535.4 380.2L533.6 381.9L531.4 383.2L528.9 383.9L526.1 384.0L523.3 383.7L520.5 383.2L517.5 382.9L514.3 382.7L510.8 382.4L507.2 381.5L504.1 379.8L501.9 377.1L501.0 373.9L501.1 370.6L501.7 367.6L502.0 365.0L501.5 362.7L500.4 360.3L499.1 357.7L498.5 354.9L498.8 352.3L500.4 350.2L503.0 348.7L505.9 348.0L508.9 347.6L511.6 347.4L513.9 347.1L515.8 346.5L517.5 345.5L519.3 344.0L521.4 342.2L523.9 340.4L526.9 339.2L530.2 339.0L533.3 339.9L536.0 341.8L538.2 344.2L540.1 346.6L542.2 348.6L544.9 350.2L548.2 351.9L551.5 354.1L554.1 356.8L555.0 360.0L554.2 363.1L551.8 365.8L548.5 367.8L545.3 369.2ZM827.0 344.2L825.8 343.7L824.7 342.8L824.2 341.4L823.9 339.9L824.7 339.3L825.7 339.2L826.9 339.9L827.1 341.5L827.2 342.7ZM201.4 165.7L200.2 165.0L200.3 163.7L199.1 162.7L200.0 161.6L201.2 161.2L202.4 161.6L203.0 162.6L202.9 163.7L202.7 165.0ZM136.7 284.6L134.8 286.4L131.6 285.4L129.1 285.6L126.2 285.3L124.4 282.5L122.8 280.3L122.3 277.8L122.8 275.6L120.7 272.2L121.3 269.0L124.8 269.1L127.5 269.1L130.0 269.8L132.6 270.4L135.8 271.3L136.1 274.7L136.0 277.1L138.2 279.7L138.0 282.4ZM208.5 560.3L206.5 562.3L204.0 563.4L201.2 562.6L198.7 560.1L197.0 556.8L195.8 553.9L194.8 551.6L193.7 549.8L192.5 548.0L190.9 546.2L188.7 544.1L186.4 541.2L184.7 537.7L184.4 534.2L185.6 531.2L187.8 529.2L190.3 528.1L192.9 527.5L195.3 527.3L197.6 527.1L199.8 526.7L202.1 526.1L204.6 526.0L207.1 527.5L208.7 530.4L209.4 533.7L209.8 536.5L210.9 538.4L212.8 540.1L215.1 542.3L217.0 545.2L217.9 548.4L217.6 551.6L216.4 554.2L214.4 556.0L212.2 557.3L210.2 558.5ZM95.6 245.2L93.3 245.3L91.1 242.6L89.0 240.6L88.5 238.1L89.4 236.7L90.7 235.3L93.3 237.4L94.5 240.1L94.9 242.2ZM716.6 146.5L713.7 147.9L710.5 148.5L707.5 147.4L705.5 144.8L704.4 141.3L703.8 138.0L703.0 135.4L701.7 133.2L700.0 130.8L698.8 128.1L698.4 125.1L698.9 122.1L700.0 119.3L701.7 116.9L703.8 115.0L706.2 113.8L708.6 113.0L710.6 111.9L712.3 110.1L714.2 107.4L716.7 104.9L719.7 103.6L722.8 103.8L725.5 105.4L727.8 107.7L729.6 110.3L730.9 113.1L731.7 116.0L732.1 118.8L732.5 121.4L733.4 123.8L734.9 126.4L736.1 129.5L736.4 132.7L735.2 135.6L732.9 137.8L730.2 139.2L727.7 140.2L725.5 141.3L723.5 142.4L721.4 143.6L719.2 145.0ZM408.0 134.8L410.1 138.8L410.1 142.2L406.9 142.4L402.8 139.9L399.6 137.5L397.3 136.4L395.1 135.7L392.9 134.6L390.7 133.2L388.1 131.8L385.4 130.0L383.6 127.6L382.9 125.1L382.5 122.7L382.0 120.3L382.9 118.4L385.6 117.9L388.3 118.0L389.7 117.0L390.7 114.8L392.9 113.8L395.9 115.4L398.4 118.1L400.4 119.8L403.0 120.3L406.2 121.2L409.2 123.1L411.2 125.6L412.0 128.2L411.0 130.3L408.6 131.5L407.1 132.4ZM102.6 492.6L100.6 492.9L98.6 492.3L96.1 491.5L93.9 489.1L95.2 485.7L94.4 482.8L93.8 479.0L96.6 478.2L99.0 478.5L101.0 478.9L103.3 478.1L105.5 479.7L106.0 482.8L108.5 485.4L108.3 488.7L106.3 490.8L104.9 492.8ZM180.9 441.4L179.3 439.4L177.9 437.8L177.2 435.3L177.4 432.6L177.7 429.6L178.8 426.3L181.2 425.0L183.1 427.7L184.7 428.7L186.3 430.4L186.4 433.4L185.2 435.8L185.2 439.4L183.3 441.9ZM538.1 263.0L536.5 262.5L534.1 261.2L534.4 257.6L536.3 255.3L538.3 254.8L540.1 254.7L542.6 255.3L541.7 258.8L542.5 262.4L540.2 264.1ZM836.3 634.1L835.3 636.4L833.8 638.5L831.4 639.8L828.3 639.5L825.6 638.0L823.6 637.4L821.0 638.0L817.7 638.1L814.4 636.9L811.8 634.7L810.5 631.7L811.1 628.7L812.8 626.3L814.7 624.5L816.8 623.0L819.2 622.2L821.6 621.8L824.0 621.6L826.4 621.9L828.8 622.4L831.9 622.6L835.6 623.5L838.0 625.9L838.2 629.0L837.3 631.8ZM400.3 136.7L399.3 138.6L396.9 139.5L394.6 140.5L391.7 140.9L389.0 138.9L386.6 137.5L383.7 136.2L382.9 133.9L383.1 131.8L382.8 129.7L383.5 127.7L385.2 126.1L388.2 126.2L390.9 126.6L394.2 125.9L397.1 127.6L397.4 130.6L398.4 132.4L400.0 134.4ZM793.7 519.3L792.9 519.8L792.1 518.3L791.4 517.1L791.8 516.2L791.9 515.2L792.7 515.4L793.7 516.0L794.1 517.5L793.8 518.3ZM670.2 260.8L670.0 259.8L671.9 259.3L674.0 259.0L675.2 259.9L676.3 260.6L675.2 261.4L674.2 262.3L671.9 262.3L670.6 261.6ZM594.3 270.6L592.7 270.0L591.0 270.6L589.1 270.1L587.7 267.8L586.5 265.5L584.9 263.5L583.6 260.7L583.6 257.6L584.1 254.9L584.3 252.2L585.2 250.0L587.0 249.4L588.4 248.8L589.2 246.5L590.5 244.0L592.5 244.0L594.3 245.6L596.1 247.1L597.9 249.0L598.7 252.2L598.6 255.3L599.0 257.8L599.9 260.4L600.0 263.2L599.4 265.6L598.9 268.2L598.1 271.0L596.4 271.8ZM815.2 646.5L815.4 644.3L815.2 642.2L814.9 640.0L816.1 637.6L818.7 635.6L821.5 634.2L824.4 633.3L827.1 633.1L829.4 633.3L831.6 632.6L834.6 631.1L837.9 630.5L839.7 631.9L840.0 634.1L840.4 635.9L841.4 637.4L842.2 639.2L842.7 641.4L842.7 644.0L841.1 646.7L837.5 648.1L833.5 648.0L830.6 647.5L828.6 647.8L826.4 648.5L824.1 648.9L821.5 649.2L818.4 649.3L815.9 648.5ZM581.8 335.1L580.5 334.7L579.3 333.1L579.6 330.8L580.2 328.9L581.4 327.8L583.1 328.1L583.3 330.8L583.8 332.7L583.5 335.3ZM383.0 431.4L383.9 433.9L383.7 436.9L382.8 441.0L379.5 443.4L375.9 439.9L373.7 437.8L370.6 437.6L368.7 435.4L367.4 432.7L368.0 429.7L369.7 427.5L369.7 424.3L372.0 422.3L375.0 422.1L378.0 419.9L381.5 420.3L383.8 423.0L385.6 425.7L384.4 429.1ZM748.5 521.9L746.9 520.6L748.2 518.6L750.1 516.7L753.0 516.0L755.1 514.5L757.9 513.9L760.5 514.0L763.6 514.3L762.9 516.8L763.0 518.8L760.3 520.6L757.3 521.3L755.7 522.6L753.1 524.7L748.8 526.7L748.4 523.9ZM191.1 268.2L188.3 265.7L185.9 262.7L183.9 260.2L182.0 259.0L180.0 258.9L177.7 259.1L175.3 258.5L173.4 256.7L172.4 253.5L172.2 249.6L172.6 246.0L172.8 243.1L172.3 241.0L171.0 239.2L169.3 237.2L167.6 234.8L166.6 232.1L166.4 229.4L166.7 226.7L167.2 224.1L167.5 221.4L167.5 218.3L167.6 214.9L168.2 211.7L169.6 209.2L171.5 207.6L173.8 206.9L176.0 206.5L178.1 205.6L180.0 204.2L182.1 202.6L184.5 201.7L186.9 202.5L189.1 205.2L190.7 209.3L191.6 213.8L192.2 217.5L193.1 219.6L194.8 220.3L197.3 220.4L200.2 220.9L202.8 222.3L204.4 224.8L204.8 228.0L204.3 231.2L203.3 234.1L202.5 236.6L202.2 239.0L202.2 241.6L202.2 244.2L201.9 246.7L201.2 249.0L200.4 251.3L199.7 253.9L199.2 257.0L198.7 260.8L197.8 264.7L196.2 267.7L193.9 269.0ZM212.6 440.2L209.6 441.1L207.3 438.5L206.8 435.4L207.8 433.1L208.0 430.5L209.7 427.8L212.6 428.7L215.0 430.5L216.2 433.3L215.3 435.9L214.0 437.8ZM248.0 341.6L246.8 340.8L246.2 338.9L245.9 336.8L246.9 335.4L248.1 334.2L249.3 335.1L250.0 336.9L249.8 338.9L249.3 341.0ZM298.4 468.8L297.2 469.0L295.9 469.7L294.8 468.7L294.9 467.3L295.1 466.2L296.1 465.5L297.5 465.3L298.3 466.4L298.7 467.6ZM347.8 392.0L348.4 388.6L350.1 386.2L351.0 383.5L353.2 381.7L356.2 381.0L359.5 380.7L361.9 382.8L361.5 386.2L363.7 388.4L364.9 391.9L361.5 393.7L358.4 394.0L356.1 395.5L353.0 395.6L350.5 394.1ZM537.0 576.3L535.4 576.1L534.1 574.2L534.5 571.2L536.1 569.3L538.0 568.2L539.5 569.9L539.9 572.2L540.4 575.0L539.2 578.2ZM331.7 548.9L329.5 550.3L327.2 549.7L326.2 546.4L326.0 542.8L326.0 539.8L326.5 537.0L327.3 534.7L327.7 532.4L328.2 529.7L329.3 527.5L330.8 525.8L332.6 524.3L334.5 524.0L336.5 524.4L338.8 525.1L340.3 527.7L339.7 532.1L338.0 535.5L337.4 537.7L337.7 540.0L337.6 542.9L336.8 545.7L335.3 547.5L333.5 548.0ZM130.5 141.3L129.9 142.7L128.3 141.2L127.0 140.8L126.3 139.6L126.1 138.0L127.6 137.7L129.0 138.3L130.1 139.0L131.4 140.3ZM713.2 375.8L711.3 376.9L709.3 378.0L707.0 378.1L704.6 377.1L702.4 375.8L700.3 374.5L698.2 373.2L696.5 371.3L695.2 369.0L694.2 366.8L692.7 364.8L690.3 362.7L687.6 360.0L685.8 356.6L685.5 353.2L686.4 350.3L687.8 347.6L689.2 345.1L691.0 342.9L693.6 341.8L696.7 342.3L699.7 343.7L702.2 345.1L704.3 345.8L706.3 346.2L708.3 347.0L710.1 348.3L711.8 349.6L714.0 350.7L716.6 351.8L719.3 353.6L721.3 356.2L722.3 359.2L722.8 362.3L723.4 365.5L723.8 368.9L723.3 372.1L721.3 374.2L718.4 375.1L715.5 375.3ZM97.9 431.1L96.3 429.6L95.5 426.9L97.6 424.0L99.5 422.4L101.4 421.3L103.8 420.1L105.6 421.6L105.4 424.7L104.4 427.6L101.9 428.8L100.1 430.6ZM495.5 653.8L496.0 650.7L496.9 648.0L498.6 645.7L499.8 643.8L499.6 640.7L500.0 636.6L502.9 634.7L506.6 635.7L509.5 636.2L512.7 635.1L516.0 635.4L517.4 638.6L517.2 642.0L517.5 644.2L518.4 646.1L519.8 648.1L522.0 651.1L523.0 654.9L520.5 657.6L516.3 658.0L513.2 658.5L510.8 660.1L507.8 660.3L505.5 658.4L503.4 657.2L500.1 657.5L496.7 656.6ZM450.3 451.3L448.0 450.2L445.5 449.0L443.2 447.3L441.7 445.0L441.0 442.3L441.2 439.4L441.8 436.6L442.6 433.9L443.3 431.3L443.8 428.8L444.2 426.1L444.5 423.3L445.0 420.3L445.7 417.0L446.9 413.7L448.6 410.6L451.1 408.1L454.2 406.6L457.7 406.4L461.1 407.4L464.3 409.2L466.9 411.2L469.1 412.7L471.2 413.4L473.6 413.2L476.3 412.6L479.2 412.3L482.0 412.7L484.4 413.9L486.3 415.8L487.7 418.1L488.9 420.5L490.2 422.8L491.6 425.2L492.9 427.7L493.9 430.5L494.3 433.5L493.9 436.6L492.8 439.5L491.1 442.2L489.1 444.6L486.9 446.7L484.6 448.5L482.2 450.0L479.9 451.4L477.7 452.8L475.6 454.5L473.6 456.6L471.3 458.9L468.7 461.2L465.6 462.7L462.5 463.1L459.5 462.1L457.1 459.9L455.3 457.3L453.7 454.7L452.2 452.7ZM175.5 290.1L176.5 293.1L172.8 292.2L169.7 290.7L167.3 289.3L165.6 287.6L163.5 286.0L161.9 283.9L162.1 282.2L163.4 281.2L164.9 280.0L168.4 282.0L170.6 283.7L173.6 284.7L174.9 286.7L174.1 288.0ZM681.6 151.6L679.2 150.2L678.1 147.2L681.3 144.1L683.2 142.4L684.4 139.3L687.0 138.6L689.1 139.4L691.8 139.6L692.7 142.1L692.6 145.0L692.2 148.4L688.9 149.6L686.5 149.3L684.4 151.0ZM550.8 469.0L549.3 469.5L547.3 468.5L545.5 465.9L544.2 463.4L542.9 460.6L543.1 458.2L545.1 458.6L545.5 456.7L546.8 454.6L548.9 457.6L550.4 460.3L551.9 463.0L551.7 465.2L550.7 466.3ZM102.3 149.0L104.3 146.4L105.9 144.5L108.3 142.7L111.0 143.9L114.2 144.3L115.0 147.1L114.5 149.8L112.5 151.8L109.8 152.4L106.9 153.0L104.6 151.3ZM439.7 418.7L437.6 420.1L435.4 417.6L435.3 414.1L433.4 412.2L433.1 409.3L434.4 407.5L436.2 406.6L438.3 408.0L440.2 409.5L441.5 412.1L441.4 414.7L440.2 416.1ZM216.3 203.2L218.6 198.7L220.3 195.5L220.5 194.2L219.3 193.8L217.9 193.2L217.1 191.8L217.2 189.9L217.7 187.6L218.4 185.0L219.7 182.2L221.6 179.4L224.1 177.3L226.5 175.7L228.8 174.1L231.0 172.1L233.4 170.2L235.6 169.4L237.1 170.1L237.9 171.6L238.7 172.8L240.1 172.8L242.1 172.4L243.7 172.7L244.0 174.4L243.2 176.9L242.3 179.2L242.0 181.1L242.3 182.8L242.2 185.0L241.2 187.5L239.3 190.0L237.1 192.1L235.0 194.0L233.2 196.0L231.2 197.9L229.2 199.7L227.1 201.3L224.8 203.2L222.0 205.8L218.8 208.4L216.2 209.2L215.2 207.4ZM360.8 418.8L359.7 417.2L359.8 414.7L361.7 412.3L364.4 412.2L365.9 413.5L367.6 414.9L367.1 417.6L364.8 419.2L362.2 420.9ZM628.2 292.3L625.4 293.1L622.6 293.4L619.8 293.3L617.0 292.5L614.4 291.1L612.0 289.3L610.0 287.4L608.1 285.9L606.1 285.1L603.7 284.8L600.8 284.7L597.7 284.2L595.0 282.9L592.9 280.8L591.7 278.1L591.2 275.2L590.9 272.3L590.2 269.6L588.9 266.9L587.1 264.0L585.3 260.6L584.1 256.9L584.0 253.2L584.9 249.9L586.8 247.0L589.4 244.8L592.4 243.3L595.7 242.4L599.1 242.2L602.6 243.0L606.0 244.6L608.9 246.7L611.3 248.8L613.2 250.2L614.8 250.4L616.5 249.4L618.7 247.5L621.5 245.4L624.8 243.8L628.2 243.2L631.6 243.6L634.7 244.9L637.6 246.7L640.2 249.0L642.6 251.7L644.3 254.9L645.0 258.4L644.5 262.0L642.8 265.4L640.3 268.3L637.9 270.7L636.1 272.7L635.2 274.9L635.1 277.4L635.3 280.4L635.2 283.6L634.5 286.7L632.9 289.2L630.8 291.1ZM183.5 478.9L183.2 476.8L184.9 475.4L186.8 475.3L188.3 475.8L190.2 476.6L190.2 478.6L188.6 479.9L186.7 480.8L185.5 479.4ZM795.6 407.6L794.4 408.9L792.1 408.5L789.6 406.8L789.1 403.8L788.1 401.8L787.1 399.3L787.3 396.8L789.6 396.9L791.9 397.6L793.8 399.9L795.7 401.7L796.6 404.1L797.0 406.5ZM635.7 412.4L635.2 413.7L634.3 415.0L632.5 415.3L629.9 414.7L627.2 413.6L624.6 412.5L621.9 411.0L619.6 408.9L618.2 406.7L617.4 404.8L616.5 403.2L615.3 401.6L613.6 399.7L611.7 397.3L610.4 394.9L610.9 393.3L613.0 393.1L615.6 393.6L617.7 393.8L619.9 393.9L622.4 394.8L625.0 396.4L627.3 398.4L629.3 400.3L631.0 402.1L632.4 403.9L633.6 405.7L635.0 407.6L635.9 409.4L636.0 411.0ZM840.1 235.5L838.7 234.5L839.1 232.3L841.1 230.3L843.1 227.3L845.8 227.6L846.7 229.2L848.1 229.9L848.1 231.7L847.9 233.9L846.0 236.6L843.0 237.5L841.4 236.1ZM831.2 199.2L829.6 197.0L829.0 194.5L827.8 191.3L830.5 189.4L832.4 186.8L835.5 186.7L838.4 187.6L840.0 190.0L840.3 192.5L842.3 195.0L842.5 198.6L839.5 200.5L836.1 199.4L833.2 201.7ZM70.5 449.1L67.5 449.0L65.2 446.8L64.3 443.9L64.1 441.3L64.1 438.9L64.2 436.0L66.1 434.1L68.6 432.5L71.5 433.4L73.3 436.3L73.0 439.5L73.5 441.8L73.5 444.3L72.8 447.3ZM403.6 371.3L403.6 370.5L404.1 369.6L405.4 369.0L406.4 368.8L407.3 368.8L407.5 369.6L406.4 370.6L405.4 371.3L404.1 371.8ZM439.0 438.9L436.7 440.4L434.1 440.8L431.1 441.5L429.2 439.0L427.4 436.5L428.5 433.7L431.0 432.4L433.2 431.2L436.0 431.5L438.8 433.0L439.1 436.1ZM520.9 350.6L520.2 350.5L519.6 349.7L518.8 348.8L519.0 347.7L519.6 347.4L520.2 347.6L521.1 347.9L521.2 349.1L521.6 350.4ZM705.4 488.9L703.4 489.4L701.1 489.7L698.7 488.9L696.9 486.6L696.7 483.1L697.0 480.5L695.2 478.4L693.3 475.3L694.0 472.5L695.5 470.4L696.6 467.7L698.7 466.1L701.3 466.8L703.7 468.4L705.4 470.7L706.6 473.0L708.3 474.5L710.1 476.6L710.2 479.3L710.2 481.9L711.3 485.6L710.8 489.0L708.0 489.4ZM460.3 593.7L459.5 594.2L458.6 595.0L457.7 594.2L457.2 593.3L457.3 592.4L457.6 591.3L458.8 591.6L459.8 591.8L460.4 592.7ZM733.0 554.6L733.9 552.8L735.3 551.3L736.2 549.2L739.2 547.9L742.0 549.4L744.6 548.5L747.6 548.3L749.4 549.4L749.5 551.1L747.9 552.8L747.3 554.6L744.3 555.7L741.6 556.9L739.0 556.6L737.4 555.8L733.5 556.3ZM190.4 163.5L189.1 163.6L187.6 163.7L185.5 163.8L183.2 162.1L182.4 158.2L183.0 154.6L184.0 152.2L185.3 151.1L185.9 149.6L186.0 146.3L187.1 143.9L188.9 144.3L190.5 146.2L191.8 148.3L193.3 150.1L195.2 152.4L195.8 155.8L194.6 158.5L193.7 160.5L193.0 162.5L191.7 163.3ZM664.8 249.4L664.2 249.4L663.4 249.2L662.6 248.2L662.3 247.1L662.8 246.7L663.4 246.7L664.3 246.8L665.1 247.9L665.1 248.8ZM244.1 481.2L242.2 481.3L240.1 480.2L239.0 477.3L237.2 475.8L233.9 472.8L234.4 469.6L236.9 469.2L238.7 469.2L240.4 469.6L242.2 470.6L244.7 471.7L245.8 474.8L246.0 477.6L245.5 479.9ZM604.1 643.7L602.7 643.7L601.3 642.0L599.4 640.8L599.4 639.0L599.6 637.5L601.2 638.0L602.8 638.5L603.7 640.5L604.5 642.3ZM743.4 185.6L742.3 186.9L740.3 187.2L738.6 187.1L737.2 186.2L736.3 184.8L737.4 183.7L738.8 182.5L740.6 183.7L741.9 184.3ZM937.8 320.1L935.3 320.4L932.6 319.9L930.1 319.2L927.8 318.8L925.8 318.6L923.7 318.3L921.5 317.7L919.2 316.7L917.0 315.3L914.8 313.7L912.6 312.1L910.4 310.3L908.4 308.2L906.8 305.8L905.7 303.3L905.0 300.9L904.5 298.6L903.9 296.4L903.4 294.1L903.0 291.7L903.0 289.4L903.4 287.3L904.2 285.5L905.5 284.1L907.2 283.2L909.4 283.0L911.9 283.5L914.3 284.4L916.6 285.4L918.7 285.9L920.9 286.2L923.4 286.4L926.0 287.3L928.5 289.0L930.5 291.5L931.8 294.3L932.4 297.0L932.9 299.4L933.6 301.5L934.6 303.5L935.9 305.7L937.4 308.2L938.9 311.0L939.9 314.0L940.2 316.8L939.5 318.9ZM971.8 609.6L968.5 611.4L966.5 612.2L965.9 616.1L962.6 617.0L960.0 614.8L957.9 612.9L955.8 610.4L957.0 607.5L958.7 605.3L961.7 605.2L963.5 603.6L966.8 602.0L970.0 603.3L971.3 606.5ZM408.7 404.7L408.1 403.4L408.5 401.3L409.6 399.0L411.3 397.8L412.6 397.8L414.2 398.2L412.6 401.1L411.7 403.0L410.1 405.3ZM764.3 222.4L762.1 221.5L760.7 219.7L759.8 217.2L762.4 216.5L763.3 214.6L765.9 213.7L767.1 216.4L766.0 218.6L765.9 220.6ZM362.9 202.8L361.8 201.1L362.4 199.0L363.8 197.5L365.6 196.4L367.5 196.9L367.8 198.8L368.6 200.8L366.8 202.4L364.9 202.5ZM93.2 322.5L91.4 324.5L89.1 322.9L88.5 320.2L89.1 318.2L89.5 315.4L92.1 315.9L94.0 317.4L95.5 319.5L95.6 322.2ZM787.8 440.3L786.7 438.2L788.6 436.0L791.9 435.0L793.2 437.7L796.4 438.6L795.0 441.0L793.1 442.8L790.2 444.2L787.3 443.0ZM264.7 439.3L262.6 437.8L263.0 435.2L266.2 434.0L269.3 432.9L271.7 434.2L274.1 435.3L272.9 437.7L273.3 439.6L272.1 442.1L268.9 442.7L265.4 443.9L263.5 441.9ZM652.9 575.4L650.3 574.6L648.2 573.0L649.0 570.4L647.9 567.2L650.7 566.2L653.1 567.5L655.3 568.5L655.8 571.1L654.7 573.4ZM128.4 336.7L126.6 337.8L124.7 338.8L121.9 339.5L118.7 338.2L118.2 335.8L115.9 334.1L116.6 332.4L118.6 331.3L121.2 331.3L124.2 331.2L127.7 332.3L126.8 334.8ZM872.1 338.4L871.2 336.0L871.4 333.4L872.4 330.1L875.7 329.5L878.0 331.5L879.8 332.5L882.4 334.2L882.6 337.5L879.3 339.1L876.8 340.0L874.1 340.1ZM726.0 492.4L724.9 489.8L724.4 487.4L722.5 484.9L723.3 481.6L726.2 479.9L728.7 478.5L731.2 478.7L733.8 479.0L735.5 480.8L737.0 483.0L737.0 486.0L736.2 489.0L733.9 491.1L731.2 491.6L728.6 493.5ZM683.3 637.4L681.0 638.3L677.8 640.4L674.3 641.0L671.6 639.1L669.9 636.3L668.1 633.6L666.6 630.7L666.9 627.3L669.0 624.3L671.0 622.0L671.5 619.6L671.5 616.8L672.7 614.3L675.0 613.0L677.1 611.7L679.1 609.2L681.6 607.1L684.7 607.5L687.0 610.2L688.9 612.4L691.7 612.5L695.7 612.2L699.0 613.8L699.9 617.2L699.2 620.9L698.4 624.0L697.8 626.8L696.4 629.3L694.5 631.1L693.5 633.3L693.2 636.6L692.0 640.0L689.1 640.9L685.8 639.1ZM737.5 144.7L739.5 143.4L740.8 142.3L743.3 141.5L744.5 142.5L746.8 142.8L746.2 144.2L743.7 145.0L741.6 145.4L739.4 145.4ZM757.2 143.4L756.5 141.2L757.3 138.9L757.2 136.5L758.3 133.8L761.5 133.3L763.8 132.2L766.3 132.1L769.7 131.4L773.6 131.8L772.1 135.9L769.8 138.6L768.3 140.3L767.8 142.4L766.7 145.8L763.7 146.3L760.6 147.2L757.6 146.5ZM370.7 203.5L370.3 204.8L369.2 206.0L367.0 205.1L365.0 202.5L363.1 199.9L362.1 197.1L363.4 195.9L363.7 194.5L364.3 193.1L365.6 192.4L367.7 193.7L369.5 196.2L371.3 198.1L373.4 200.7L375.3 204.1L373.4 205.0ZM504.0 474.4L503.2 476.1L502.3 477.7L500.5 478.2L497.8 477.1L494.5 474.4L491.5 471.1L489.2 468.2L487.5 466.4L486.1 465.8L484.4 465.6L482.4 465.3L480.1 464.5L477.6 463.2L475.0 461.5L472.0 459.4L469.1 456.9L466.8 454.0L465.6 451.1L465.8 448.7L467.0 447.0L468.4 445.7L469.2 444.3L469.3 442.6L469.3 440.7L469.9 439.2L471.3 438.6L473.3 438.8L475.4 439.3L476.9 439.2L478.0 438.2L479.3 436.9L481.1 436.1L483.4 436.6L486.0 438.5L488.3 441.2L490.3 444.0L492.0 446.3L493.7 448.3L495.4 450.1L497.0 452.1L498.3 454.1L499.5 456.1L501.0 458.2L503.0 460.6L505.3 463.4L507.3 466.4L508.2 469.2L507.8 471.1L506.5 472.4L505.0 473.3ZM324.4 212.9L321.6 211.4L321.0 208.8L322.2 206.0L323.2 203.4L323.7 200.5L325.1 197.8L328.2 196.1L331.6 195.8L334.5 195.9L336.9 195.7L339.2 195.5L341.5 195.3L344.3 194.7L347.5 194.4L350.1 195.4L351.1 197.8L351.3 200.3L352.7 202.3L355.1 204.7L355.8 207.7L353.3 210.5L349.1 211.9L345.7 212.7L343.8 214.0L342.1 215.9L340.0 217.9L337.3 219.5L334.2 220.3L331.5 219.4L330.0 217.0L329.3 214.6L327.6 213.5ZM542.5 499.9L540.4 500.7L537.7 501.1L537.6 498.1L536.3 496.3L537.0 493.9L539.5 493.4L541.7 494.0L543.5 495.5L543.2 497.8ZM932.9 471.9L931.8 469.4L931.4 466.8L932.0 464.1L932.9 461.6L933.9 459.4L935.4 457.5L937.2 456.1L938.5 454.1L939.6 450.6L941.9 446.9L945.3 445.4L948.7 446.4L951.5 448.2L953.9 450.2L955.3 452.8L955.7 455.8L956.4 458.1L958.1 460.3L959.4 462.9L958.5 465.8L955.9 467.9L953.3 469.3L951.3 470.6L949.4 471.8L947.6 473.5L945.4 476.4L942.1 479.9L938.0 481.2L935.0 478.9L933.7 475.1ZM313.5 246.4L312.0 244.7L310.8 243.2L309.1 242.3L307.4 240.1L305.4 236.4L307.7 233.5L310.7 233.5L311.8 231.2L313.6 231.2L315.2 232.0L316.6 233.2L318.5 234.3L320.6 236.8L319.1 240.0L318.4 242.8L317.7 246.1L315.4 246.2ZM674.4 527.5L676.1 529.8L672.7 530.4L669.9 530.9L666.9 530.3L665.6 528.6L665.3 527.1L664.2 525.6L664.0 523.1L667.5 522.8L670.6 523.6L672.7 524.7L674.1 526.0ZM615.6 398.8L613.5 400.0L611.0 400.4L608.6 401.1L605.4 400.3L603.0 398.7L602.6 396.8L603.0 395.5L600.5 393.2L601.1 391.0L604.9 391.6L608.0 392.3L610.7 393.3L611.3 395.3L613.5 396.6ZM173.4 273.8L172.5 273.1L172.3 271.8L172.4 270.2L173.6 269.6L174.7 269.3L175.7 270.0L175.8 271.4L175.5 272.8L174.6 274.0ZM821.2 286.3L819.2 288.1L816.0 287.9L812.7 286.5L810.4 285.9L808.4 287.2L805.7 289.1L802.3 289.6L799.2 288.3L796.8 285.8L795.3 282.9L794.9 279.8L795.6 276.9L796.3 274.6L795.9 272.4L794.7 269.7L794.4 266.9L796.0 265.0L798.4 264.0L800.5 263.0L802.5 261.7L804.9 260.8L807.6 260.9L810.4 261.4L813.3 261.7L816.5 262.6L818.8 264.9L819.6 268.1L819.5 271.1L819.8 273.5L820.8 275.7L821.7 278.2L822.0 280.8L821.9 283.5ZM397.8 483.7L398.5 481.2L399.2 478.9L399.3 476.5L398.8 473.9L398.1 471.0L397.6 467.8L397.9 464.6L399.4 461.8L402.0 459.8L405.3 458.7L408.8 458.3L412.1 457.9L414.9 457.3L417.5 456.1L420.0 454.6L422.8 453.2L425.9 452.4L429.0 452.7L431.8 454.1L434.1 456.3L436.0 458.6L437.6 460.8L439.2 462.5L441.0 463.9L443.0 465.0L445.2 466.2L447.2 467.7L449.0 469.4L450.8 471.2L452.5 473.3L454.2 475.5L455.7 478.0L456.8 480.7L457.0 483.6L456.1 486.4L454.4 488.8L452.1 490.9L449.8 492.9L448.1 494.9L446.8 497.3L445.9 500.3L444.7 503.4L442.7 506.3L439.9 508.2L436.4 508.7L432.7 507.8L429.2 505.9L426.3 503.7L423.8 501.9L421.6 500.9L419.3 500.7L416.7 500.9L413.9 501.2L411.0 501.1L408.3 500.3L405.8 499.1L403.6 497.5L401.6 495.7L399.9 493.7L398.4 491.4L397.6 489.0L397.4 486.3ZM218.2 340.9L217.6 339.7L219.5 338.1L222.3 337.3L223.8 338.0L227.1 337.9L224.7 339.8L223.5 341.2L220.9 342.5L218.6 342.1ZM73.1 524.2L70.7 523.6L70.1 525.1L68.3 525.7L65.5 524.0L62.7 522.5L61.5 520.0L61.3 518.3L59.3 516.2L59.1 514.5L59.0 512.5L60.8 512.1L63.9 513.9L65.8 513.8L68.3 515.2L70.1 517.3L72.8 519.1L73.7 521.2L73.8 523.0ZM83.1 222.2L84.2 219.6L84.1 218.2L85.6 216.5L87.4 214.9L88.7 215.2L89.0 216.5L88.1 218.5L86.6 219.8L84.7 222.3ZM275.2 333.3L275.8 332.2L276.8 330.8L279.4 330.2L280.2 331.2L282.2 331.2L282.1 332.4L280.6 333.8L278.2 333.5L276.0 334.1ZM240.9 437.3L240.2 434.9L242.5 433.6L245.1 433.2L246.9 434.8L247.9 436.7L247.9 439.1L245.4 439.9L243.0 440.8L240.7 439.6ZM376.7 595.8L375.9 596.1L374.7 595.9L373.3 595.0L372.5 593.7L372.6 592.8L373.7 592.7L374.9 593.1L376.6 593.6L376.9 595.0ZM667.7 506.6L667.4 505.1L669.1 503.8L670.9 503.2L672.6 503.3L673.8 504.2L674.6 505.8L672.3 506.9L670.7 507.4L668.7 507.8ZM244.3 519.3L243.2 517.4L247.4 516.4L249.6 515.2L252.3 514.2L255.4 514.5L256.8 516.0L258.3 516.7L262.7 517.0L262.3 518.8L261.1 520.4L259.4 522.0L256.2 522.7L253.0 522.8L250.9 521.6L248.9 521.1L247.1 520.3ZM287.9 208.3L287.5 207.1L287.6 205.7L288.9 205.3L289.8 205.3L291.3 205.1L291.8 206.5L291.3 207.7L290.2 208.1L289.2 208.6ZM108.1 151.0L105.7 150.9L105.2 147.9L104.6 145.6L102.6 143.7L102.1 140.6L103.2 137.3L104.9 134.4L107.6 133.1L110.1 133.0L111.9 131.2L114.2 129.3L115.9 131.2L116.7 133.6L118.8 134.0L120.7 135.4L121.4 138.0L122.2 141.1L121.7 144.6L118.9 147.0L116.4 148.3L114.4 149.8L112.3 149.7L110.5 149.4ZM813.1 561.4L811.0 559.5L811.3 556.2L814.5 554.8L816.4 552.7L819.1 552.9L820.2 555.2L822.7 557.2L820.9 560.3L817.8 561.0L815.5 561.8ZM127.4 274.3L125.9 274.1L125.7 271.7L126.6 268.7L128.4 267.2L129.6 268.0L130.8 268.4L131.7 270.3L130.4 273.3L128.6 274.4ZM638.3 477.1L638.0 479.6L636.9 481.8L635.3 483.7L633.6 485.6L632.1 487.5L630.5 489.6L628.7 491.6L626.4 493.2L623.6 494.3L620.7 494.9L617.8 495.3L614.8 495.7L611.6 496.1L608.4 496.1L605.3 495.2L602.7 493.2L601.0 490.1L600.3 486.6L600.0 483.5L599.3 481.4L597.7 480.1L594.8 479.3L591.2 478.2L587.8 476.6L585.6 474.3L584.9 471.6L585.4 468.9L586.5 466.4L587.2 464.0L587.5 461.5L587.5 458.6L587.9 455.7L589.1 453.1L591.3 451.1L594.3 449.9L597.6 449.4L600.9 449.4L603.9 449.4L606.7 449.6L609.5 450.0L612.0 450.8L614.4 451.8L616.7 452.6L619.0 452.9L621.8 452.4L625.5 451.3L629.7 450.4L634.0 450.5L637.5 452.1L639.2 455.0L639.1 458.7L637.6 462.3L635.8 465.4L634.8 467.9L634.9 470.0L636.1 472.1L637.5 474.5ZM288.6 206.2L287.2 207.0L285.7 207.7L284.0 208.9L281.7 209.1L279.4 207.2L277.6 204.6L275.7 202.5L273.7 200.1L273.3 197.3L274.0 194.9L273.6 192.7L271.8 189.4L271.4 186.3L273.4 185.3L275.7 185.2L277.1 184.0L278.6 182.5L281.0 182.8L283.4 184.8L285.3 187.2L286.6 189.9L287.2 192.5L288.3 194.1L291.8 195.7L296.4 199.0L298.0 203.0L295.4 204.9L291.7 204.9L289.7 205.2ZM278.2 346.8L277.2 346.9L276.4 345.8L275.8 344.9L276.0 343.9L276.6 343.4L277.4 342.8L278.4 343.5L278.5 344.8L278.2 345.5ZM358.1 162.3L357.5 160.9L356.8 160.0L356.7 158.0L357.5 156.2L358.6 157.2L359.7 156.7L359.8 158.6L359.7 160.2L359.3 162.4ZM714.0 654.4L712.3 655.3L710.5 654.1L708.5 654.2L708.1 652.5L707.1 650.4L709.3 650.1L711.0 650.5L712.5 651.1L713.8 652.5ZM735.3 203.1L733.8 203.2L732.6 202.4L731.4 201.3L731.5 199.8L732.2 198.6L733.5 198.1L735.0 198.7L735.6 200.2L735.7 201.6ZM759.2 221.7L758.8 220.8L758.8 219.5L759.9 218.6L760.9 217.9L762.0 217.8L762.3 218.9L762.2 220.1L761.4 221.3L760.3 221.6ZM243.1 314.5L241.3 314.6L239.3 313.8L237.7 312.5L236.7 311.2L235.5 309.4L237.1 309.1L239.2 310.2L240.8 311.4L241.8 312.7ZM653.2 430.4L652.2 430.7L650.8 430.7L650.2 428.9L650.0 427.9L650.0 426.9L650.8 426.1L652.2 427.0L653.2 428.2L653.2 429.3ZM854.3 611.5L853.8 610.4L854.7 609.0L855.8 607.9L857.3 607.4L858.5 607.7L858.8 608.9L858.2 610.3L856.8 611.1L855.3 612.2ZM824.7 250.8L824.0 251.3L823.0 251.4L821.6 251.4L820.9 250.4L821.2 249.6L821.5 248.7L822.8 249.0L824.0 249.0L825.0 249.9ZM460.9 255.0L459.6 255.3L457.6 254.3L455.2 253.2L454.2 251.1L454.6 249.7L456.6 250.3L458.1 250.2L460.7 251.6L460.9 253.6ZM846.4 238.7L846.8 237.5L848.0 236.5L849.5 236.9L850.7 237.0L852.1 237.7L851.6 239.0L850.0 239.5L848.7 239.8L847.5 239.4ZM294.6 397.4L294.6 399.5L291.8 400.6L290.1 401.9L289.1 404.6L286.1 405.5L283.0 404.4L279.9 404.1L276.8 403.3L275.0 401.2L274.1 399.0L275.3 396.8L278.1 395.5L277.1 393.7L275.2 390.1L277.4 388.2L281.0 388.2L284.2 388.0L287.2 388.8L289.4 390.4L291.9 391.5L293.6 393.3L293.6 395.4ZM730.8 585.7L730.5 583.3L730.3 581.1L731.2 578.3L733.9 578.8L736.4 578.0L736.8 580.5L737.4 582.9L735.1 584.4L733.1 586.4ZM228.0 160.7L228.7 160.0L229.7 159.6L230.9 159.2L232.3 159.3L232.3 160.0L232.2 160.6L231.1 161.0L229.8 161.5L229.0 161.0ZM365.9 483.0L364.6 483.3L363.4 483.3L363.0 482.0L362.3 481.1L362.5 479.9L363.5 479.0L364.7 479.9L365.4 480.8L366.2 481.8ZM427.0 615.0L427.3 612.5L427.9 610.4L428.4 607.8L431.1 606.6L433.4 605.3L435.9 604.9L436.8 606.7L436.3 609.0L435.3 611.1L434.3 613.9L431.6 614.7L429.4 615.0ZM448.5 563.4L448.0 562.8L448.9 561.6L449.9 560.6L451.0 560.0L451.8 560.2L451.9 561.0L451.4 562.1L450.3 562.9L449.2 563.7ZM542.7 490.4L539.8 491.5L537.0 491.8L534.7 490.1L533.7 487.4L534.5 484.7L536.8 483.3L539.7 482.4L542.1 484.4L541.9 487.3ZM117.5 527.2L116.0 528.0L113.9 526.2L112.0 525.7L110.7 523.0L109.1 521.1L105.9 518.2L106.1 515.3L107.0 513.2L108.8 512.6L110.5 512.2L112.6 512.7L114.1 516.8L115.7 517.4L118.8 518.8L120.5 522.0L121.1 525.3L118.8 526.1ZM422.4 205.8L419.9 205.7L417.6 205.9L415.1 205.6L412.6 204.4L409.7 203.1L407.3 200.4L407.6 196.9L408.7 194.0L409.3 191.4L411.2 189.7L413.4 189.1L415.1 187.7L417.2 186.9L419.5 187.1L422.4 186.9L425.6 188.0L427.3 191.1L428.1 194.3L428.2 197.5L426.4 199.8L424.7 201.5L424.1 204.1ZM114.6 439.1L113.7 437.3L114.8 434.9L116.2 433.1L118.0 432.1L120.4 431.3L120.5 433.7L119.9 435.9L118.6 438.0L116.7 438.5ZM646.0 472.2L644.2 473.1L642.1 474.7L639.7 474.1L637.8 472.0L635.2 471.4L631.6 470.6L630.1 467.6L630.8 464.1L630.3 461.2L628.9 457.4L630.3 454.5L633.9 453.8L637.0 454.1L639.4 454.5L641.3 455.3L643.1 454.4L646.1 451.9L649.5 451.9L650.8 455.3L651.4 458.4L654.1 460.7L656.5 463.9L655.4 467.3L652.7 469.4L650.8 471.2L648.5 472.3ZM429.9 424.7L429.4 425.0L428.5 424.7L427.5 424.2L427.4 423.6L427.1 423.0L427.2 422.4L428.3 423.0L429.1 423.5L429.6 424.1ZM177.1 309.9L177.1 307.1L179.9 304.2L180.5 302.5L181.4 299.8L184.0 297.7L186.4 297.9L188.1 298.8L188.7 300.7L188.4 303.0L186.4 305.2L184.7 306.9L182.6 308.5L179.8 310.2ZM350.1 395.3L348.9 394.2L348.4 392.7L348.0 391.0L349.8 390.6L351.2 389.5L352.4 390.7L353.4 392.1L352.4 393.5L351.7 394.9ZM216.3 518.5L215.2 514.5L214.3 511.7L212.9 509.8L212.2 507.5L212.5 505.0L212.4 502.7L211.3 500.3L210.8 497.3L211.7 494.5L213.2 491.9L214.6 488.6L216.9 485.6L220.2 484.9L223.4 486.3L226.1 487.2L229.1 486.8L231.9 487.9L232.4 491.8L230.7 496.3L229.8 498.9L231.6 500.0L234.6 501.7L236.9 504.6L237.7 508.2L236.9 511.9L234.1 514.2L230.2 514.2L227.0 513.6L225.0 515.4L222.4 519.1L219.0 520.8ZM531.5 302.9L530.7 303.1L529.8 303.3L528.8 302.7L529.2 301.7L528.9 300.7L529.9 300.6L530.8 300.6L531.7 301.1L532.0 302.1ZM238.9 558.7L238.2 554.7L239.3 549.9L241.3 545.5L243.0 542.3L243.6 540.2L242.9 538.6L241.9 536.8L241.1 534.7L240.9 532.2L241.1 529.6L241.8 526.9L242.9 524.1L244.6 521.5L246.8 519.5L249.3 518.0L252.0 516.7L254.7 515.3L257.6 514.0L260.6 513.3L263.5 513.8L265.8 515.4L267.5 517.6L268.9 519.9L270.3 522.0L271.4 524.1L272.0 526.6L271.8 529.3L271.1 531.9L270.5 534.2L270.5 536.5L270.8 538.9L271.0 541.6L270.2 544.3L268.5 546.6L266.2 548.2L263.8 549.4L261.6 550.6L259.6 552.2L257.4 554.0L254.9 556.0L252.0 558.0L248.6 559.9L244.8 561.1L241.3 560.9ZM630.3 257.8L629.9 256.8L629.6 256.1L629.4 255.0L629.9 254.4L630.4 253.7L631.0 254.1L631.0 255.3L631.2 256.2L630.9 257.2ZM667.8 247.5L665.5 246.5L662.9 245.8L661.8 242.9L663.1 240.2L665.6 238.8L668.2 239.2L669.5 241.5L672.2 243.6L670.7 246.6ZM840.9 633.4L839.0 632.4L838.0 630.0L839.0 627.0L840.5 624.7L842.4 624.0L844.5 621.0L846.5 622.4L847.8 624.4L846.7 627.4L847.0 630.2L845.3 632.6L843.0 632.3ZM314.5 536.8L312.9 536.8L311.5 536.2L310.0 534.9L309.5 532.7L311.8 532.6L312.8 531.7L314.4 532.1L315.9 533.7L315.4 535.5ZM562.7 185.8L560.6 186.1L558.4 188.4L555.4 190.0L552.7 188.2L551.5 184.3L550.3 181.6L547.9 180.0L546.1 177.6L546.8 174.5L548.6 172.2L549.2 170.2L549.0 167.7L549.1 164.9L549.7 161.7L550.7 157.8L553.1 154.9L556.6 156.3L559.4 161.0L560.9 164.4L563.0 164.6L565.9 164.6L567.8 166.6L568.4 169.4L569.5 171.9L571.1 174.6L571.5 177.6L570.0 180.1L568.5 182.2L567.3 184.5L565.3 185.9ZM853.4 415.5L851.1 415.8L849.1 413.7L847.8 410.0L846.9 406.9L845.8 404.9L844.8 402.5L844.9 399.8L845.2 397.3L844.8 394.7L844.6 391.7L845.4 389.3L846.8 388.0L848.2 386.8L849.6 385.5L851.3 384.7L853.2 383.9L855.5 383.0L858.0 384.2L859.0 388.2L858.4 392.9L857.6 396.2L857.5 398.4L857.3 400.5L857.0 402.3L857.0 404.7L857.2 408.2L856.7 411.6L855.3 414.0ZM849.9 431.7L849.5 432.5L848.1 432.5L846.6 432.8L845.9 431.9L845.7 431.2L845.7 430.3L847.1 430.1L848.5 430.3L849.4 430.9ZM910.5 142.6L908.6 140.6L906.9 138.4L904.4 136.0L902.5 132.9L903.0 129.4L905.9 126.5L909.1 124.7L911.8 123.3L914.2 122.2L916.4 121.3L918.2 119.5L920.3 116.0L923.6 112.8L927.2 112.8L929.2 116.5L929.4 121.2L930.1 123.7L932.6 124.4L935.9 125.4L937.8 127.8L938.2 130.7L938.0 133.8L937.3 136.8L935.7 139.5L933.4 141.6L931.4 143.9L929.4 146.6L926.5 148.4L923.2 147.3L920.6 144.3L918.8 142.2L916.6 142.4L913.4 143.2ZM833.2 197.5L834.3 200.8L831.3 202.5L827.7 202.1L825.2 200.3L822.4 200.9L819.9 199.6L819.9 197.1L816.1 194.5L817.4 191.5L821.1 190.7L824.6 191.8L826.9 190.5L829.5 191.4L831.3 193.2L833.8 195.0ZM826.4 649.2L825.1 648.1L825.7 645.8L827.5 643.9L829.8 643.2L830.8 644.7L831.6 645.9L831.8 648.0L829.9 650.3L827.7 649.8ZM490.9 165.3L490.4 163.1L489.4 161.1L488.4 159.1L488.7 156.5L490.7 153.8L493.6 151.5L496.3 149.8L498.3 148.2L500.1 146.8L502.2 145.8L504.4 145.4L506.1 144.7L507.7 142.4L510.2 138.5L513.8 134.7L517.5 133.1L520.1 134.2L521.4 136.7L522.6 138.7L524.6 139.8L527.0 140.9L528.2 142.9L527.4 145.8L525.2 148.8L523.0 151.3L521.1 153.3L519.2 155.1L517.0 156.4L515.2 157.5L514.3 159.2L513.8 162.2L512.6 166.0L510.1 169.0L507.0 169.8L504.4 168.5L502.5 167.0L500.3 166.8L497.3 167.8L494.0 168.3L491.8 167.4ZM146.9 458.1L145.7 459.5L144.4 461.4L142.7 462.9L140.9 462.7L139.3 460.1L138.3 455.9L137.9 451.4L137.7 448.0L136.9 445.9L135.5 444.5L133.7 442.6L132.2 440.1L131.3 437.0L131.2 433.9L131.5 431.0L131.8 428.3L132.3 425.8L133.1 423.6L134.3 422.3L135.7 421.7L137.0 421.3L138.0 420.3L138.8 418.5L139.8 416.7L141.1 415.8L142.6 416.3L144.1 417.8L145.5 419.2L146.9 420.0L148.7 420.4L150.5 421.3L152.1 423.5L152.9 426.9L153.0 430.6L152.7 433.9L152.8 436.5L153.4 439.1L154.4 441.9L155.1 445.0L155.1 447.9L154.4 450.2L153.3 451.9L152.3 453.3L151.4 454.8L150.4 456.1L149.3 457.0L148.1 457.5ZM476.4 429.0L475.3 429.4L474.5 430.3L473.0 429.7L472.4 428.7L472.9 428.0L472.3 426.6L474.0 426.8L475.2 427.3L476.1 428.1ZM452.7 335.5L450.7 335.2L448.9 334.7L447.2 333.7L445.2 333.1L442.6 332.1L439.2 329.8L437.3 326.1L439.9 323.7L442.7 323.2L442.5 320.4L443.3 317.6L445.9 318.1L448.3 320.4L449.8 322.7L451.7 323.7L454.4 324.9L456.2 327.7L457.5 331.0L458.5 334.8L456.2 336.5ZM646.2 594.1L645.7 592.8L647.7 592.2L649.3 591.5L650.6 592.0L651.6 592.8L651.6 594.0L650.0 594.9L648.3 595.5L647.0 594.9ZM630.4 557.6L628.2 556.4L628.8 553.4L629.8 551.4L630.8 548.0L633.1 549.7L635.2 550.4L635.2 553.1L635.0 555.8L632.6 556.4ZM262.8 564.5L261.7 565.6L259.7 566.6L258.1 565.0L258.4 563.0L258.0 561.0L260.0 560.7L261.8 560.1L263.7 561.1L264.0 563.2ZM457.5 174.3L456.0 173.6L454.8 172.5L454.8 170.8L454.5 168.8L456.0 168.6L457.4 167.8L458.2 169.8L458.8 171.3L458.4 172.8ZM457.9 295.4L456.6 296.3L454.3 295.9L452.1 295.2L449.9 294.5L446.9 293.9L444.3 291.8L443.8 289.5L442.7 287.5L442.8 285.8L444.0 284.9L445.1 283.9L447.5 284.5L449.9 285.4L452.2 286.6L454.6 288.1L457.9 289.9L458.8 292.3L457.6 293.6ZM596.5 204.7L595.3 204.7L594.5 203.3L593.6 201.9L593.7 200.3L594.7 200.0L595.7 199.3L596.7 200.8L597.2 202.3L597.2 203.7ZM522.4 510.2L521.9 512.7L520.2 514.4L517.7 512.3L515.5 510.8L513.1 509.4L511.4 506.8L510.3 504.1L510.0 501.4L510.6 499.2L511.1 496.7L513.6 496.7L516.6 499.4L517.9 498.7L520.2 496.8L523.0 498.0L525.2 500.6L526.4 503.7L526.3 506.5L526.0 508.9L524.4 510.1ZM365.2 633.6L362.9 633.4L360.8 635.6L357.4 635.3L356.0 631.8L356.4 628.9L356.0 626.6L355.8 623.8L357.3 621.5L360.3 622.0L362.9 622.7L365.3 624.4L366.6 627.0L367.6 629.7L368.2 632.9ZM779.7 302.7L778.2 301.9L777.8 299.4L778.3 296.3L780.5 295.1L782.1 293.6L783.6 294.2L784.9 295.7L784.6 298.6L783.4 301.5L781.4 301.9ZM509.5 626.4L509.4 628.2L506.1 627.6L504.1 627.1L501.7 626.4L500.8 624.8L502.4 623.7L504.5 623.2L506.7 624.1L508.5 625.0ZM902.5 178.6L901.3 177.1L900.3 175.3L899.8 172.8L900.2 170.0L900.8 167.2L902.3 166.0L903.7 168.0L904.0 170.8L904.8 172.7L905.3 176.2L904.0 178.3ZM352.2 496.6L350.6 496.2L349.8 497.0L348.3 495.9L347.7 494.7L348.3 494.1L348.6 493.4L349.9 493.4L351.1 494.5L352.2 495.6ZM212.9 209.7L210.8 210.1L208.9 208.3L208.6 205.4L210.6 204.1L211.6 202.0L214.0 201.6L214.9 204.5L216.2 207.0L214.6 208.8ZM522.6 204.6L522.1 205.8L520.5 205.0L519.3 204.7L517.7 203.8L518.7 202.7L519.4 202.0L520.6 201.7L522.0 202.3L522.6 203.5ZM668.2 440.5L666.4 442.6L664.2 442.4L662.3 440.8L660.6 438.7L659.5 435.6L659.8 432.1L660.2 429.2L659.7 426.5L659.8 423.7L661.4 422.0L663.0 421.2L663.9 419.2L664.9 416.5L666.6 415.5L668.5 415.6L670.5 415.8L672.4 417.1L673.6 419.9L674.5 422.7L675.9 425.1L676.6 428.2L675.6 431.1L674.2 433.2L673.5 435.5L672.6 437.6L671.0 438.1L669.5 438.5ZM580.6 309.0L578.3 309.7L576.9 308.1L577.6 304.4L578.7 301.4L578.3 299.4L577.4 296.4L577.8 292.6L580.1 290.3L582.8 291.0L584.4 291.9L586.0 290.1L588.3 288.0L589.9 288.9L590.5 291.3L591.3 293.2L592.2 295.4L592.1 298.3L591.0 301.4L589.2 303.7L587.4 305.3L585.8 307.0L584.1 308.5L582.4 308.7ZM586.2 608.7L586.6 611.4L585.3 614.1L581.7 614.7L578.8 614.9L576.3 613.9L574.6 612.4L571.3 612.0L568.0 610.0L569.1 607.0L572.3 605.4L573.3 602.9L575.8 601.1L578.9 602.8L581.2 603.7L584.0 604.2L585.9 606.2ZM377.8 162.6L377.0 160.6L376.0 159.3L374.3 158.7L372.6 157.9L371.6 155.9L372.2 152.9L373.7 149.7L375.3 146.8L376.2 144.4L376.6 142.0L377.4 139.4L378.9 137.2L381.0 135.7L382.9 134.8L384.3 133.2L385.6 130.3L387.3 126.2L389.6 122.1L392.4 119.4L395.0 118.4L397.1 119.0L398.8 120.5L399.6 123.2L399.4 126.9L398.0 131.3L396.3 135.2L395.5 137.4L396.6 138.1L399.3 138.3L402.0 139.4L403.3 141.9L402.5 145.1L400.3 148.0L397.9 150.3L395.9 152.3L394.3 154.6L392.7 156.9L390.8 158.7L388.8 159.9L386.9 160.9L384.9 162.3L382.8 163.9L380.6 164.9L378.8 164.4ZM840.7 346.3L840.1 345.2L839.0 344.1L837.9 342.7L838.8 340.3L841.4 337.9L843.4 336.0L844.9 333.7L847.0 331.3L849.4 329.8L851.8 328.8L853.9 328.8L854.8 330.2L855.3 331.7L856.4 332.4L857.4 333.5L857.1 335.5L856.4 337.6L855.7 340.0L853.8 342.3L851.4 344.1L849.2 345.9L846.8 348.1L844.4 348.9L842.8 348.2L841.7 347.2ZM799.0 145.7L797.7 144.4L800.6 142.0L802.7 140.8L805.2 139.1L808.4 138.5L806.2 141.6L805.2 143.5L803.1 145.3L800.7 146.2ZM768.5 479.4L766.2 480.4L764.2 481.3L761.3 481.2L757.8 479.7L754.7 477.7L752.8 476.7L751.4 477.3L749.8 478.6L747.4 479.4L744.6 479.4L741.4 478.9L737.5 478.1L733.3 476.6L730.1 474.1L729.6 470.9L731.5 468.2L733.6 466.3L733.6 464.5L731.7 461.9L730.2 459.0L731.2 457.1L734.8 457.2L738.9 458.4L741.8 459.3L743.5 459.1L744.7 458.1L746.4 457.2L748.5 456.6L751.1 456.2L754.2 456.0L757.6 456.8L760.1 459.0L761.0 462.1L760.8 464.8L761.7 466.7L765.0 468.3L769.7 470.7L773.2 473.8L773.6 476.6L771.4 478.4ZM638.7 435.2L636.3 433.4L634.2 431.1L632.4 429.0L630.8 427.3L629.3 425.9L627.9 424.7L626.3 423.5L624.6 422.3L622.9 420.8L621.2 418.7L620.0 416.1L619.5 413.1L619.8 410.2L620.5 407.7L620.9 405.6L620.5 403.2L619.4 400.2L618.1 396.4L617.3 392.4L617.5 389.1L618.7 387.0L620.6 386.1L622.6 386.0L624.6 386.3L626.5 386.6L628.3 387.1L630.0 387.7L631.7 388.5L633.4 389.4L635.2 390.3L637.0 391.5L638.6 393.4L640.0 395.9L640.8 398.9L641.2 401.9L641.5 404.6L642.0 406.9L642.9 409.2L643.8 411.8L644.5 414.5L644.7 417.2L644.5 419.7L644.3 422.2L644.2 425.1L644.2 428.5L643.8 431.9L642.8 434.6L641.0 435.8ZM158.3 315.5L156.8 315.1L155.2 314.5L153.8 313.3L152.5 311.8L151.1 310.4L149.6 309.1L148.1 307.5L146.9 305.2L146.3 302.3L146.3 299.1L146.7 296.2L147.0 293.7L146.9 291.2L146.8 288.6L146.9 286.0L147.3 283.6L147.8 281.1L148.3 278.3L148.9 275.1L149.9 272.3L151.4 270.6L153.2 270.8L155.1 272.2L156.7 273.9L158.3 274.8L159.9 275.2L161.6 275.7L163.2 277.3L164.3 280.0L164.9 283.3L165.0 286.6L165.0 289.5L164.9 292.1L164.7 294.4L164.5 296.5L164.6 298.7L165.2 301.4L166.2 305.1L167.0 309.5L167.0 313.7L165.9 316.6L164.0 317.5L161.9 317.0L160.0 316.1ZM337.2 142.5L335.5 142.9L334.0 141.7L333.7 139.7L335.2 138.5L336.5 137.5L338.3 137.4L339.2 139.1L340.1 140.9L339.0 142.5ZM215.2 226.9L215.9 225.1L218.7 224.3L221.6 223.2L223.1 224.9L225.2 226.1L224.1 227.8L222.0 229.3L219.1 228.9L216.5 228.4ZM969.3 486.9L968.6 487.7L967.8 488.7L966.7 488.0L966.2 487.0L966.2 486.1L966.2 484.6L967.6 484.9L968.6 485.1L969.5 485.8ZM145.4 438.4L146.1 436.5L148.2 434.9L149.8 433.5L151.1 431.9L152.9 430.2L155.5 428.6L158.9 428.2L161.9 428.9L164.4 430.0L166.6 431.1L167.8 432.7L168.1 434.4L169.0 435.9L170.4 437.6L169.7 439.6L166.9 440.8L164.2 441.5L162.5 442.9L160.5 445.0L157.3 446.9L153.5 447.0L151.2 444.8L151.1 442.0L150.4 440.5L147.6 439.8ZM659.2 635.7L659.0 634.2L658.4 633.0L659.1 631.5L660.4 631.2L661.6 631.2L662.3 632.1L662.6 633.4L661.8 634.8L660.6 635.2ZM789.9 217.1L788.3 217.3L787.5 214.6L786.5 212.5L785.8 209.5L785.9 205.9L787.7 204.6L789.1 204.7L790.3 204.7L791.9 204.4L793.5 206.0L793.8 209.4L793.4 212.6L792.3 214.6L791.3 216.5ZM824.3 441.4L822.7 442.9L819.6 443.9L817.8 440.9L817.2 438.4L818.7 436.6L819.9 434.1L823.0 434.3L824.6 437.1L826.1 439.6ZM123.5 474.2L123.1 472.8L124.9 470.8L125.3 468.0L128.3 467.0L130.0 467.3L131.8 467.4L131.8 469.0L131.3 470.9L129.4 472.9L126.9 475.1L125.2 474.4ZM965.1 538.0L963.6 537.7L962.3 536.0L961.3 533.8L960.1 532.5L958.5 532.1L956.6 531.4L955.1 529.3L954.7 525.8L955.4 522.0L956.3 518.6L956.9 515.9L957.1 513.3L957.4 510.7L958.2 508.5L959.4 507.1L960.5 506.0L961.2 504.2L961.8 501.4L962.5 498.2L963.7 495.5L965.2 493.8L966.9 492.7L968.7 492.2L970.5 492.7L971.9 495.1L972.4 499.5L972.0 504.4L971.5 508.3L971.8 510.4L973.1 511.6L974.9 513.4L976.1 516.1L976.2 519.4L975.3 522.3L974.1 524.6L973.1 526.8L972.3 529.0L971.3 530.9L970.2 532.4L969.0 533.5L967.8 535.0L966.5 536.7ZM416.5 232.9L415.5 233.1L414.5 232.0L413.7 230.6L413.6 229.1L414.6 228.8L415.5 228.6L416.5 229.4L417.3 230.9L417.1 232.2ZM294.2 463.1L291.7 463.3L289.6 463.0L286.9 462.6L284.2 460.4L285.4 458.1L287.0 457.1L288.5 455.4L290.9 457.2L293.5 458.4L294.9 460.9ZM673.1 504.3L672.1 501.3L671.9 498.3L673.9 495.4L676.6 493.6L677.5 491.1L679.6 489.4L682.2 489.2L684.9 488.1L687.1 489.1L688.0 491.4L690.9 491.9L693.7 493.7L693.6 496.8L692.7 499.9L689.5 501.9L686.2 502.1L684.3 503.5L682.1 503.6L680.3 502.7L676.8 504.4ZM819.5 212.7L819.4 214.1L817.2 214.9L813.9 213.4L810.6 212.8L809.5 211.1L810.9 210.2L809.8 208.4L811.9 207.5L815.4 208.3L817.5 210.1L819.2 211.4ZM70.6 320.7L72.4 317.9L73.5 315.9L72.8 314.5L71.1 312.7L69.9 310.3L70.8 307.9L73.2 306.3L75.7 305.0L77.5 303.2L79.1 300.1L81.5 296.4L85.0 293.8L88.8 293.5L91.9 295.2L93.7 298.1L94.3 301.5L94.2 304.5L94.4 306.5L95.9 307.4L98.9 308.1L101.9 309.5L103.1 311.9L101.9 314.6L99.2 316.8L96.7 318.6L95.0 320.3L93.3 322.2L91.2 323.7L88.8 324.8L86.5 326.0L83.9 328.0L80.6 330.4L76.7 332.2L73.0 332.2L70.3 330.4L69.1 327.5L69.3 324.0ZM725.0 195.3L722.5 195.0L720.5 195.6L718.5 193.9L717.9 191.7L718.3 189.7L720.2 188.9L722.3 189.8L724.8 190.7L725.1 193.0ZM770.9 404.1L768.8 403.6L769.0 401.2L769.0 399.6L769.8 397.6L771.9 396.6L772.9 399.1L774.5 400.1L774.0 402.1L772.8 403.6ZM471.0 173.5L469.3 173.3L467.5 174.2L465.2 171.9L465.0 169.8L464.8 167.9L466.8 168.0L468.7 168.4L471.3 169.9L472.0 172.3ZM535.0 485.7L533.4 485.6L531.3 485.0L529.8 482.2L530.9 480.6L530.6 477.8L532.6 478.2L534.5 479.8L535.7 482.2L536.7 485.1ZM849.8 363.6L849.4 361.5L849.8 359.3L850.5 356.9L852.2 355.1L854.0 354.8L854.7 356.5L853.9 358.9L853.3 361.2L851.6 363.3ZM775.3 399.4L773.9 399.4L773.1 397.6L772.2 396.2L772.5 394.7L773.2 393.1L774.7 393.8L775.6 395.2L776.2 396.6L776.3 398.4ZM627.5 226.9L626.5 227.2L625.4 226.9L624.3 226.1L623.6 224.9L624.8 224.5L625.2 223.5L626.4 223.8L627.4 224.7L627.5 225.8ZM840.0 179.1L836.9 176.9L835.1 175.5L833.1 174.0L831.9 171.3L832.0 168.9L833.9 168.6L835.8 169.7L838.0 170.6L839.4 173.3L838.6 174.9ZM293.0 542.8L291.6 542.7L292.4 540.2L292.3 537.9L294.0 535.2L296.0 533.7L297.5 533.7L298.6 534.3L299.1 535.7L298.0 538.2L297.6 540.9L295.7 543.4L293.7 544.3ZM756.2 637.7L754.9 639.3L753.2 640.4L751.0 640.9L748.7 641.1L746.6 641.6L744.4 642.2L741.8 642.6L739.1 641.9L736.5 640.1L734.3 637.8L732.4 635.8L730.2 634.2L727.8 632.5L725.7 630.5L724.6 628.0L724.5 625.6L724.5 623.5L723.9 621.3L722.7 618.7L721.9 616.0L722.4 613.8L724.3 612.5L726.7 611.9L728.7 611.3L730.4 610.2L732.0 608.8L734.1 607.8L736.6 607.7L739.3 608.2L742.1 609.1L744.9 610.1L747.5 611.7L749.5 614.1L750.6 616.9L751.1 619.6L751.9 621.6L753.8 623.2L756.9 625.2L759.8 627.7L761.2 630.5L760.8 632.9L759.2 634.7L757.6 636.2ZM201.8 401.8L200.5 400.6L199.1 399.0L199.4 396.0L200.7 393.9L202.1 392.0L204.2 391.5L204.7 394.7L205.3 396.8L204.7 399.4L203.8 402.9ZM375.7 654.7L377.3 652.0L378.1 650.0L380.1 648.4L381.6 646.9L382.4 643.9L385.3 641.5L388.4 642.0L390.2 643.4L391.4 644.7L393.8 645.1L395.3 646.7L393.2 649.2L392.0 651.1L390.8 653.4L387.9 654.3L385.5 654.9L382.9 656.0L379.8 656.9L376.5 656.9ZM256.5 549.3L256.5 546.2L258.2 544.1L259.0 540.7L262.2 540.9L264.6 542.4L266.3 544.5L266.6 547.4L264.8 549.8L262.0 550.1L259.0 551.2ZM201.7 239.2L200.7 237.7L200.0 235.9L199.8 233.7L199.7 231.6L199.0 230.0L197.8 228.3L196.9 225.7L197.5 222.5L199.5 219.7L201.6 217.7L203.1 215.8L204.4 213.2L206.0 210.6L207.9 209.1L209.7 208.5L211.4 208.7L212.8 209.4L213.8 210.8L214.7 212.3L215.9 213.4L217.0 214.8L217.3 217.3L216.4 220.4L215.0 223.2L214.2 225.5L214.1 228.3L213.7 231.6L212.3 234.6L210.5 236.6L208.6 238.2L206.7 239.7L204.7 240.6L203.1 240.3ZM542.5 471.1L540.0 469.4L539.1 466.0L539.4 462.5L539.0 459.9L537.3 457.7L536.0 455.1L536.8 452.2L539.3 450.0L541.8 448.3L543.0 446.4L543.6 443.9L544.9 441.5L546.9 439.7L549.1 437.9L551.5 434.9L554.8 431.5L558.6 430.3L561.6 432.6L563.0 436.9L563.7 440.7L565.3 442.7L567.5 444.3L568.8 446.7L568.2 449.8L567.0 452.5L566.5 454.9L566.7 457.5L566.1 460.0L564.2 461.9L562.0 463.3L560.7 465.4L559.6 469.1L557.6 472.8L554.5 474.4L551.3 473.5L548.5 472.0L545.7 471.4ZM636.1 451.9L633.7 452.9L631.6 454.7L629.0 455.8L626.0 454.3L623.6 451.7L621.3 450.6L618.4 450.1L616.0 448.4L615.5 445.4L615.9 442.6L615.6 440.4L615.0 438.2L615.0 435.9L614.8 433.2L614.2 429.5L614.7 425.5L617.4 423.7L621.1 424.4L624.4 425.4L627.4 426.1L630.0 428.2L631.1 432.1L631.1 435.3L632.4 436.5L635.3 437.4L638.0 439.3L639.5 442.0L640.4 445.1L640.6 448.3L639.0 450.8ZM870.5 243.5L869.9 245.8L868.1 247.4L865.4 248.2L862.8 248.8L860.9 250.0L859.6 252.1L858.4 255.0L856.5 257.8L853.6 259.5L850.1 259.4L846.6 257.6L843.6 254.9L841.1 252.1L839.0 250.0L836.7 248.5L834.3 247.2L832.0 245.8L830.0 244.0L828.6 241.9L827.5 239.7L826.3 237.6L824.9 235.5L823.7 233.3L823.2 231.0L823.8 228.8L825.3 227.0L827.1 225.5L828.1 223.9L828.2 221.7L827.5 218.7L827.0 215.2L827.7 212.1L829.9 210.2L833.3 210.0L837.1 211.1L840.6 212.6L843.5 213.4L846.1 213.4L848.9 212.8L852.0 212.4L855.1 212.8L857.9 214.3L860.2 216.6L861.9 219.0L863.6 221.2L865.2 223.3L866.8 225.4L868.0 227.6L868.4 229.9L868.1 232.1L867.7 234.2L867.8 236.2L868.6 238.4L869.8 240.9ZM99.3 280.6L97.4 280.1L96.2 278.2L96.9 276.1L98.4 274.6L100.2 275.2L102.5 274.8L103.2 277.0L102.8 279.2L101.0 280.1ZM740.0 568.4L739.5 569.2L738.3 569.7L736.6 569.5L735.8 568.6L734.8 567.6L735.9 566.9L737.1 566.5L738.6 566.9L740.5 567.3ZM420.0 216.4L417.6 217.0L415.3 215.4L413.7 213.1L412.9 210.4L413.1 207.6L415.0 206.3L416.1 203.5L418.7 202.4L421.5 204.0L421.6 208.0L422.0 210.2L423.2 212.9L422.9 216.3ZM130.3 280.0L128.2 280.3L127.2 277.9L127.3 274.9L128.9 272.1L129.9 270.2L129.7 266.7L131.3 263.9L133.5 261.8L135.8 261.9L136.8 264.8L137.3 267.3L136.7 270.1L137.0 272.1L137.3 275.0L135.9 277.6L134.2 280.4L132.1 280.7ZM690.1 226.1L688.5 223.8L687.5 221.3L686.6 218.9L687.2 216.2L689.0 214.0L689.9 212.0L690.0 209.1L691.0 205.8L693.4 203.3L696.5 202.0L699.7 202.2L702.3 203.8L704.2 206.0L705.1 208.8L704.1 212.0L703.2 214.3L704.4 216.1L706.2 219.0L706.0 222.4L703.8 224.9L701.1 226.4L698.2 227.0L695.4 227.1L692.6 227.1ZM849.0 332.8L848.6 331.7L849.3 330.4L850.6 329.2L851.9 330.1L853.5 330.4L853.1 331.9L852.4 333.1L851.2 334.1L849.6 334.2ZM648.7 183.4L646.0 183.4L643.5 182.6L642.6 180.2L642.1 177.8L642.7 174.9L645.6 174.6L647.8 176.5L648.7 178.6L650.4 181.2ZM555.0 516.4L555.2 515.4L556.1 514.6L557.3 514.2L558.4 514.4L559.4 515.0L559.0 516.1L558.2 516.9L557.0 517.3L555.9 517.0ZM869.1 357.6L867.2 356.8L865.7 356.8L864.4 357.8L862.4 356.8L860.4 353.5L859.1 350.7L857.5 348.8L855.9 346.6L854.7 344.1L853.2 341.3L851.6 338.0L851.8 335.8L854.1 336.0L855.8 336.2L856.0 334.4L856.8 333.0L858.9 334.7L860.8 337.3L862.3 337.9L864.3 338.0L866.6 339.7L868.6 342.5L870.2 345.5L870.8 348.4L869.5 350.0L868.1 350.7L868.6 352.7L869.7 356.1ZM338.1 176.4L336.5 176.9L334.5 178.5L332.0 179.7L329.7 178.4L328.4 174.8L327.9 171.4L326.8 169.0L324.9 166.7L323.3 163.7L323.1 160.3L323.8 157.3L325.1 154.9L327.1 153.6L329.7 153.9L331.7 154.6L332.9 153.6L333.9 151.2L335.6 149.6L337.6 149.9L339.6 150.9L342.0 151.4L344.8 152.3L346.8 155.0L347.4 158.7L347.0 162.3L346.8 165.3L346.4 168.1L345.1 170.3L343.4 171.6L342.0 172.8L341.1 174.6L339.8 175.9ZM575.1 262.5L575.1 259.9L575.8 257.6L576.8 255.6L576.6 252.7L578.8 250.7L581.2 248.7L583.0 248.9L584.6 249.6L583.2 253.0L583.4 254.6L582.7 256.9L581.4 259.6L579.2 261.7L577.0 262.7ZM634.3 625.8L633.9 623.8L633.4 622.2L634.3 620.5L635.9 619.4L637.5 619.9L638.8 620.9L638.3 622.8L637.9 624.7L636.2 625.3ZM551.3 555.7L550.8 554.7L551.8 553.8L553.2 554.2L554.2 554.8L554.8 555.7L554.2 556.6L553.3 557.4L552.0 557.4L550.7 556.9ZM495.4 361.9L496.6 361.2L497.0 360.2L498.8 359.9L499.6 360.8L500.4 361.4L500.0 362.2L498.9 362.9L497.4 363.0L496.0 362.7ZM229.2 373.5L226.9 374.2L224.5 374.3L223.0 372.4L222.8 369.3L222.9 366.3L222.7 363.6L223.1 360.7L224.4 358.0L226.0 355.8L227.0 353.5L227.7 350.7L229.1 348.2L231.1 347.1L233.1 346.7L235.0 345.3L237.3 343.0L239.7 342.2L241.4 343.9L242.3 346.6L243.1 348.9L244.1 350.9L244.3 353.5L243.7 356.4L243.3 358.9L243.5 361.6L243.5 364.7L242.3 367.4L240.1 369.1L238.1 370.4L236.5 372.3L234.7 374.3L232.6 374.7L230.9 373.8ZM894.1 362.1L892.9 362.3L891.5 360.9L890.5 359.5L890.3 358.2L890.6 357.2L891.3 356.5L892.8 357.8L893.8 359.3L893.7 360.4ZM226.4 403.9L225.0 402.7L223.1 402.5L223.8 400.6L223.7 398.8L225.3 398.0L227.2 398.1L227.7 399.9L228.1 401.2L228.4 403.3ZM445.4 432.9L443.4 432.8L441.7 432.1L440.5 430.8L440.4 429.1L440.6 427.2L442.5 427.0L444.3 427.5L444.9 429.3L445.7 430.9ZM507.5 248.9L506.2 248.9L504.7 249.0L504.2 247.6L504.1 246.3L504.6 245.1L505.9 244.3L507.0 245.5L507.6 246.5L508.8 247.9ZM837.9 554.7L837.8 552.5L839.2 550.7L840.9 549.5L842.9 549.1L844.0 550.5L845.5 552.0L844.4 554.2L841.9 554.3L840.2 555.0ZM660.7 185.6L658.6 187.7L656.0 186.0L654.2 183.0L655.6 179.8L656.2 177.8L656.9 175.3L659.0 174.2L661.6 174.2L663.6 177.0L663.7 180.3L664.0 183.2L662.4 184.9ZM412.0 340.0L411.5 336.9L413.2 334.6L413.5 331.9L415.6 328.6L419.5 328.8L420.5 332.8L421.6 335.0L422.7 338.0L419.8 339.5L417.9 342.2L414.3 342.8ZM773.5 379.7L773.7 377.3L774.8 375.2L777.2 374.1L780.0 374.5L781.0 377.0L780.7 379.3L780.3 382.2L777.4 381.8L774.6 382.3ZM566.5 659.8L563.4 660.2L560.3 659.5L557.7 658.9L555.2 658.9L552.6 658.6L550.3 657.0L548.7 654.7L547.1 652.6L544.7 650.6L542.5 647.8L542.1 644.5L543.7 641.8L546.1 639.8L548.0 638.1L549.4 635.8L551.1 633.2L553.7 631.4L556.9 632.1L559.5 634.9L561.2 637.6L563.1 638.7L566.2 638.9L569.4 640.2L571.0 643.0L570.9 646.2L570.2 649.0L570.0 651.7L569.8 654.8L568.8 657.8ZM258.0 262.1L256.9 262.1L256.3 260.7L256.2 259.6L256.2 258.4L256.9 257.7L257.9 257.9L258.8 258.8L258.7 260.1L258.5 261.0ZM610.8 450.2L610.7 448.1L609.6 446.6L607.6 445.2L605.7 443.5L604.8 441.3L605.4 438.8L607.4 436.4L610.0 434.3L612.1 432.5L613.5 430.6L614.2 428.3L614.9 425.5L616.0 422.6L617.9 420.1L620.5 418.1L623.4 416.8L626.3 415.8L629.2 414.9L632.2 414.1L635.2 413.7L637.9 414.2L640.2 415.5L641.9 417.3L643.3 419.1L644.9 420.5L647.0 421.3L649.3 422.0L651.6 423.1L652.9 424.9L653.1 427.3L652.2 429.9L651.2 432.4L650.7 434.6L651.2 436.7L652.3 439.0L653.1 441.7L652.8 444.5L651.0 447.1L648.1 448.9L644.7 450.0L641.5 450.8L639.0 451.7L636.9 453.1L634.9 455.0L632.6 457.0L630.1 458.7L627.3 460.0L624.3 460.8L621.3 461.5L618.1 462.1L615.0 462.1L612.3 461.2L610.5 459.2L609.9 456.3L610.3 453.1ZM351.0 622.3L349.8 622.7L347.8 622.2L346.3 619.9L345.7 618.2L345.8 617.0L346.6 615.9L348.8 617.0L350.1 619.2L351.1 621.0ZM683.1 219.2L683.2 218.0L684.5 217.3L685.6 216.0L686.6 217.1L687.5 217.7L687.9 218.9L686.7 219.8L685.4 220.0L684.1 220.0ZM472.6 136.4L471.3 138.3L468.9 139.3L466.0 139.5L463.4 138.2L461.3 136.8L459.1 135.0L459.7 132.8L460.5 130.8L462.4 129.0L465.7 130.0L468.1 131.1L470.9 132.0L472.2 134.1ZM805.9 582.2L806.3 579.7L807.8 577.3L809.6 575.3L811.3 573.5L813.0 571.9L814.9 570.5L816.8 569.2L818.5 567.8L820.0 565.8L821.6 563.2L823.9 560.5L826.9 558.7L830.3 558.6L833.4 560.0L836.0 561.8L838.6 563.0L841.8 563.3L845.7 563.5L849.3 564.6L851.6 566.9L851.8 570.2L850.4 573.6L848.4 576.5L846.5 578.8L845.0 580.8L843.6 582.5L842.2 583.9L841.0 585.3L840.4 587.0L840.4 589.4L840.3 592.3L839.4 595.4L837.3 597.9L834.5 599.3L831.3 600.2L828.0 601.0L824.5 601.8L820.7 602.1L817.3 601.2L814.9 598.7L813.9 595.1L813.8 591.7L813.5 589.2L812.0 587.6L809.6 586.2L807.2 584.5ZM502.5 343.0L501.6 342.4L500.5 341.5L501.2 339.9L501.6 338.6L502.6 337.6L503.4 338.9L504.1 339.8L504.5 341.5L503.4 342.4ZM55.1 396.7L53.8 399.5L51.7 401.2L49.1 400.8L46.6 398.7L44.6 396.1L42.8 394.0L41.0 392.5L39.0 391.3L37.0 389.9L34.8 388.3L32.5 386.4L29.9 384.1L27.3 381.3L25.5 377.9L25.3 374.3L27.1 371.3L30.0 369.4L32.9 368.2L34.9 367.1L36.0 365.5L36.9 363.6L38.2 362.1L40.0 361.5L41.9 361.4L43.7 360.9L45.4 359.4L47.4 357.2L50.0 355.4L52.8 355.2L55.5 356.9L57.5 359.7L59.0 362.8L60.4 365.7L61.6 368.4L62.7 371.1L63.3 373.9L63.6 376.7L64.0 379.3L64.9 382.2L65.8 385.3L66.0 388.4L64.8 390.9L62.3 392.1L59.6 392.3L57.3 392.6L56.0 394.0ZM79.1 373.6L78.6 376.4L75.1 376.3L72.3 374.9L70.5 373.4L67.7 373.3L64.0 371.8L63.5 368.9L64.4 366.4L67.8 366.0L69.4 364.6L71.9 364.4L74.5 365.3L76.5 367.0L78.2 369.0L80.1 371.4ZM287.5 534.0L284.8 533.9L282.1 533.2L279.5 532.1L277.3 530.0L276.6 526.6L277.6 522.5L279.3 519.2L280.1 517.0L279.3 515.2L277.8 512.7L276.8 509.7L276.8 506.5L277.5 503.2L279.0 500.3L281.3 498.2L284.1 497.5L286.9 497.7L289.5 497.5L292.2 496.8L295.1 496.8L297.2 498.9L298.1 502.6L298.0 506.3L298.2 508.9L299.3 510.6L300.9 512.4L302.1 514.8L302.8 517.5L303.2 520.6L303.1 523.9L301.8 526.7L299.4 528.4L296.6 529.1L294.3 529.8L292.3 531.3L290.1 533.1ZM795.0 224.9L793.6 225.9L791.6 226.8L789.9 223.6L788.6 221.2L785.6 219.1L785.6 215.8L787.3 214.2L788.7 213.4L789.3 211.5L790.5 209.6L792.6 211.8L794.6 212.6L797.1 214.2L797.7 217.6L798.3 220.5L797.2 222.5L795.9 223.4ZM105.7 348.4L103.0 349.0L100.5 348.2L98.2 346.8L96.0 345.3L93.9 343.4L92.3 340.9L92.0 337.6L93.2 334.0L95.0 330.8L96.3 328.3L96.1 326.0L94.7 323.2L93.4 319.7L93.2 316.1L94.5 313.0L96.8 310.9L99.3 309.2L101.7 307.5L104.0 305.7L106.6 304.6L109.3 305.2L111.8 307.5L113.6 310.3L115.1 312.1L116.9 312.2L119.5 311.0L122.7 309.9L125.7 310.1L127.9 311.8L129.3 314.4L130.4 317.1L131.5 319.9L132.3 322.9L132.2 326.2L130.9 329.3L128.7 331.9L126.7 334.2L125.7 336.6L125.4 339.7L124.9 343.3L123.3 346.2L120.6 347.4L117.4 346.6L114.6 345.0L112.5 344.2L110.6 344.9L108.3 346.7ZM638.8 571.6L636.6 571.8L634.3 571.1L632.1 569.8L629.2 567.6L630.5 566.2L631.9 565.3L634.4 566.6L637.1 567.5L638.8 569.7ZM184.2 497.1L184.9 495.8L185.2 494.9L186.2 494.3L187.5 493.3L188.1 493.8L188.1 494.6L187.4 495.6L186.5 496.3L185.4 497.0ZM860.4 212.1L860.3 211.2L862.1 210.3L863.6 210.2L865.7 209.6L866.0 210.5L865.9 211.4L864.6 212.3L862.8 212.5L861.3 212.6ZM456.0 312.3L454.3 314.3L451.6 314.7L448.8 314.8L446.9 312.9L444.7 311.1L443.3 308.5L444.3 305.8L447.7 305.8L450.0 304.8L452.4 306.1L455.3 307.2L456.4 309.8ZM395.6 617.4L396.1 616.1L397.0 615.1L398.2 614.2L399.5 614.5L400.8 615.1L400.5 616.4L399.6 617.4L398.3 618.1L397.0 617.9ZM821.9 604.9L821.8 602.2L821.2 599.8L823.4 597.7L825.6 595.3L828.0 596.0L829.7 597.4L830.6 599.7L828.7 602.2L827.1 604.6L824.4 605.5ZM590.5 457.1L587.0 456.8L587.1 453.2L589.3 450.8L589.1 448.7L588.7 444.5L591.7 442.3L595.2 443.5L596.8 446.4L597.9 448.6L599.2 450.6L598.8 453.1L598.4 456.2L596.1 458.5L593.0 458.3ZM483.9 345.1L483.0 346.7L480.9 346.9L479.2 346.0L477.6 344.9L478.1 343.4L478.3 341.5L480.4 340.9L482.1 342.3L483.1 343.5ZM252.0 289.6L253.0 288.5L254.2 288.0L255.6 287.9L257.7 287.9L257.3 289.3L257.1 290.3L255.9 291.2L254.4 290.9L252.8 290.7ZM509.6 363.8L509.4 365.5L507.5 366.9L504.1 365.5L501.5 365.5L498.7 364.5L497.0 362.7L498.2 361.0L500.3 360.2L502.6 359.8L505.5 359.2L508.1 360.5L509.7 362.2ZM105.4 493.6L104.1 490.6L103.2 488.4L102.7 486.0L102.9 483.4L101.9 481.6L101.1 478.8L102.0 476.2L102.8 473.4L104.0 470.7L105.9 470.6L107.5 470.1L109.3 469.5L110.1 472.7L110.2 475.9L111.0 477.6L111.2 480.0L111.2 482.5L111.4 485.7L110.2 488.0L108.7 489.5L107.4 492.8ZM722.6 323.8L722.8 325.6L720.8 325.2L719.5 324.0L719.2 322.9L718.3 321.4L719.6 320.9L721.1 320.6L722.5 321.8L723.4 323.0ZM383.6 273.2L382.7 273.6L381.3 272.6L380.6 270.7L380.0 268.9L381.0 268.7L381.7 267.5L383.0 269.3L384.2 270.9L384.2 272.4ZM324.0 513.0L322.6 515.4L320.7 512.9L319.9 510.5L320.1 508.5L321.0 506.8L322.8 506.6L325.0 507.7L325.7 510.3L325.6 512.5ZM508.3 366.5L506.1 365.7L503.4 366.0L501.5 364.0L500.9 361.1L498.8 358.9L497.4 355.6L499.4 352.8L501.7 351.1L503.5 349.4L505.5 348.2L507.7 346.5L510.4 346.4L512.2 349.0L514.2 350.3L517.1 351.8L517.1 355.2L515.8 358.0L516.1 360.9L515.2 363.8L513.3 365.7L511.0 367.2ZM728.8 483.1L728.0 484.3L726.1 483.6L724.9 482.5L724.1 481.3L724.4 480.2L725.0 478.9L726.8 479.2L728.1 480.4L728.1 481.7ZM392.8 440.5L391.6 441.2L390.8 440.0L390.4 438.7L390.6 437.4L391.5 436.1L392.8 437.2L393.4 438.1L394.9 439.1L394.3 440.7ZM237.3 252.0L236.8 249.8L239.0 247.4L241.2 245.6L242.1 243.7L243.1 241.5L245.2 239.6L247.9 238.2L250.9 237.5L253.7 237.9L255.8 239.0L258.0 239.4L261.1 239.1L264.1 239.7L265.0 241.8L264.1 244.2L263.4 246.2L262.8 248.1L261.6 249.9L260.4 251.7L259.4 254.1L257.5 256.7L254.3 257.9L251.0 257.4L248.5 256.4L246.5 255.4L244.9 254.3L243.2 253.4L240.3 253.1ZM216.2 267.5L213.6 266.1L211.6 265.8L209.1 266.4L207.0 264.1L204.7 261.6L203.8 258.3L205.8 255.9L206.4 253.8L207.1 251.8L208.8 250.8L210.3 248.8L212.7 249.8L214.7 251.6L217.9 251.9L219.6 254.9L219.1 258.3L219.0 260.9L217.8 262.7L217.2 265.0ZM289.1 493.1L287.7 495.0L285.7 495.8L284.1 494.5L281.2 494.6L281.0 492.2L282.4 490.4L284.3 489.8L286.3 489.7L287.7 491.1ZM958.8 226.6L958.2 226.3L957.5 225.7L957.7 224.6L958.2 224.0L958.7 223.4L959.4 223.5L959.7 224.5L959.9 225.6L959.3 226.1ZM123.9 390.3L122.3 392.9L120.0 396.4L116.6 397.5L113.7 395.0L111.7 392.1L108.8 391.2L104.5 390.7L101.4 388.1L101.6 384.1L104.0 380.5L107.0 378.0L110.1 376.8L112.1 375.9L111.7 373.4L110.8 368.6L111.9 364.3L115.3 363.7L118.6 365.6L121.4 366.3L124.8 365.5L128.4 366.1L130.6 368.9L131.8 372.1L133.0 375.1L133.4 378.2L131.8 381.2L129.6 383.3L128.5 385.4L127.6 387.6L125.8 389.1ZM777.7 511.8L776.3 512.5L774.2 512.3L772.1 511.7L770.5 510.5L769.2 508.9L771.5 508.7L773.2 508.6L775.3 509.3L777.2 510.4ZM206.7 234.1L205.8 232.1L208.3 230.6L211.0 231.6L213.1 232.1L214.2 233.5L214.2 235.5L212.0 237.1L209.2 236.4L207.2 235.6ZM802.5 273.5L801.6 273.3L801.5 272.1L801.2 270.9L801.9 270.0L802.9 269.5L803.5 270.5L804.1 271.2L804.1 272.5L803.4 273.4ZM377.5 603.6L377.2 602.1L379.8 601.1L382.8 601.7L385.2 602.3L386.9 603.6L385.5 605.0L382.9 605.7L379.9 606.0L377.6 605.0ZM818.1 202.5L816.9 204.0L815.4 205.2L814.0 206.4L812.7 207.7L811.6 209.1L810.6 210.8L809.5 212.6L808.0 214.3L805.7 215.5L802.8 216.0L799.4 215.6L796.0 214.5L792.8 213.0L790.0 211.3L787.5 209.8L785.2 208.7L782.8 207.9L780.3 207.2L777.6 206.5L774.9 205.6L772.2 204.4L769.6 203.1L767.1 201.5L764.9 199.7L763.1 197.8L762.0 195.8L761.7 193.8L762.3 191.9L763.7 190.3L765.5 189.0L767.3 187.8L768.8 186.7L769.8 185.6L770.5 184.2L771.0 182.6L771.7 181.0L772.7 179.3L774.1 177.8L775.9 176.4L778.0 175.1L780.6 174.1L783.6 173.5L786.9 173.4L790.3 174.0L793.6 175.4L796.5 177.4L798.8 179.8L800.5 182.1L801.9 184.1L803.4 185.7L805.2 186.9L807.5 187.9L810.1 188.9L812.9 190.2L815.3 191.7L817.2 193.4L818.5 195.3L819.2 197.3L819.3 199.1L819.0 200.9ZM258.4 247.3L258.6 246.7L259.1 245.9L260.4 246.0L261.4 246.0L262.2 246.3L261.7 246.9L260.9 247.5L259.7 248.0L259.1 247.5ZM768.3 217.9L766.7 217.4L764.9 216.8L763.1 214.4L763.6 212.3L764.6 211.5L765.9 211.6L768.0 211.5L769.0 214.4L768.8 216.4ZM677.6 153.7L677.5 151.4L678.2 149.2L680.3 147.9L682.4 146.7L684.1 147.6L685.5 149.1L684.1 151.6L681.9 152.6L680.0 153.9ZM720.6 336.2L721.2 338.1L717.8 338.3L715.1 337.8L712.8 337.1L710.2 335.8L711.1 334.3L712.1 332.7L715.7 333.5L718.1 333.7L721.1 334.6ZM467.3 579.5L466.2 581.1L464.8 583.1L463.0 585.2L460.8 587.0L458.0 588.1L455.1 587.5L452.7 585.0L451.2 581.1L450.8 577.0L450.5 573.5L449.8 570.9L448.3 568.6L446.6 566.1L445.7 563.2L446.1 560.5L447.3 558.3L448.5 556.4L448.9 554.2L448.8 551.2L448.8 547.9L449.7 545.0L451.5 543.4L453.9 543.2L456.4 543.9L458.8 545.2L460.9 546.8L462.8 548.5L464.5 550.1L466.2 551.0L468.3 551.1L471.2 551.1L474.4 551.7L477.2 553.7L478.7 556.9L478.7 560.6L478.0 563.9L477.6 566.8L478.1 569.6L478.9 572.8L479.1 576.0L477.9 578.3L475.5 579.3L472.7 579.1L470.2 578.6L468.5 578.6ZM100.6 517.8L99.4 517.3L99.4 515.4L99.6 513.7L100.8 513.1L101.8 512.8L103.2 512.8L103.5 514.6L102.8 516.3L101.6 516.8ZM592.1 363.0L590.6 362.4L590.3 360.1L589.3 358.6L590.0 357.2L590.8 356.1L592.2 355.9L592.9 358.1L593.0 359.7L593.0 361.4ZM627.1 469.0L625.1 469.5L622.9 467.8L620.9 465.6L621.8 463.4L621.9 460.7L624.4 462.0L627.0 461.6L627.8 464.8L627.7 467.0ZM321.0 501.0L319.0 500.7L317.5 501.2L315.9 499.5L314.9 498.1L314.6 496.6L315.8 496.0L317.8 496.7L319.3 498.0L320.8 499.5ZM442.7 619.4L440.4 620.0L439.0 618.0L436.9 616.8L437.8 614.6L439.2 613.5L441.0 612.2L443.1 613.3L444.0 615.4L443.1 617.2ZM633.1 663.7L633.0 661.6L633.4 659.3L633.1 657.7L632.5 656.2L632.5 654.0L634.0 651.2L636.2 648.6L638.4 646.5L640.5 644.9L642.3 643.5L643.9 641.9L645.8 639.5L648.3 636.8L650.6 635.6L651.7 636.6L651.9 638.6L652.5 639.8L653.9 640.1L655.4 640.6L656.2 642.1L656.0 644.4L655.2 647.1L653.4 650.0L650.9 652.5L648.4 654.2L646.3 655.4L644.7 656.8L643.1 658.5L641.3 660.1L639.3 661.5L637.0 663.1L634.6 664.2ZM364.8 557.6L362.4 557.3L360.3 556.1L359.5 553.4L359.9 550.4L359.1 548.5L356.3 546.4L354.1 542.8L355.0 539.2L358.1 537.2L361.2 536.5L363.7 535.9L366.0 534.9L368.4 533.9L371.0 534.0L372.8 536.3L373.5 539.2L374.5 541.1L376.1 542.8L377.2 545.1L377.6 547.9L378.0 551.2L377.7 554.9L375.5 557.6L372.3 558.2L369.4 557.9L367.0 557.6ZM555.8 559.7L551.8 559.1L548.7 559.6L547.0 556.9L547.6 554.3L547.3 550.9L550.3 548.9L553.5 550.6L554.2 553.4L555.6 555.7ZM645.9 491.0L644.0 491.6L641.8 491.7L640.6 489.5L640.7 487.9L639.6 485.3L641.7 484.6L643.9 485.7L644.9 487.5L646.4 489.1ZM532.3 286.8L532.0 288.4L529.3 287.7L527.4 287.9L525.1 287.6L522.6 286.4L519.5 285.1L518.0 282.8L517.8 281.0L516.6 279.0L517.7 277.9L518.5 276.7L519.2 275.0L522.5 276.5L524.9 278.5L527.2 278.8L530.0 279.9L533.4 281.8L534.5 284.2L532.2 285.2ZM343.9 205.8L342.5 205.9L340.8 207.3L338.3 205.1L336.2 202.3L336.5 199.7L337.9 198.9L337.5 196.8L338.0 193.9L340.7 195.7L343.0 197.7L344.2 200.5L345.3 203.0L345.4 205.2ZM462.2 365.0L461.1 364.6L461.6 362.7L461.1 361.3L461.8 359.6L463.1 359.7L463.6 360.9L464.4 361.8L464.2 363.5L463.3 364.5ZM779.5 431.2L778.8 432.3L777.3 432.3L775.7 431.6L775.3 430.2L775.4 429.1L776.0 428.0L777.6 427.9L779.0 428.8L779.7 430.1ZM743.1 271.9L741.9 272.1L740.9 272.1L739.3 271.8L738.5 270.6L738.7 269.6L739.8 269.3L740.9 269.1L742.0 269.9L743.7 270.9ZM422.7 598.3L420.6 597.3L418.7 596.4L416.4 597.2L413.2 598.1L410.5 596.8L409.1 593.5L408.6 590.1L408.0 586.9L408.2 583.9L410.1 581.4L412.2 579.9L412.6 577.8L411.8 574.0L412.2 570.3L414.4 569.2L417.0 569.8L419.2 569.3L421.5 567.6L424.3 567.1L426.6 569.0L428.3 571.9L429.7 574.7L430.4 577.7L429.7 580.8L428.7 583.4L429.6 585.5L432.4 588.8L434.0 593.2L432.6 596.1L429.4 596.7L426.8 596.9L424.8 597.9ZM902.1 222.7L902.2 226.0L899.0 226.9L896.0 226.5L893.3 225.1L892.3 222.3L892.0 219.3L894.0 217.1L896.7 216.5L899.6 215.8L903.2 216.7L903.0 220.3ZM178.4 412.3L177.1 410.6L175.7 408.5L175.6 406.0L175.8 403.3L176.3 400.2L178.5 397.9L182.0 397.7L184.8 397.6L187.4 395.9L190.7 394.5L193.8 395.4L196.1 397.5L198.3 399.5L199.4 402.2L198.5 405.3L197.2 407.9L196.6 410.0L195.6 411.9L194.2 413.5L193.5 416.1L192.8 420.4L190.2 424.1L186.4 424.3L183.0 422.5L180.3 420.6L178.5 418.0L178.4 414.7ZM873.3 146.4L869.8 146.9L866.4 147.6L862.9 148.0L859.6 147.0L856.3 145.8L854.4 142.9L851.0 141.9L848.7 139.2L847.3 136.0L845.9 132.8L846.1 129.3L844.6 126.2L842.4 123.4L841.2 120.1L841.5 116.6L841.2 113.2L843.2 110.3L845.8 107.9L846.4 104.4M168.4 165.9L164.9 165.7L161.5 164.7L158.4 163.0L155.2 161.6L152.1 160.1L150.1 157.2L150.0 153.7L150.3 150.2L150.8 146.8L151.5 143.3L152.1 139.9L154.2 137.1L157.6 136.3L160.5 134.3L163.1 132.0L165.4 129.3L167.8 126.8L170.8 125.0L173.9 123.4L177.4 123.8L180.7 125.0L184.2 124.8L187.4 123.3L189.8 120.8L191.7 117.9M413.2 264.6L416.6 264.0L420.1 264.2L423.6 264.7L426.9 265.7L430.4 265.7L433.7 266.8L436.6 268.8L438.8 271.5L441.1 274.1L443.5 276.7L446.6 278.3L450.1 277.9L453.5 277.2L457.0 277.1L460.1 275.5L463.6 275.7L466.6 277.6L468.3 280.6L468.5 284.1L468.8 287.6L470.6 290.6L473.2 292.9L474.9 296.0L474.4 299.4L475.7 302.7L478.8 304.3L482.1 305.3L485.6 305.6M586.0 182.8L587.2 179.5L589.3 176.7L592.4 175.1L594.4 172.3L597.3 170.4L598.5 167.1L601.1 164.7L604.5 163.9L607.8 162.8L611.1 164.1L614.5 164.5L617.9 163.6L621.3 162.7L623.3 159.8L624.0 156.4L624.2 152.9L623.3 149.5L621.7 146.4L620.2 143.3L617.1 141.5L614.2 139.6L611.9 137.0L610.1 133.9L607.0 132.4L603.9 130.7M684.7 309.8L681.3 310.5L678.0 311.5L674.6 310.5L671.1 310.6L667.7 311.4L664.2 311.8L661.1 313.4L657.7 314.0L654.2 313.9L651.2 315.7L647.7 315.6L644.7 317.4L641.4 318.4L638.3 320.0L636.3 322.9L636.4 326.4L634.1 329.1L631.0 330.7L628.0 332.4L624.5 332.8L621.5 331.0L620.1 327.8L618.8 324.5L616.5 321.8L614.4 319.1L614.4 315.6L615.5 312.3L617.4 309.3L620.4 307.6L623.2 305.4L626.2 303.5L629.7 303.3L632.7 301.6L636.2 301.6L639.0 299.4L641.9 297.4L644.9 295.7L646.8 292.8L650.0 291.4M446.6 217.0L444.3 219.6L443.3 222.9L441.4 225.9L438.5 227.8L435.4 229.5L433.6 232.4L432.0 235.6L430.0 238.5L427.4 240.8L424.2 242.2L420.7 242.6L417.7 240.7L414.3 241.1L411.0 239.8L407.5 239.3L404.5 240.9L402.1 243.5L400.7 246.7L401.3 250.2L402.0 253.6L400.7 256.8L398.8 259.8L398.2 263.2L398.8 266.7L401.2 269.2L403.2 272.1L406.4 273.4L409.8 274.5L411.7 277.5L411.5 281.0L410.0 284.1L408.5 287.3L408.8 290.8M394.8 340.5L391.5 339.2L388.2 338.0L386.1 335.3L382.9 334.0L380.2 331.7L378.2 328.9L375.6 326.4L372.2 325.6L369.0 324.2L366.5 321.8L363.9 319.5L361.2 317.2L359.1 314.4L357.6 311.3L355.7 308.3L352.7 306.5L349.6 304.8L346.7 302.9L345.2 299.7L346.0 296.3L347.2 293.0L347.5 289.5L346.5 286.2L346.1 282.7L346.8 279.3L346.4 275.8L346.8 272.4L349.4 270.0L351.6 267.3L355.0 266.3L358.2 265.1L361.7 264.5L365.0 265.8L368.5 265.6L371.8 264.6L375.0 266.0M117.4 273.9L114.0 274.6L110.8 273.1L108.9 270.1L106.9 267.3L104.4 264.8L102.3 262.0L100.3 259.2L97.2 257.5L95.9 254.2L96.7 250.8L95.7 247.5L95.9 244.0L95.4 240.5L94.1 237.3L91.6 234.8L89.6 231.9L86.6 230.1L85.2 226.9L82.6 224.6L81.7 221.2L82.8 217.9L85.8 216.0L89.2 215.1L92.6 216.0L95.8 214.7L99.3 214.1L101.6 211.6L104.6 209.8L108.1 210.1L111.1 208.2L114.6 208.5L117.2 210.8L118.4 214.1L118.5 217.6L119.2 221.0L118.3 224.4L119.8 227.6L120.6 231.0M607.9 342.2L606.0 339.2L604.9 335.9L604.5 332.4L603.1 329.2L600.8 326.6L600.4 323.1L600.1 319.6L597.7 317.0L594.8 315.1L591.5 313.8L588.1 314.6L585.0 313.1L583.1 310.1L582.7 306.7L580.1 304.3L577.3 302.2L573.8 301.8L570.6 300.4L568.3 297.8L567.2 294.5M756.7 186.8L759.6 188.8L762.4 190.9L764.7 193.5L765.0 197.0L765.9 200.4L767.9 203.2L769.2 206.5L770.0 209.9L769.8 213.4L769.6 216.9L768.4 220.2L765.5 222.1L762.4 223.7L760.3 226.6L758.2 229.3L755.5 231.6L752.5 233.4M67.0 212.8L68.2 216.1L70.1 219.0L69.7 222.5L71.4 225.6L73.4 228.5L76.6 230.0L78.0 233.2L79.4 236.4L80.0 239.8L80.4 243.3L79.5 246.7L79.4 250.2L79.7 253.7L78.8 257.1L77.1 260.1L74.0 261.8L71.4 264.2L68.1 265.1L64.6 264.9L61.1 264.4M419.2 396.5L422.6 396.3L426.1 396.2L429.6 396.1L432.7 397.7L436.2 397.4L439.7 398.0L442.8 396.4L444.3 393.2L444.0 389.7L445.5 386.6L447.2 383.5L449.3 380.7L451.2 377.7L451.8 374.3L451.7 370.8L452.3 367.4L452.2 363.9L451.8 360.4M938.9 340.9L941.2 338.2L942.6 335.1L944.3 332.0L945.9 328.9L948.9 327.1L952.1 325.7L955.5 324.9L959.0 324.5L962.4 325.5L965.8 325.9L968.8 324.0L972.2 324.2L975.3 325.9L978.8 325.8L981.8 323.9L983.8 321.0L986.3 318.6L987.4 315.3L986.2 312.0L984.9 308.7L981.8 307.0L978.4 306.4L974.9 306.4L971.7 307.8L970.1 310.9L969.6 314.4L970.4 317.8L972.0 320.9L974.0 323.8M376.7 282.3L379.8 283.8L383.0 285.4L386.4 284.5L389.2 282.4L392.7 282.2L396.2 281.8L399.2 280.0L402.7 279.7L405.8 281.2L409.3 281.0L412.8 280.7L416.3 280.8L419.3 279.1L421.8 276.6L424.7 274.6L428.0 273.4L431.4 272.7L434.9 272.7L438.4 272.0L440.8 269.6L441.2 266.1L443.1 263.1L446.2 261.5L449.7 261.8M126.9 491.6L129.9 493.4L132.7 495.5L133.7 498.8L132.6 502.1L129.6 504.1L127.4 506.8L126.5 510.2L126.1 513.6L127.5 516.8L129.3 519.9L132.0 522.1L134.9 524.0L138.0 525.6L141.1 527.3L144.6 527.4L147.6 529.2L151.1 529.4L154.4 530.4L157.8 529.6L161.3 530.2L164.4 531.7L165.9 534.9L167.4 538.1L166.8 541.5L167.5 544.9L169.7 547.7M403.8 350.4L403.4 346.9L401.1 344.3L398.0 342.7L395.1 340.7L392.3 338.7L388.8 338.7L385.9 340.7L382.8 342.4L379.5 343.6L377.5 346.4L374.5 348.3L372.4 351.1L370.0 353.6L367.4 356.0L365.5 358.9L362.2 360.2L359.2 361.9L356.3 363.9L353.3 365.7L349.9 366.0L347.0 364.1L345.0 361.1L343.2 358.1L342.4 354.7L342.3 351.2M904.2 586.2L902.8 583.0L901.0 580.0L901.0 576.5L900.8 573.0L900.4 569.5L901.1 566.1L899.8 562.9L899.8 559.4L899.5 555.9L898.0 552.7L895.7 550.1L895.5 546.6L895.0 543.1L895.7 539.7L897.3 536.6L900.3 534.7L903.6 533.6L905.7 530.8L907.7 528.0L909.8 525.1L912.4 522.8M204.1 522.0L203.2 525.4L204.3 528.7L206.7 531.2L209.4 533.5L212.4 535.2L215.5 536.9L218.5 538.7L221.7 540.0L225.2 539.6L227.6 537.1L230.3 534.8L233.8 534.6L237.0 533.3L240.0 531.4L242.4 528.9L245.5 527.2L248.5 525.6L252.0 525.3L254.5 522.9L255.5 519.5L255.1 516.0L254.0 512.7L252.5 509.5L250.5 506.7L250.6 503.2L250.5 499.7L250.7 496.2L253.0 493.5L255.7 491.4L258.7 489.6M788.9 287.2L792.2 288.1L795.5 289.4L798.9 288.7L802.4 289.1L805.8 288.9L809.3 289.5L812.8 288.9L815.9 290.4L819.3 291.3L822.8 291.0L825.9 292.7L829.4 293.0L832.8 292.2L836.2 291.4L839.4 292.8L842.9 292.5L845.9 290.7L849.4 290.4L852.1 288.2M424.6 498.0L422.0 495.7L420.5 492.6L417.5 490.7L414.5 488.9L411.0 488.4L407.8 489.9L404.4 489.6L400.9 489.9L397.6 488.6L395.7 485.7L392.5 484.1L390.4 481.4L389.1 478.1L386.6 475.7L384.1 473.2L381.9 470.5L378.9 468.7L375.5 468.0L372.4 469.6L369.6 471.7L366.3 472.8L362.8 472.8L359.5 474.1L356.0 473.8L352.6 474.4L350.0 476.8L348.2 479.8L345.2 481.6L343.0 484.3L340.4 486.6L336.9 487.0L333.4 486.7L330.0 485.9L327.6 483.3L327.2 479.9L325.2 477.0L321.8 476.1L318.3 476.6L314.9 475.8L311.4 475.6M311.1 567.4L313.0 570.3L316.2 571.7L319.6 572.6L323.0 573.2L326.5 572.6L329.9 573.2L332.5 575.5L335.9 576.4L339.3 577.2L341.5 579.9L341.9 583.4L342.6 586.8L345.0 589.4L347.6 591.8L350.0 594.3L351.4 597.5L353.9 599.9L357.1 601.4L358.7 604.5L361.8 606.0L364.7 607.9L368.2 608.0L371.5 609.2L374.9 610.1L377.2 612.8M256.5 542.4L257.9 545.7L258.5 549.1L257.8 552.5L255.1 554.8L252.4 557.0L251.3 560.3L249.3 563.2L246.3 565.0L244.5 568.0L242.7 571.0L241.1 574.1L238.4 576.4L235.1 577.3L232.7 579.9L231.0 582.9L231.3 586.4M412.3 288.6L412.0 292.1L409.6 294.6L406.1 295.2L402.8 294.0L399.4 294.6L396.0 293.8L393.1 291.8L390.1 289.9L389.1 286.6L388.4 283.2L386.2 280.5L383.0 278.9L379.5 279.1L376.1 278.8L372.7 277.8L370.2 275.4L366.7 275.1L363.8 277.1L360.3 276.8L356.9 277.8L354.0 279.7L350.6 280.0L347.7 282.1L344.3 282.9L341.0 281.7L337.8 280.3L334.9 278.4L331.4 278.8L327.9 278.7L324.5 278.0L321.5 276.1L318.6 274.2L315.1 274.0L311.8 275.1M634.7 167.4L636.6 170.3L639.0 172.9L641.7 175.1L644.5 177.2L648.0 177.2L650.9 179.1L654.4 179.0L657.9 178.7L660.5 176.4L663.7 174.8L666.7 173.0L669.4 170.8L672.4 169.0L675.2 166.9L676.2 163.6L678.7 161.0L681.4 158.8L682.1 155.4L681.1 152.1L681.9 148.6L681.5 145.2L681.3 141.7L681.1 138.2M821.6 558.6L825.0 559.5L828.4 560.3L831.7 561.4L835.2 561.1L838.5 562.1L841.9 563.0L845.4 563.3L848.8 562.4L852.2 563.1L854.7 565.6L855.4 569.0L857.2 572.0L860.3 573.5L863.2 575.5L866.7 575.3L869.8 576.8L872.5 579.1L875.6 580.7M448.5 451.0L451.3 453.0L454.8 453.2L458.3 453.2L461.5 454.6L465.0 454.1L468.5 453.7L471.7 455.0L475.2 455.4L478.5 456.4L481.9 457.5L485.2 458.4L488.2 460.3L491.3 461.8L494.7 461.0L497.9 459.5L499.5 456.4L499.0 453.0L500.7 449.9L501.8 446.6L502.1 443.1L504.4 440.5L504.9 437.0L503.2 434.0L501.6 430.8L499.5 428.1L496.5 426.2M201.0 313.9L198.3 316.1L195.1 317.6L192.0 319.1L190.4 322.2L189.0 325.4L186.3 327.7L183.3 329.5L182.0 332.7L182.5 336.2L181.1 339.4L179.4 342.5L179.4 346.0L178.3 349.3L175.6 351.5L172.1 352.1L168.6 351.9L165.5 350.3L162.0 350.7L158.6 351.2L155.2 350.3L151.7 350.1L148.5 351.5L145.0 351.3L141.8 350.1L138.5 351.2L136.4 354.0L134.1 356.7M899.5 420.3L902.3 418.3L904.6 415.6L907.6 413.9L911.1 414.1L913.9 416.2L916.1 419.0L916.4 422.4L915.1 425.7L915.1 429.2L916.8 432.2L919.8 434.0L922.0 436.7L923.8 439.7L926.0 442.4L928.8 444.5L929.6 447.9L931.2 451.1L930.9 454.5M753.3 522.0L752.9 518.5L751.6 515.3L751.1 511.8L751.6 508.4L751.9 504.9L751.1 501.5L749.9 498.2L749.8 494.7L748.4 491.5L745.7 489.3L742.9 487.1L740.6 484.5L737.3 483.5L733.8 483.7L730.9 481.7L727.5 480.7L724.8 478.6L721.5 477.3L718.1 477.9M487.9 538.7L490.6 536.4L494.1 536.2L497.5 535.6L500.9 536.4L504.3 535.9L507.8 535.8L510.7 533.7L513.4 531.5L516.5 529.9L519.1 527.6L520.1 524.2L522.5 521.6L525.7 520.4L528.9 519.0L531.0 516.2L534.4 515.1" stroke="#5f7488" stroke-width="0.7" stroke-opacity="0.68" fill="none" stroke-linejoin="round"/><text transform="translate(119.5,264.5) rotate(57)" font-size="11" style="fill:#5f7488;fill-opacity:0.8" stroke="none">2000</text></g>
<path d="M183.5 121.6L183.5 205.3L180.7 277.9L176.9 337.9L175.0 420.1M181.9 205.3L206.6 214.8L225.5 227.4L244.5 233.7L250.8 255.8L288.7 257.4L288.7 271.6L302.9 273.2L303.8 303.2M303.8 303.2L298.2 309.5L296.6 322.1L304.5 328.5L310.8 341.1L320.3 366.4L332.9 388.5L342.4 420.1M303.8 303.2L320.3 306.4L339.2 312.7L356.0 322.1M176.6 336.4L231.8 337.9L253.9 349.0L260.3 336.4L310.8 341.1M37.6 320.6L99.2 325.3M37.6 375.8L78.6 379.0M108.6 375.8L175.0 386.9M108.6 375.8L107.1 420.1M253.9 420.1L255.5 398.0L298.2 407.4L299.7 386.9L337.6 388.5M362.3 121.6L359.2 341.1M414.4 121.6L413.5 203.7L423.9 204.6L422.3 366.4M413.5 203.7L413.5 213.2L425.5 213.2L425.5 204.6M479.2 173.7L599.2 173.7L599.2 232.1L520.2 233.1L519.6 262.1L479.2 262.8M577.1 121.6L577.1 173.7M577.1 156.3L627.6 156.3L627.6 173.7M599.2 173.7L676.0 173.7M479.2 295.3L570.8 295.3L640.3 293.7L664.0 309.5M570.8 295.3L573.9 388.5L553.4 388.5L553.4 412.2L479.2 412.2M599.2 232.1L676.0 238.4M605.5 233.7L618.2 268.5L664.0 268.5M605.5 262.1L607.1 293.7M359.2 341.1L411.3 342.7L409.7 388.5L387.6 388.5L375.0 420.1M457.1 363.2L479.2 363.2M446.0 375.8L447.6 420.1M457.1 363.2L446.0 375.8L428.6 382.2L409.7 388.5M660.8 176.9L671.9 175.3L673.4 189.5L662.4 189.5L660.8 176.9M664.0 268.5L660.8 296.9L664.0 322.1L676.0 320.6M668.7 372.7L676.0 372.7M668.7 372.7L670.3 394.8L676.0 394.8M676.0 172.1L707.6 172.1L709.2 252.7L676.0 254.2M709.2 183.2L742.3 183.2L755.0 187.9L871.8 184.8L893.9 195.8M729.7 148.4L824.5 150.0M824.5 150.0L840.2 157.9L870.3 157.9L871.8 224.2L852.9 224.2L854.5 229.0L822.9 238.4L821.3 232.1L740.8 236.9L742.3 309.5M822.9 238.4L824.5 271.6L808.7 271.6L802.3 284.2L769.2 285.8L770.8 337.9L824.5 337.9L822.9 271.6M824.5 282.7L851.3 284.2L851.3 307.9L901.8 306.4M851.3 276.3L867.1 274.8L868.7 266.9L881.3 260.6L882.9 252.7L897.1 252.7M837.1 284.2L837.1 330.0L846.6 331.6L848.1 350.6L856.0 352.2L857.6 366.4L870.3 364.8M857.6 372.7L901.8 371.1M857.6 372.7L854.5 420.1M676.0 319.0L742.3 319.0M696.5 320.6L698.1 356.9L676.0 358.5M742.3 309.5L769.2 311.1M893.9 159.5L987.1 151.6M897.1 195.8L987.1 191.1M898.7 232.1L987.1 227.4M900.3 270.0L987.1 263.7M901.8 306.4L987.1 301.6M901.8 347.4L987.1 342.7M903.4 385.3L987.1 380.6M950.8 121.6L960.3 265.3L969.7 420.1M935.0 268.5L938.2 306.4M930.3 306.4L938.2 420.1M170.4 401.6L173.5 462.5L168.8 500.0M173.5 462.5L254.8 465.6L356.0 468.8M251.6 401.6L254.8 465.6L248.5 509.4M254.8 401.6L298.5 406.2L298.5 400.0M307.9 551.6L323.5 551.6L323.5 534.4L351.6 534.4M307.9 551.6L307.9 560.9M78.2 412.5L107.9 414.1L106.3 400.0M377.9 410.9L374.8 570.3M356.0 468.8L376.3 468.8M376.3 476.6L476.3 477.5M356.0 534.4L374.8 534.4M377.9 410.9L356.0 412.5M446.6 400.0L446.6 425.0M477.9 412.5L563.8 412.5L563.8 431.2M477.9 448.4L491.9 448.4L491.9 460.9L556.0 470.3L557.6 464.1L602.9 462.5L602.9 448.4L632.6 446.9L668.5 423.4M513.8 470.3L515.4 525.0L535.7 525.0L535.7 470.3M602.9 462.5L602.9 531.2M668.5 415.6L670.1 496.9L676.0 498.4M741.6 412.5L779.1 410.9M743.2 414.1L741.6 465.6L779.1 465.6M779.1 426.6L852.6 423.4L855.7 400.0M779.1 426.6L780.7 631.2M852.6 423.4L863.5 503.1M907.2 421.9L966.6 417.2L983.8 415.6M908.8 459.4L983.8 454.7M910.4 495.3L983.8 490.6M879.1 534.4L985.4 528.1M966.6 417.2L968.2 578.1L985.4 579.7M927.6 496.9L932.2 562.5M888.5 506.2L891.6 534.4M841.6 507.8L838.5 584.4L780.7 625.0M838.5 584.4L869.8 606.2L916.6 556.2M879.1 534.4L882.2 546.9L919.8 554.7L941.6 559.4L960.4 571.9L968.2 579.7M869.8 606.2L894.8 621.9L944.8 659.4M863.5 642.2L865.1 661.9M780.7 628.1L863.5 642.2L879.1 625.0L869.8 606.2M969.8 581.2L976.0 634.4L954.1 650.0L955.7 661.9" stroke="#111" stroke-width="0.75"/><path d="M478.5 122.0L478.0 350.0L477.5 571.0M890.8 122.0L905.0 420.0L910.4 503.0M649.7 513.2L780.0 508.5L910.4 503.0M326.6 568.8L356.0 570.3L478.0 571.0L540.4 570.5L540.4 532.8L600.0 532.0L660.5 531.2M65.7 457.8L326.6 568.8M37.0 440.3L73.5 439.0M37.6 186.3L91.3 243.2M137.0 121.6L137.0 146.8" stroke="#000" stroke-width="1.3"/><path d="M649.7 513.2L651.0 520.0L654.6 525.0L660.5 531.0L670.2 534.7L676.0 541.0L683.9 554.2L697.6 564.0L713.2 575.7L728.8 589.4L744.4 605.0L760.0 613.0L771.8 620.6L779.0 628.0L785.4 643.8L796.3 662.0M493.5 571.0L496.0 580.0L503.0 598.0L494.0 603.0L487.0 607.0L488.0 620.0L490.0 631.0L500.0 636.0L506.0 648.0L509.0 662.0M65.7 457.8L67.0 447.0L73.5 439.0L84.4 439.0L92.0 431.0L90.7 415.6L78.0 412.5L77.0 410.6L78.6 388.5L88.1 369.5L96.0 341.0L99.2 325.3L113.4 317.4L120.6 309.5L111.8 296.9L103.9 284.2L97.6 265.3L91.3 246.3L92.9 227.4L91.3 199.0L89.7 176.9L83.4 150.0L94.4 148.4L111.8 151.6L118.1 161.1L130.8 159.5L140.2 145.3L146.5 154.7L156.0 167.4L162.3 178.4M113.4 121.6L115.0 132.6L110.2 145.3L104.0 151.6M116.5 121.6L118.0 133.0L113.0 146.0L118.1 161.1M65.7 457.8L54.8 460.9L48.5 471.9L50.1 487.5L48.5 500.0L59.4 515.6L57.9 525.0L51.6 556.2L54.8 575.0L62.6 593.8L64.1 618.8L65.7 661.9M59.4 515.6L76.6 525.0L98.5 540.6L109.4 546.2L118.8 543.8L120.4 534.4L129.8 537.5L143.8 550.0L145.4 560.9L164.1 568.8L181.3 575.0L182.9 587.5L179.8 603.1L186.0 618.8L196.9 640.6L201.6 661.9" stroke="#000" stroke-width="1.6"/>
<path d="M34.6 133.6L25.5 113.2M25.5 113.2L30.4 106.9M26.7 115.8L31.6 109.5M61.0 133.4L51.2 113.4M51.2 113.4L55.8 106.9M52.4 115.9L57.1 109.4M87.4 133.1L76.3 113.8M76.3 113.8L80.5 107.0M77.7 116.3L81.9 109.5M113.9 132.9L100.8 114.9M100.8 114.9L104.3 107.7M102.4 117.1L105.9 109.9M140.3 132.7L127.2 114.7M127.2 114.7L130.7 107.5M128.8 116.9L132.3 109.7M166.7 132.5L152.3 115.5M152.3 115.5L155.2 108.0M154.1 117.6L157.0 110.2M193.0 132.3L178.1 115.7M178.1 115.7L180.9 108.2M180.0 117.8L182.7 110.3M219.5 132.1L204.5 115.5M204.5 115.5L207.3 108.0M206.4 117.6L209.2 110.1M245.9 131.9L231.1 115.2M231.1 115.2L233.9 107.7M232.9 117.3L235.7 109.8M272.3 131.6L257.3 115.1M257.3 115.1L260.0 107.6M259.2 117.2L261.9 109.7M298.7 131.4L283.1 115.5M283.1 115.5L285.4 107.9M285.0 117.5L287.4 109.9M325.1 131.2L309.1 115.6M309.1 115.6L311.3 108.0M311.1 117.6L313.3 109.9M351.5 130.9L335.5 115.5M335.5 115.5L337.7 107.8M337.5 117.4L339.7 109.7M377.9 130.7L361.9 115.2M361.9 115.2L364.1 107.5M363.9 117.2L366.2 109.5M404.3 130.5L388.4 114.9M388.4 114.9L390.7 107.2M390.4 116.9L392.7 109.2M430.7 130.3L414.7 114.8M414.7 114.8L416.9 107.1M416.7 116.8L418.9 109.1M457.1 130.1L440.9 114.9M440.9 114.9L443.0 107.1M442.9 116.8L445.0 109.1M483.6 129.9L467.3 114.7M467.3 114.7L469.3 106.9M469.3 116.6L471.4 108.8M510.0 129.6L493.8 114.3M493.8 114.3L495.9 106.6M495.8 116.3L497.9 108.5M536.4 129.4L520.4 113.9M520.4 113.9L522.7 106.2M522.4 115.8L524.7 108.1M562.8 129.2L546.6 113.8M546.6 113.8L548.8 106.1M548.7 115.8L550.8 108.1M589.2 129.0L572.9 113.8M572.9 113.8L575.0 106.0M575.0 115.7L577.0 108.0M615.6 128.8L599.3 113.6M599.3 113.6L601.4 105.8M601.4 115.5L603.4 107.7M642.0 128.6L625.7 113.3M625.7 113.3L627.8 105.6M627.8 115.3L629.8 107.5M629.8 117.2L630.9 113.3M668.4 128.3L652.1 113.1M652.1 113.1L654.2 105.4M654.2 115.0L656.3 107.3M656.2 116.9L657.3 113.1M694.9 128.1L678.5 112.9M678.5 112.9L680.6 105.2M680.6 114.8L682.7 107.1M682.6 116.7L684.7 109.0M721.3 127.9L705.0 112.6M705.0 112.6L707.1 104.9M707.0 114.5L709.1 106.8M709.1 116.5L711.2 108.7M747.7 127.6L731.4 112.4M731.4 112.4L733.5 104.7M733.5 114.3L735.6 106.6M735.5 116.2L737.6 108.5M774.1 127.4L757.6 112.4M757.6 112.4L759.6 104.7M759.7 114.3L761.6 106.6M761.7 116.2L763.7 108.4M800.5 127.2L783.9 112.3M783.9 112.3L785.9 104.5M786.0 114.2L787.9 106.4M788.1 116.0L790.0 108.3M826.9 127.0L810.4 112.0M810.4 112.0L812.3 104.3M812.4 113.9L814.4 106.2M814.5 115.8L816.5 108.0M853.3 126.8L836.4 112.3M836.4 112.3L838.1 104.5M838.5 114.1L840.3 106.3M840.6 115.9L842.4 108.1M842.8 117.7L843.6 113.8M879.7 126.5L862.7 112.2M862.7 112.2L864.3 104.4M864.8 114.0L866.5 106.2M866.9 115.8L868.6 108.0M869.1 117.6L870.8 109.8M906.1 126.3L889.2 111.9M889.2 111.9L890.9 104.1M891.3 113.7L893.0 105.9M893.4 115.5L895.1 107.7M895.6 117.3L897.3 109.5M932.6 126.1L915.5 111.7M915.5 111.7L917.2 103.8M917.7 113.5L919.4 105.7M919.8 115.3L921.5 107.5M922.0 117.1L923.7 109.3M959.0 125.9L941.9 111.5M941.9 111.5L943.6 103.7M944.1 113.3L945.7 105.5M946.2 115.1L947.9 107.3M948.3 116.9L950.0 109.1M950.5 118.7L951.3 114.8M985.4 125.6L968.3 111.3M1011.8 125.4L994.7 111.1M49.7 155.9L40.2 135.7M40.2 135.7L45.0 129.3M41.4 138.2L46.2 131.8M76.0 155.7L64.9 136.3M64.9 136.3L69.2 129.6M66.3 138.8L70.6 132.0M102.3 155.5L90.0 136.9M90.0 136.9L93.8 129.9M91.5 139.3L95.3 132.2M128.6 155.3L115.6 137.2M115.6 137.2L119.1 130.1M117.2 139.5L120.8 132.3M154.9 155.2L141.3 137.5M141.3 137.5L144.6 130.2M143.0 139.7L146.4 132.4M181.2 155.0L166.4 138.3M166.4 138.3L169.2 130.8M168.3 140.4L171.1 132.9M207.5 154.9L192.6 138.3M192.6 138.3L195.4 130.8M194.5 140.4L197.2 132.8M233.8 154.7L219.0 138.0M219.0 138.0L221.8 130.5M220.8 140.1L223.6 132.6M260.1 154.5L245.2 137.9M245.2 137.9L247.9 130.4M247.1 140.0L249.8 132.5M286.5 154.3L270.9 138.3M270.9 138.3L273.3 130.7M272.9 140.3L275.3 132.7M312.8 154.1L296.9 138.4M296.9 138.4L299.2 130.8M298.9 140.4L301.2 132.7M339.1 153.9L323.1 138.4M323.1 138.4L325.3 130.7M325.1 140.4L327.3 132.7M365.4 153.8L349.4 138.2M349.4 138.2L351.6 130.5M351.4 140.2L353.6 132.5M391.7 153.6L375.8 138.0M375.8 138.0L378.0 130.3M377.8 140.0L380.0 132.3M418.0 153.5L402.0 137.9M402.0 137.9L404.2 130.2M404.0 139.9L406.2 132.2M444.3 153.3L428.2 137.8M428.2 137.8L430.4 130.1M430.2 139.8L432.4 132.1M470.6 153.1L454.3 137.8M454.3 137.8L456.4 130.1M456.4 139.7L458.5 132.0M496.9 152.9L480.7 137.6M480.7 137.6L482.8 129.9M482.7 139.5L484.8 131.8M523.2 152.7L507.3 137.1M507.3 137.1L509.6 129.4M509.3 139.0L511.6 131.4M549.5 152.5L533.6 136.9M533.6 136.9L535.9 129.2M535.6 138.8L537.9 131.2M575.8 152.4L559.7 137.0M559.7 137.0L561.8 129.3M561.7 138.9L563.8 131.2M602.1 152.2L585.9 137.0M585.9 137.0L588.0 129.2M587.9 138.9L590.0 131.1M628.5 152.0L612.2 136.7M612.2 136.7L614.4 129.0M614.3 138.6L616.4 130.9M654.8 151.9L638.5 136.6M638.5 136.6L640.5 128.9M640.5 138.5L642.6 130.8M642.6 140.5L643.6 136.6M681.1 151.7L664.8 136.4M664.8 136.4L666.9 128.7M666.9 138.3L669.0 130.6M668.9 140.2L670.0 136.4M707.4 151.5L691.1 136.2M691.1 136.2L693.2 128.5M693.2 138.1L695.2 130.4M695.2 140.0L697.3 132.3M733.7 151.3L717.5 135.9M717.5 135.9L719.6 128.2M719.5 137.9L721.7 130.2M721.6 139.8L722.6 135.9M760.0 151.1L743.8 135.8M743.8 135.8L745.9 128.1M745.8 137.7L748.0 130.0M747.9 139.6L748.9 135.8M786.3 150.9L769.8 135.9M769.8 135.9L771.8 128.1M771.9 137.8L773.9 130.0M774.0 139.7L776.0 131.9M812.6 150.8L796.1 135.8M796.1 135.8L798.1 128.0M798.2 137.7L800.1 129.9M800.2 139.6L802.2 131.8M838.9 150.6L822.5 135.5M822.5 135.5L824.5 127.8M824.6 137.4L826.6 129.7M826.6 139.3L828.6 131.6M865.2 150.4L848.3 135.9M848.3 135.9L850.0 128.1M850.4 137.7L852.2 129.9M852.5 139.6L854.3 131.8M854.7 141.4L855.5 137.5M891.5 150.2L874.5 135.8M874.5 135.8L876.3 128.0M876.7 137.6L878.4 129.8M878.8 139.4L880.5 131.6M880.9 141.2L882.7 133.4M917.8 150.1L900.9 135.5M900.9 135.5L902.7 127.7M903.1 137.3L904.8 129.5M905.2 139.2L907.0 131.3M907.3 141.0L909.1 133.2M944.1 149.9L927.1 135.5M927.1 135.5L928.7 127.7M929.2 137.3L930.9 129.5M931.3 139.1L933.0 131.3M933.5 140.9L935.2 133.1M970.4 149.7L953.4 135.4M996.8 149.5L979.7 135.2M35.0 179.8L25.1 159.8M25.1 159.8L29.7 153.3M26.3 162.3L31.0 155.8M61.4 179.5L50.9 159.8M50.9 159.8L55.4 153.2M52.2 162.3L56.7 155.7M87.7 179.3L75.0 161.0M75.0 161.0L78.6 153.9M76.6 163.3L80.2 156.2M114.1 179.1L101.1 161.0M101.1 161.0L104.6 153.9M102.7 163.3L106.2 156.1M140.5 179.0L127.1 161.1M127.1 161.1L130.5 153.9M128.8 163.3L132.2 156.1M166.8 178.8L152.3 161.8M152.3 161.8L155.3 154.4M154.2 163.9L157.1 156.5M193.1 178.6L178.0 162.2M178.0 162.2L180.7 154.7M179.9 164.3L182.6 156.7M219.5 178.4L204.4 162.0M204.4 162.0L207.1 154.4M206.3 164.0L209.0 156.5M245.9 178.2L230.9 161.6M230.9 161.6L233.7 154.1M232.8 163.7L235.6 156.2M272.3 178.0L256.7 162.0M256.7 162.0L259.1 154.4M258.6 164.0L261.1 156.4M298.6 177.8L282.6 162.2M282.6 162.2L284.9 154.5M284.7 164.2L286.9 156.5M325.0 177.6L309.0 162.0M309.0 162.0L311.2 154.3M311.0 164.0L313.3 156.3M351.4 177.4L335.5 161.8M335.5 161.8L337.7 154.1M337.5 163.7L339.7 156.0M377.7 177.2L361.8 161.6M361.8 161.6L364.1 153.9M363.8 163.5L366.1 155.9M404.1 177.1L387.9 161.7M387.9 161.7L390.1 154.0M389.9 163.6L392.1 155.9M430.4 176.9L414.2 161.6M414.2 161.6L416.3 153.9M416.2 163.5L418.3 155.8M456.8 176.7L440.9 161.0M440.9 161.0L443.2 153.3M442.9 163.0L445.2 155.3M483.2 176.5L467.4 160.6M467.4 160.6L469.8 153.0M469.4 162.6L471.8 155.0M509.5 176.2L493.7 160.5M493.7 160.5L496.1 152.8M495.7 162.5L498.0 154.8M535.9 176.0L520.0 160.4M520.0 160.4L522.2 152.8M522.0 162.4L524.2 154.7M562.3 175.8L546.5 160.1M546.5 160.1L548.8 152.4M548.5 162.1L550.8 154.4M588.6 175.7L572.7 160.1M572.7 160.1L574.9 152.4M574.7 162.0L576.9 154.4M615.0 175.5L598.9 160.0M598.9 160.0L601.2 152.3M601.0 162.0L603.2 154.3M641.4 175.3L625.3 159.8M625.3 159.8L627.5 152.1M627.3 161.8L629.5 154.1M667.7 175.1L651.6 159.6M651.6 159.6L653.8 151.9M653.7 161.6L655.8 153.9M655.7 163.5L656.8 159.7M694.1 174.8L678.0 159.4M678.0 159.4L680.3 151.7M680.1 161.3L682.3 153.6M682.1 163.2L683.2 159.4M720.5 174.6L704.4 159.2M704.4 159.2L706.6 151.5M706.4 161.1L708.6 153.4M708.4 163.0L709.5 159.2M746.8 174.4L730.8 159.0M730.8 159.0L733.0 151.3M732.8 160.9L735.0 153.2M734.8 162.8L735.9 159.0M773.2 174.2L757.1 158.8M757.1 158.8L759.3 151.1M759.1 160.7L761.4 153.0M761.2 162.6L762.3 158.8M799.5 174.1L783.4 158.6M783.4 158.6L785.6 150.9M785.5 160.6L787.6 152.9M787.5 162.5L788.6 158.6M825.9 173.9L809.6 158.6M809.6 158.6L811.7 150.9M811.7 160.5L813.8 152.8M813.7 162.5L815.8 154.7M852.3 173.7L836.0 158.4M836.0 158.4L838.1 150.7M838.0 160.4L840.1 152.6M840.1 162.3L842.2 154.5M878.6 173.5L862.1 158.5M862.1 158.5L864.1 150.7M864.2 160.4L866.2 152.6M866.3 162.2L868.2 154.5M868.3 164.1L869.3 160.2M905.0 173.2L888.4 158.3M888.4 158.3L890.3 150.6M890.5 160.2L892.4 152.5M892.6 162.1L894.5 154.3M894.7 164.0L896.6 156.2M931.4 173.0L914.5 158.4M914.5 158.4L916.3 150.6M916.6 160.3L918.4 152.5M918.8 162.1L920.6 154.3M920.9 163.9L922.7 156.1M957.7 172.9L940.9 158.2M940.9 158.2L942.7 150.4M943.0 160.1L944.8 152.3M945.1 161.9L946.9 154.1M947.2 163.7L949.0 155.9M984.1 172.7L967.0 158.3M1010.5 172.5L993.4 158.1M50.1 202.2L40.3 182.2M40.3 182.2L45.0 175.7M41.6 184.7L46.3 178.2M76.4 202.1L64.0 183.5M64.0 183.5L67.8 176.5M65.6 185.9L69.3 178.8M102.7 201.9L89.6 183.9M89.6 183.9L93.1 176.7M91.2 186.1L94.7 178.9M128.9 201.8L115.5 183.9M115.5 183.9L118.9 176.7M117.2 186.2L120.6 178.9M155.2 201.6L141.2 184.3M141.2 184.3L144.3 176.9M142.9 186.4L146.1 179.1M181.4 201.5L166.3 185.1M166.3 185.1L168.9 177.5M168.2 187.2L170.8 179.6M207.7 201.4L192.5 185.0M192.5 185.0L195.1 177.5M194.4 187.1L197.0 179.5M233.9 201.2L218.9 184.7M218.9 184.7L221.6 177.2M220.8 186.8L223.5 179.3M260.2 201.1L245.0 184.8M245.0 184.8L247.5 177.2M246.9 186.8L249.5 179.2M286.5 200.9L270.5 185.3M270.5 185.3L272.7 177.7M272.5 187.3L274.7 179.6M312.7 200.7L296.7 185.3M296.7 185.3L298.9 177.6M298.7 187.2L300.9 179.5M339.0 200.6L323.0 185.0M323.0 185.0L325.3 177.4M325.1 187.0L327.3 179.3M365.3 200.5L349.5 184.7M349.5 184.7L351.8 177.1M351.5 186.7L353.8 179.0M391.5 200.4L375.5 184.9M375.5 184.9L377.7 177.2M377.5 186.8L379.7 179.1M417.8 200.3L401.5 185.0M401.5 185.0L403.6 177.3M403.5 186.9L405.6 179.2M444.0 200.1L427.8 184.8M427.8 184.8L430.0 177.1M429.9 186.7L432.0 179.0M470.3 200.0L454.8 184.0M454.8 184.0L457.3 176.4M456.8 186.0L459.2 178.4M496.6 199.9L481.1 183.9M481.1 183.9L483.6 176.3M483.0 185.9L484.3 182.1M522.9 199.8L506.9 184.2M506.9 184.2L509.2 176.5M508.9 186.1L511.2 178.5M549.1 199.6L533.2 184.0M533.2 184.0L535.5 176.3M535.2 185.9L537.5 178.3M575.4 199.4L560.0 183.3M560.0 183.3L562.5 175.7M561.9 185.4L563.2 181.6M601.7 199.2L585.8 183.5M585.8 183.5L588.1 175.9M587.8 185.5L590.1 177.8M628.0 199.0L611.9 183.5M611.9 183.5L614.1 175.8M613.9 185.4L616.2 177.8M654.2 198.8L638.2 183.3M638.2 183.3L640.4 175.6M640.2 185.2L642.4 177.5M680.5 198.6L664.5 183.1M664.5 183.1L666.7 175.4M666.5 185.0L668.7 177.3M668.5 187.0L669.6 183.1M706.8 198.4L690.7 182.9M690.7 182.9L693.0 175.2M692.8 184.8L695.0 177.2M694.8 186.8L695.9 182.9M733.1 198.2L717.0 182.7M717.0 182.7L719.2 175.0M719.0 184.7L721.2 177.0M721.1 186.6L722.2 182.8M759.3 198.1L743.3 182.6M743.3 182.6L745.5 174.9M745.3 184.5L747.5 176.8M785.6 197.9L769.6 182.4M769.6 182.4L771.8 174.7M771.6 184.4L773.8 176.7M773.6 186.3L774.7 182.5M811.9 197.8L795.8 182.3M795.8 182.3L798.0 174.6M797.9 184.2L800.1 176.5M838.2 197.6L822.0 182.3M822.0 182.3L824.1 174.6M824.0 184.2L826.1 176.5M826.0 186.1L828.2 178.4M864.4 197.4L848.4 182.0M848.4 182.0L850.6 174.3M850.4 183.9L852.6 176.2M852.4 185.8L854.6 178.1M890.7 197.3L874.2 182.3M874.2 182.3L876.2 174.5M876.3 184.1L878.2 176.4M878.3 186.0L880.3 178.3M880.4 187.9L881.4 184.0M916.9 197.1L900.3 182.2M900.3 182.2L902.2 174.5M902.4 184.1L904.3 176.3M904.5 186.0L906.4 178.2M906.6 187.8L908.5 180.1M943.2 197.0L926.6 182.0M926.6 182.0L928.6 174.3M928.7 183.9L930.6 176.1M930.8 185.8L932.7 178.0M932.9 187.6L933.8 183.8M969.4 196.8L953.0 181.8M953.0 181.8L954.9 174.0M955.0 183.7L957.0 175.9M957.1 185.6L959.1 177.8M959.2 187.4L960.2 183.6M995.7 196.6L978.8 182.1M978.8 182.1L980.6 174.3M981.0 183.9L982.7 176.1M983.1 185.7L984.8 177.9M985.2 187.6L987.0 179.8M987.3 189.4L988.2 185.5M35.3 225.9L24.6 206.4M24.6 206.4L29.0 199.7M26.0 208.8L30.3 202.1M61.7 225.7L50.3 206.6M50.3 206.6L54.4 199.7M51.7 209.0L55.8 202.1M88.0 225.5L74.7 207.7M74.7 207.7L78.1 200.4M76.3 209.9L79.7 202.7M114.3 225.3L100.6 207.8M100.6 207.8L103.9 200.5M102.3 210.0L105.6 202.7M140.6 225.2L126.9 207.7M126.9 207.7L130.1 200.3M128.6 209.9L131.8 202.5M166.9 225.1L152.6 208.0M152.6 208.0L155.6 200.6M154.4 210.1L157.4 202.7M193.2 224.9L178.2 208.5M178.2 208.5L180.8 200.9M180.0 210.5L182.7 203.0M219.5 224.8L204.5 208.3M204.5 208.3L207.1 200.8M206.3 210.4L209.0 202.9M245.8 224.6L230.9 208.0M230.9 208.0L233.7 200.5M232.8 210.1L235.6 202.6M272.2 224.4L256.7 208.4M256.7 208.4L259.1 200.8M258.6 210.4L261.1 202.8M298.5 224.2L282.6 208.6M282.6 208.6L284.8 201.0M284.6 210.6L286.8 202.9M324.8 224.0L308.9 208.5M308.9 208.5L311.1 200.8M310.9 210.4L313.1 202.7M351.1 223.9L335.4 208.1M335.4 208.1L337.8 200.4M337.4 210.1L339.7 202.4M377.4 223.8L361.7 208.0M361.7 208.0L364.1 200.3M363.7 210.0L366.0 202.3M403.7 223.7L387.6 208.3M387.6 208.3L389.8 200.6M389.7 210.2L391.8 202.5M430.0 223.6L413.9 208.2M413.9 208.2L416.1 200.5M415.9 210.2L418.1 202.5M456.3 223.5L440.3 208.0M440.3 208.0L442.5 200.3M442.3 210.0L444.6 202.3M482.7 223.4L467.1 207.4M467.1 207.4L469.6 199.8M469.1 209.4L471.5 201.8M509.0 223.2L493.8 206.9M493.8 206.9L496.4 199.4M495.7 209.0L497.0 205.2M535.4 223.1L520.1 206.8M520.1 206.8L522.7 199.2M522.1 208.8L523.4 205.0M561.7 222.9L546.5 206.6M546.5 206.6L549.1 199.0M548.4 208.6L549.7 204.9M588.0 222.7L572.8 206.4M572.8 206.4L575.4 198.8M574.7 208.5L576.0 204.7M614.3 222.5L598.3 207.0M598.3 207.0L600.5 199.3M600.3 208.9L602.5 201.2M640.7 222.2L624.7 206.6M624.7 206.6L626.9 198.9M626.7 208.6L628.9 200.9M667.0 221.8L651.0 206.3M651.0 206.3L653.2 198.6M653.0 208.3L655.2 200.6M693.3 221.6L677.3 206.1M677.3 206.1L679.5 198.4M679.3 208.0L681.5 200.4M719.7 221.4L703.6 205.9M703.6 205.9L705.8 198.2M705.7 207.8L707.9 200.2M746.0 221.2L730.0 205.7M730.0 205.7L732.2 198.0M732.0 207.7L734.2 200.0M772.3 221.1L756.3 205.6M756.3 205.6L758.5 197.9M758.3 207.5L760.5 199.8M798.7 220.9L782.6 205.4M782.6 205.4L784.8 197.7M784.6 207.4L786.8 199.7M825.0 220.7L809.0 205.3M809.0 205.3L811.2 197.6M811.0 207.2L813.2 199.5M813.0 209.1L814.1 205.3M851.4 220.5L835.3 205.1M835.3 205.1L837.5 197.4M837.3 207.0L839.5 199.3M839.3 208.9L841.5 201.3M877.6 220.4L861.6 204.9M861.6 204.9L863.8 197.2M863.6 206.8L865.8 199.1M865.6 208.8L867.8 201.1M903.9 220.2L887.7 204.9M887.7 204.9L889.8 197.2M889.7 206.8L891.8 199.1M891.7 208.7L893.9 201.0M930.1 220.0L913.9 204.8M913.9 204.8L916.0 197.0M915.9 206.7L918.0 199.0M918.0 208.6L920.1 200.9M956.5 219.9L940.4 204.4M940.4 204.4L942.5 196.7M942.4 206.4L944.6 198.7M944.4 208.3L946.6 200.6M982.8 219.7L966.5 204.4M966.5 204.4L968.6 196.7M968.6 206.3L970.7 198.6M970.6 208.2L972.7 200.5M1009.2 219.5L992.6 204.6M992.6 204.6L994.6 196.8M994.7 206.4L996.6 198.7M996.8 208.3L998.7 200.6M998.9 210.2L1000.8 202.4M50.8 248.3L39.6 229.0M39.6 229.0L43.8 222.2M41.0 231.4L45.3 224.6M77.0 248.2L64.4 229.8M64.4 229.8L68.1 222.7M66.0 232.1L69.7 225.0M103.3 248.0L89.5 230.4M89.5 230.4L92.8 223.1M91.3 232.7L92.9 229.0M129.5 247.9L115.7 230.3M115.7 230.3L119.0 223.0M117.4 232.5L119.1 228.9M155.6 247.8L141.6 230.5M141.6 230.5L144.7 223.1M143.4 232.7L144.9 229.0M181.8 247.8L166.9 231.2M166.9 231.2L169.6 223.7M168.7 233.3L171.5 225.8M207.9 247.7L192.7 231.4M192.7 231.4L195.4 223.8M194.7 233.4L197.3 225.9M234.2 247.6L219.3 231.0M219.3 231.0L222.0 223.5M221.1 233.0L223.9 225.5M260.4 247.4L245.3 231.0M245.3 231.0L248.0 223.4M247.2 233.0L249.9 225.5M286.7 247.2L270.8 231.6M270.8 231.6L273.1 223.9M272.8 233.5L275.1 225.9M312.9 247.0L296.9 231.5M296.9 231.5L299.1 223.9M298.9 233.5L301.1 225.8M339.2 246.9L323.3 231.3M323.3 231.3L325.5 223.6M325.3 233.2L327.5 225.6M365.4 246.8L349.8 230.9M349.8 230.9L352.2 223.3M351.7 232.9L354.1 225.3M391.5 246.8L375.8 231.0M375.8 231.0L378.1 223.3M377.7 233.0L380.1 225.3M417.7 246.8L401.6 231.4M401.6 231.4L403.8 223.7M403.6 233.3L405.8 225.6M443.9 246.8L427.6 231.6M427.6 231.6L429.7 223.9M429.6 233.5L431.7 225.8M470.1 246.8L454.0 231.4M454.0 231.4L456.1 223.7M456.0 233.3L458.2 225.6M496.4 246.7L480.9 230.6M480.9 230.6L483.4 223.0M482.9 232.6L484.1 228.8M522.6 246.6L506.8 230.9M506.8 230.9L509.1 223.2M508.8 232.9L511.0 225.2M548.9 246.4L533.0 230.7M533.0 230.7L535.4 223.1M535.0 232.7L537.3 225.0M575.1 246.3L559.5 230.3M559.5 230.3L561.9 222.7M561.5 232.3L562.7 228.5M601.3 246.2L585.0 230.9M585.0 230.9L587.1 223.2M587.0 232.8L589.1 225.1M627.5 246.0L611.4 230.5M611.4 230.5L613.6 222.8M613.4 232.4L615.6 224.8M653.7 245.7L637.7 230.2M637.7 230.2L640.0 222.5M639.7 232.1L642.0 224.5M679.9 245.5L663.9 230.0M663.9 230.0L666.1 222.3M665.9 231.9L668.1 224.3M706.2 245.3L690.1 229.8M690.1 229.8L692.3 222.1M692.1 231.7L694.4 224.1M732.4 245.1L716.4 229.6M716.4 229.6L718.6 221.9M718.4 231.6L720.6 223.9M758.6 245.0L742.6 229.5M742.6 229.5L744.8 221.8M744.6 231.4L746.8 223.7M784.8 244.9L768.7 229.4M768.7 229.4L770.9 221.7M770.7 231.3L773.0 223.6M811.0 244.7L795.0 229.2M795.0 229.2L797.2 221.5M797.0 231.2L799.2 223.5M837.3 244.5L821.3 229.0M821.3 229.0L823.5 221.3M823.3 231.0L825.5 223.3M825.3 232.9L826.4 229.1M863.7 244.3L847.7 228.9M847.7 228.9L849.9 221.2M849.7 230.8L851.9 223.1M851.7 232.7L853.9 225.1M890.1 244.2L874.0 228.7M874.0 228.7L876.2 221.0M876.0 230.7L878.2 223.0M878.0 232.6L879.1 228.8M916.2 244.1L900.2 228.6M900.2 228.6L902.4 220.9M902.2 230.5L904.4 222.9M904.2 232.5L905.3 228.6M942.4 244.0L926.3 228.5M926.3 228.5L928.5 220.8M928.4 230.4L930.6 222.8M930.4 232.4L932.6 224.7M968.6 243.8L952.6 228.4M952.6 228.4L954.8 220.7M954.6 230.3L956.8 222.6M956.6 232.2L958.8 224.6M994.9 243.7L978.8 228.3M978.8 228.3L981.0 220.6M980.8 230.2L983.0 222.5M982.9 232.1L985.0 224.4M35.6 272.1L23.9 253.1M23.9 253.1L28.0 246.2M25.4 255.5L29.5 248.6M62.0 271.9L49.6 253.4M49.6 253.4L53.4 246.3M51.1 255.7L54.9 248.6M88.3 271.7L75.0 253.8M75.0 253.8L78.4 246.6M76.6 256.1L78.3 252.5M114.5 271.6L100.8 254.0M100.8 254.0L104.1 246.7M102.5 256.2L104.2 252.6M140.7 271.5L127.0 253.9M127.0 253.9L130.2 246.6M128.7 256.1L130.3 252.5M166.9 271.4L152.6 254.3M152.6 254.3L155.6 246.9M154.4 256.5L157.4 249.1M193.1 271.3L178.2 254.7M178.2 254.7L181.0 247.2M180.1 256.8L182.9 249.3M219.4 271.2L204.5 254.6M204.5 254.6L207.3 247.1M206.4 256.7L209.1 249.2M245.7 271.0L230.8 254.4M230.8 254.4L233.6 246.9M232.7 256.5L235.5 249.0M272.0 270.8L256.5 254.9M256.5 254.9L258.9 247.2M258.4 256.9L260.9 249.2M298.4 270.6L282.4 255.1M282.4 255.1L284.7 247.4M284.4 257.0L286.7 249.3M324.7 270.5L308.7 254.9M308.7 254.9L310.9 247.2M310.7 256.9L312.9 249.2M350.9 270.4L335.1 254.7M335.1 254.7L337.3 247.0M337.0 256.7L339.3 249.0M377.1 270.3L361.5 254.5M361.5 254.5L363.8 246.8M363.4 256.4L365.8 248.8M403.3 270.3L387.4 254.7M387.4 254.7L389.7 247.0M389.4 256.7L391.7 249.0M429.5 270.3L413.4 255.0M413.4 255.0L415.5 247.3M415.4 256.9L417.5 249.2M455.8 270.3L439.6 255.0M439.6 255.0L441.7 247.3M441.6 257.0L443.8 249.2M482.2 270.3L466.3 254.6M466.3 254.6L468.6 247.0M468.3 256.6L470.6 248.9M508.5 270.2L492.8 254.4M492.8 254.4L495.1 246.7M494.8 256.4L497.1 248.7M534.8 270.0L518.9 254.5M518.9 254.5L521.1 246.8M520.9 256.4L523.2 248.7M561.1 269.9L545.4 254.1M545.4 254.1L547.7 246.5M547.3 256.1L549.7 248.5M587.4 269.7L571.3 254.3M571.3 254.3L573.4 246.6M573.3 256.2L575.5 248.5M613.7 269.5L597.5 254.2M597.5 254.2L599.6 246.4M599.5 256.1L601.6 248.4M639.9 269.3L624.0 253.7M624.0 253.7L626.2 246.1M626.0 255.7L628.2 248.0M666.3 269.1L650.3 253.6M650.3 253.6L652.5 245.9M652.3 255.5L654.6 247.8M692.6 269.0L676.6 253.5M676.6 253.5L678.8 245.8M678.6 255.4L680.8 247.7M718.9 268.8L702.9 253.3M702.9 253.3L705.1 245.6M704.9 255.3L707.1 247.6M745.2 268.6L729.3 253.0M729.3 253.0L731.5 245.3M731.3 255.0L733.5 247.3M771.5 268.4L755.5 252.8M755.5 252.8L757.7 245.1M757.5 254.8L759.7 247.1M797.8 268.0L781.8 252.5M781.8 252.5L784.0 244.8M783.8 254.5L786.0 246.8M824.3 267.6L808.2 252.1M808.2 252.1L810.5 244.4M810.3 254.1L812.5 246.4M850.9 267.3L834.8 251.8M834.8 251.8L837.0 244.1M836.8 253.7L839.0 246.1M877.4 267.1L861.4 251.5M861.4 251.5L863.6 243.9M863.4 253.5L865.6 245.8M865.4 255.4L866.5 251.6M903.7 267.0L887.7 251.5M887.7 251.5L889.9 243.8M889.7 253.4L891.9 245.7M891.7 255.4L894.0 247.7M930.0 267.0L913.9 251.5M913.9 251.5L916.1 243.8M915.9 253.4L918.1 245.7M918.0 255.4L920.2 247.7M956.2 266.8L940.2 251.3M940.2 251.3L942.4 243.7M942.2 253.3L944.4 245.6M944.2 255.2L946.4 247.5M982.5 266.6L966.5 251.1M966.5 251.1L968.7 243.4M968.5 253.1L970.7 245.4M970.5 255.0L972.7 247.3M1008.9 266.3L992.9 250.8M992.9 250.8L995.1 243.1M994.9 252.8L997.1 245.1M996.9 254.7L999.1 247.0M50.9 294.9L39.0 276.0M39.0 276.0L43.0 269.0M40.5 278.3L44.5 271.4M77.0 294.7L64.7 276.2M64.7 276.2L68.5 269.1M66.3 278.5L70.1 271.5M103.2 294.6L89.6 277.0M89.6 277.0L92.9 269.7M91.3 279.2L94.6 271.9M129.3 294.6L115.6 277.0M115.6 277.0L118.9 269.7M117.4 279.2L120.6 271.9M155.4 294.5L141.4 277.2M141.4 277.2L144.5 269.8M143.1 279.4L146.3 272.0M181.5 294.4L167.1 277.5M167.1 277.5L170.0 270.0M168.9 279.6L171.8 272.2M207.7 294.4L192.8 277.8M192.8 277.8L195.5 270.3M194.6 279.9L197.4 272.3M233.8 294.3L219.2 277.4M219.2 277.4L222.1 270.0M221.1 279.5L223.9 272.1M260.0 294.2L244.4 278.2M244.4 278.2L246.8 270.6M246.4 280.2L248.8 272.6M286.2 294.1L270.4 278.3M270.4 278.3L272.8 270.7M272.4 280.3L274.8 272.6M312.4 294.0L296.8 278.1M296.8 278.1L299.2 270.5M298.7 280.1L301.1 272.5M338.6 293.9L322.5 278.4M322.5 278.4L324.8 270.7M324.5 280.4L326.8 272.7M364.7 293.9L348.7 278.4M348.7 278.4L350.9 270.7M350.7 280.3L352.9 272.6M390.9 293.9L375.2 278.1M375.2 278.1L377.5 270.4M377.1 280.1L379.5 272.4M417.0 293.9L400.7 278.7M400.7 278.7L402.8 270.9M402.8 280.6L404.9 272.9M443.2 293.9L426.9 278.7M426.9 278.7L429.0 270.9M429.0 280.6L431.1 272.9M469.4 293.9L453.5 278.2M453.5 278.2L455.8 270.6M455.5 280.2L457.8 272.5M495.7 293.8L479.8 278.1M479.8 278.1L482.1 270.4M481.8 280.1L484.1 272.4M521.9 293.7L506.1 278.0M506.1 278.0L508.4 270.3M508.1 280.0L510.4 272.3M548.1 293.6L532.3 277.9M532.3 277.9L534.5 270.3M534.3 279.9L536.5 272.2M574.3 293.5L558.4 277.9M558.4 277.9L560.7 270.2M560.4 279.8L562.7 272.2M600.6 293.4L584.6 277.8M584.6 277.8L586.8 270.2M586.6 279.8L588.8 272.1M626.8 293.2L610.8 277.7M610.8 277.7L613.1 270.0M612.8 279.6L615.1 271.9M653.1 293.1L637.2 277.4M637.2 277.4L639.5 269.8M639.2 279.4L641.5 271.7M679.4 293.0L663.5 277.4M663.5 277.4L665.8 269.7M665.5 279.3L667.8 271.7M705.7 293.0L689.8 277.3M689.8 277.3L692.1 269.6M691.8 279.3L694.1 271.6M732.0 292.9L716.3 277.1M716.3 277.1L718.6 269.4M718.2 279.1L720.6 271.4M758.3 292.8L742.7 276.9M742.7 276.9L745.1 269.2M744.7 278.9L747.1 271.2M784.7 292.5L769.0 276.6M769.0 276.6L771.4 269.0M771.0 278.6L773.4 271.0M811.2 292.0L795.4 276.2M795.4 276.2L797.7 268.6M797.3 278.2L799.7 270.5M837.6 291.3L821.6 275.8M821.6 275.8L823.9 268.1M823.6 277.7L825.9 270.1M864.1 290.8L848.1 275.3M848.1 275.3L850.3 267.6M850.1 277.2L852.3 269.5M890.4 290.5L874.7 274.7M874.7 274.7L877.0 267.1M876.6 276.7L879.0 269.1M916.7 290.3L900.8 274.7M900.8 274.7L903.1 267.0M902.8 276.6L905.1 269.0M904.8 278.6L905.9 274.8M943.0 290.1L927.0 274.6M927.0 274.6L929.3 266.9M929.0 276.5L931.3 268.8M931.0 278.5L932.1 274.6M969.1 290.0L953.3 274.3M953.3 274.3L955.6 266.7M955.3 276.3L957.6 268.6M957.3 278.3L958.4 274.4M995.2 290.0L979.4 274.3M979.4 274.3L981.6 266.7M981.3 276.3L983.6 268.6M983.3 278.3L984.5 274.4M35.8 318.3L24.0 299.4M24.0 299.4L28.0 292.5M62.1 318.1L50.3 299.2M50.3 299.2L54.3 292.3M88.4 318.0L75.9 299.5M75.9 299.5L79.7 292.4M77.5 301.8L79.4 298.3M114.6 317.9L101.5 299.8M101.5 299.8L105.0 292.7M103.1 302.1L104.9 298.5M140.7 317.8L127.5 299.8M127.5 299.8L131.0 292.6M129.2 302.1L130.9 298.5M166.7 317.8L152.9 300.3M152.9 300.3L156.1 293.0M154.6 302.5L156.2 298.9M192.8 317.8L178.1 301.0M178.1 301.0L181.0 293.5M180.0 303.1L182.9 295.6M218.9 317.7L204.4 300.8M204.4 300.8L207.3 293.3M206.2 302.9L209.1 295.5M245.1 317.6L230.7 300.6M230.7 300.6L233.7 293.1M232.5 302.7L235.5 295.3M271.5 317.4L256.0 301.3M256.0 301.3L258.5 293.7M257.9 303.3L260.4 295.7M297.8 317.2L282.5 301.0M282.5 301.0L285.0 293.4M284.4 303.0L287.0 295.5M324.1 317.0L308.7 300.9M308.7 300.9L311.2 293.3M310.6 303.0L313.2 295.4M350.3 317.0L334.4 301.3M334.4 301.3L336.7 293.7M336.4 303.3L338.7 295.6M376.4 317.0L360.9 301.0M360.9 301.0L363.4 293.4M362.9 303.0L365.4 295.4M402.5 317.1L386.9 301.2M386.9 301.2L389.4 293.5M388.9 303.2L391.3 295.5M428.6 317.2L412.5 301.8M412.5 301.8L414.6 294.1M414.5 303.8L416.7 296.1M454.9 317.2L439.1 301.5M439.1 301.5L441.4 293.8M441.1 303.5L443.4 295.8M481.3 317.2L465.0 302.0M465.0 302.0L467.0 294.2M467.0 303.9L469.1 296.2M507.7 317.1L491.1 302.2M491.1 302.2L493.0 294.4M493.1 304.1L495.1 296.3M534.0 317.0L517.8 301.7M517.8 301.7L519.8 294.0M519.8 303.6L521.9 295.9M560.3 316.8L543.9 301.8M543.9 301.8L545.9 294.0M545.9 303.7L547.9 295.9M586.5 316.7L570.3 301.4M570.3 301.4L572.4 293.7M572.3 303.3L574.5 295.6M612.7 316.5L596.5 301.3M596.5 301.3L598.6 293.5M598.5 303.2L600.6 295.4M600.6 305.1L601.6 301.2M639.0 316.3L622.9 300.9M622.9 300.9L625.1 293.2M624.9 302.8L627.1 295.1M665.3 316.1L649.4 300.5M649.4 300.5L651.6 292.9M651.4 302.5L653.6 294.8M691.7 316.0L676.1 300.0M676.1 300.0L678.5 292.4M678.1 302.0L680.5 294.4M718.1 315.8L702.6 299.8M702.6 299.8L705.1 292.2M704.5 301.8L707.0 294.2M744.4 315.7L729.0 299.6M729.0 299.6L731.5 292.0M730.9 301.6L733.4 294.0M770.8 315.4L755.6 299.0M755.6 299.0L758.3 291.5M757.5 301.1L760.2 293.5M797.2 314.9L782.2 298.4M782.2 298.4L784.9 290.9M784.1 300.5L786.8 293.0M823.9 314.3L808.6 298.0M808.6 298.0L811.2 290.4M810.6 300.1L813.1 292.5M850.7 313.5L835.0 297.8M835.0 297.8L837.3 290.1M837.0 299.8L839.3 292.1M877.5 312.9L861.7 297.2M861.7 297.2L864.0 289.5M863.7 299.2L866.0 291.5M904.1 312.5L888.3 296.7M888.3 296.7L890.7 289.1M890.3 298.7L892.6 291.0M930.6 312.1L914.7 296.4M914.7 296.4L917.0 288.8M916.7 298.4L919.0 290.7M918.7 300.4L919.9 296.5M956.9 311.9L941.1 296.2M941.1 296.2L943.4 288.5M943.1 298.2L945.4 290.5M945.0 300.2L946.2 296.3M983.0 311.9L967.2 296.2M967.2 296.2L969.5 288.5M969.2 298.2L971.5 290.5M971.2 300.1L972.3 296.3M1009.0 312.0L993.2 296.3M993.2 296.3L995.4 288.6M995.1 298.3L997.4 290.6M997.1 300.2L998.3 296.4M51.7 340.8L39.9 321.9M41.4 324.3L43.4 320.8M78.0 340.7L66.5 321.5M66.5 321.5L70.6 314.7M104.2 340.6L91.8 322.0M91.8 322.0L95.5 315.0M130.2 340.5L117.7 322.1M119.3 324.4L121.2 320.8M156.1 340.6L143.7 322.0M143.7 322.0L147.5 315.0M181.8 340.7L168.1 323.1M168.1 323.1L171.4 315.8M169.8 325.3L171.5 321.7M207.6 340.8L193.8 323.2M193.8 323.2L197.0 315.9M195.5 325.5L197.1 321.8M233.6 340.7L220.1 322.9M220.1 322.9L223.5 315.7M221.8 325.2L223.5 321.5M260.0 340.5L245.4 323.6M245.4 323.6L248.3 316.1M247.2 325.7L250.1 318.2M286.5 340.2L271.6 323.6M271.6 323.6L274.4 316.1M273.5 325.7L276.3 318.2M313.0 340.0L298.6 323.0M298.6 323.0L301.5 315.5M300.4 325.1L303.4 317.7M339.2 339.9L323.7 323.8M323.7 323.8L326.2 316.2M325.7 325.8L328.2 318.2M365.0 339.9L349.7 323.8M349.7 323.8L352.2 316.2M351.6 325.8L354.1 318.2M390.7 340.2L376.4 323.0M376.4 323.0L379.5 315.6M378.2 325.2L381.2 317.8M416.5 340.5L401.1 324.3M401.1 324.3L403.7 316.7M403.1 326.4L405.6 318.8M442.5 340.8L427.2 324.6M427.2 324.6L429.7 317.0M429.1 326.7L431.6 319.1M468.9 340.9L453.3 324.9M453.3 324.9L455.8 317.3M455.3 327.0L457.7 319.3M495.4 340.9L478.5 326.3M478.5 326.3L480.3 318.5M480.7 328.1L482.5 320.3M521.8 340.9L505.2 326.0M505.2 326.0L507.1 318.2M507.3 327.9L509.2 320.1M548.1 340.8L531.6 325.9M531.6 325.9L533.5 318.1M533.7 327.7L535.6 320.0M574.2 340.7L557.7 325.7M557.7 325.7L559.7 318.0M559.8 327.6L561.7 319.9M600.2 340.6L583.9 325.3M583.9 325.3L586.0 317.6M586.0 327.2L588.0 319.5M588.0 329.2L589.0 325.3M626.1 340.3L609.8 325.1M609.8 325.1L611.9 317.4M611.9 327.0L614.0 319.3M613.9 328.9L615.0 325.1M652.2 340.1L636.2 324.6M636.2 324.6L638.4 316.9M638.2 326.6L640.4 318.9M678.5 339.9L662.6 324.2M662.6 324.2L665.0 316.6M664.6 326.2L666.9 318.5M704.8 339.8L689.3 323.8M689.3 323.8L691.8 316.2M691.3 325.8L693.7 318.2M731.0 339.8L715.5 323.7M715.5 323.7L718.0 316.1M717.5 325.7L720.0 318.1M757.1 339.7L741.9 323.4M741.9 323.4L744.5 315.8M743.8 325.4L746.4 317.8M783.3 339.4L768.3 322.8M768.3 322.8L771.1 315.3M770.2 324.9L772.9 317.4M809.5 338.7L794.6 322.1M794.6 322.1L797.3 314.6M796.4 324.2L799.2 316.7M836.2 337.8L821.1 321.4M821.1 321.4L823.8 313.8M823.0 323.4L825.7 315.9M863.5 337.0L848.0 320.9M848.0 320.9L850.5 313.3M849.9 322.9L852.4 315.3M890.4 336.3L874.7 320.5M874.7 320.5L877.1 312.9M876.7 322.5L879.0 314.9M916.8 335.9L901.0 320.2M901.0 320.2L903.4 312.5M903.0 322.2L905.4 314.5M943.0 335.7L927.2 320.0M927.2 320.0L929.5 312.3M929.2 321.9L931.5 314.3M969.1 335.7L953.3 319.9M953.3 319.9L955.6 312.2M955.3 321.9L957.6 314.2M995.3 335.7L979.4 320.0M979.4 320.0L981.7 312.3M981.4 322.0L983.7 314.3M983.4 323.9L984.5 320.1M35.7 364.7L24.4 345.5M25.8 348.0L27.9 344.5M62.4 364.6L51.0 345.4M52.5 347.8L54.5 344.4M88.9 364.4L78.8 344.6M80.0 347.1L82.3 343.8M115.0 364.4L103.3 345.4M104.7 347.8L106.7 344.3M140.8 364.3L129.5 345.1M130.9 347.5L133.0 344.1M166.4 364.4L155.3 345.0M155.3 345.0L159.5 338.3M192.0 364.4L179.5 345.9M179.5 345.9L183.2 338.9M217.8 364.4L205.3 345.9M205.3 345.9L209.0 338.8M243.8 364.3L231.4 345.8M231.4 345.8L235.2 338.7M233.0 348.1L234.9 344.6M270.1 364.1L256.9 346.1M256.9 346.1L260.3 338.9M258.5 348.4L260.3 344.8M296.3 364.0L283.2 346.0M283.2 346.0L286.7 338.8M284.8 348.2L286.6 344.6M322.5 363.8L309.4 345.8M309.4 345.8L312.8 338.6M311.0 348.1L312.8 344.5M348.7 363.8L335.1 346.1M335.1 346.1L338.4 338.8M336.8 348.3L338.5 344.7M374.8 363.8L361.8 345.7M361.8 345.7L365.4 338.6M363.5 348.0L365.2 344.4M400.9 364.0L388.6 345.4M388.6 345.4L392.4 338.4M390.1 347.8L392.0 344.2M427.2 364.2L412.8 347.2M412.8 347.2L415.7 339.7M414.6 349.3L417.5 341.9M453.6 364.3L440.6 346.2M440.6 346.2L444.2 339.0M442.3 348.5L444.0 344.9M480.1 364.4L466.0 347.1M466.0 347.1L469.1 339.7M467.8 349.3L469.3 345.6M506.6 364.3L490.7 348.7M490.7 348.7L493.0 341.0M492.7 350.7L495.0 343.0M532.9 364.3L517.5 348.1M517.5 348.1L520.0 340.5M519.4 350.2L521.9 342.6M559.1 364.2L542.8 348.9M542.8 348.9L544.9 341.2M544.9 350.8L547.0 343.1M585.3 364.0L569.3 348.4M569.3 348.4L571.5 340.8M571.3 350.4L573.5 342.7M611.4 363.8L595.3 348.3M595.3 348.3L597.5 340.6M597.4 350.3L599.5 342.6M599.4 352.2L600.5 348.4M637.6 363.5L621.7 347.9M621.7 347.9L623.9 340.2M623.7 349.9L625.9 342.2M663.9 363.2L648.2 347.5M648.2 347.5L650.5 339.8M650.1 349.5L652.5 341.8M690.4 363.0L675.4 346.5M675.4 346.5L678.1 339.0M677.3 348.6L680.0 341.1M716.9 362.8L701.6 346.6M701.6 346.6L704.1 339.1M703.5 348.7L706.1 341.1M743.3 362.7L728.1 346.4M728.1 346.4L730.7 338.8M730.0 348.4L732.6 340.8M769.6 362.4L754.7 345.8M754.7 345.8L757.5 338.2M756.6 347.8L759.3 340.3M796.0 361.8L781.1 345.2M781.1 345.2L783.8 337.7M782.9 347.3L785.7 339.8M822.6 361.0L807.8 344.3M807.8 344.3L810.5 336.8M809.6 346.4L812.4 338.9M849.7 360.0L835.0 343.2M835.0 343.2L837.9 335.7M836.9 345.3L839.7 337.8M877.1 359.1L862.0 342.6M862.0 342.6L864.7 335.1M863.9 344.7L866.6 337.2M904.3 358.4L888.6 342.6M888.6 342.6L891.0 334.9M890.6 344.6L893.0 336.9M931.2 358.1L915.4 342.3M915.4 342.3L917.7 334.7M917.4 344.3L919.7 336.7M957.6 357.9L941.8 342.2M941.8 342.2L944.1 334.5M943.8 344.1L946.1 336.5M983.5 357.9L967.6 342.2M967.6 342.2L969.9 334.6M969.6 344.2L971.9 336.5M1009.1 358.0L993.2 342.3M993.2 342.3L995.5 334.7M995.2 344.3L997.5 336.6M997.2 346.3L998.3 342.4M49.4 387.7L38.5 368.2M39.9 370.6L42.1 367.3M75.5 387.4L68.4 366.3M69.3 369.0L72.1 366.1M101.6 387.3L94.3 366.3M95.3 368.9L98.0 366.0M127.7 387.4L119.2 366.8M120.2 369.4L122.8 366.3M153.6 387.6L146.5 366.4M147.4 369.1L150.1 366.2M179.5 387.7L169.3 367.9M169.3 367.9L173.8 361.3M205.4 387.8L194.2 368.5M194.2 368.5L198.4 361.7M231.3 387.8L221.1 368.0M221.1 368.0L225.7 361.4M257.3 387.7L245.5 368.8M245.5 368.8L249.5 361.8M283.2 387.6L271.0 368.9M271.0 368.9L274.9 361.9M309.2 387.4L299.4 367.4M299.4 367.4L304.1 360.9M335.3 387.4L323.0 368.8M323.0 368.8L326.8 361.8M361.5 387.4L349.3 368.7M349.3 368.7L353.2 361.7M387.7 387.6L379.8 366.7M379.8 366.7L385.1 360.7M414.1 387.9L403.9 368.0M403.9 368.0L408.5 361.5M440.6 388.2L429.8 368.7M429.8 368.7L434.1 362.0M467.1 388.4L457.9 368.1M457.9 368.1L462.8 361.8M493.4 388.5L481.2 369.9M481.2 369.9L485.0 362.9M482.7 372.2L484.7 368.7M519.7 388.5L505.4 371.4M505.4 371.4L508.4 364.0M507.2 373.6L510.2 366.2M545.8 388.5L531.7 371.2M531.7 371.2L534.8 363.9M533.5 373.4L536.5 366.0M571.9 388.4L557.7 371.2M557.7 371.2L560.7 363.8M559.5 373.4L562.5 366.0M597.9 388.2L583.7 371.1M583.7 371.1L586.7 363.7M585.5 373.2L588.5 365.8M624.1 387.9L609.6 371.0M609.6 371.0L612.5 363.5M611.4 373.1L614.3 365.7M650.4 387.6L635.9 370.7M635.9 370.7L638.8 363.2M637.7 372.8L640.6 365.4M677.0 387.3L662.6 370.3M662.6 370.3L665.6 362.8M664.4 372.4L667.4 365.0M703.7 387.2L689.3 370.1M689.3 370.1L692.3 362.7M691.1 372.3L694.1 364.8M730.2 387.1L715.8 370.1M715.8 370.1L718.7 362.7M717.6 372.3L720.5 364.8M756.4 387.1L742.0 370.0M742.0 370.0L745.0 362.6M743.8 372.1L746.8 364.7M782.5 386.8L768.0 369.8M768.0 369.8L771.0 362.3M769.8 371.9L772.8 364.5M808.6 386.0L794.2 369.0M794.2 369.0L797.1 361.6M796.0 371.1L798.9 363.7M835.2 384.8L820.9 367.7M820.9 367.7L823.9 360.3M822.7 369.9L825.7 362.5M862.6 383.6L848.3 366.5M848.3 366.5L851.2 359.1M850.1 368.7L853.1 361.3M890.0 382.6L875.0 366.0M875.0 366.0L877.7 358.5M876.9 368.1L879.6 360.6M916.7 381.8L900.8 366.1M900.8 366.1L903.1 358.5M902.8 368.1L905.1 360.4M942.9 381.4L926.9 365.8M926.9 365.8L929.1 358.2M928.9 367.8L931.1 360.1M969.0 381.3L952.9 365.8M952.9 365.8L955.1 358.1M954.9 367.8L957.1 360.1M995.0 381.6L978.9 366.1M978.9 366.1L981.1 358.4M980.9 368.1L983.2 360.4M30.9 411.7L27.6 389.6M28.1 392.4L31.3 390.0M56.8 411.7L49.8 390.5M50.7 393.1L53.5 390.3M82.8 411.6L85.8 389.5M85.4 392.3L89.2 390.9M109.0 411.6L106.8 389.4M107.0 392.2L110.4 389.9M135.3 411.5L130.2 389.8M130.8 392.5L133.8 389.8M161.7 411.4L156.2 389.8M156.9 392.5L159.8 389.8M188.2 411.4L180.6 390.4M180.6 390.4L186.0 384.5M214.5 411.4L206.1 390.7M206.1 390.7L211.2 384.6M240.7 411.3L232.4 390.6M232.4 390.6L237.6 384.5M266.8 411.1L257.4 390.9M257.4 390.9L262.2 384.5M292.9 410.8L283.4 390.6M283.4 390.6L288.2 384.2M318.9 410.6L309.3 390.5M309.3 390.5L314.1 384.0M345.1 410.6L335.4 390.5M335.4 390.5L340.1 384.1M371.4 410.8L366.2 389.1M366.2 389.1L372.2 383.8M397.9 411.1L390.4 390.1M390.4 390.1L395.8 384.2M424.6 411.4L418.3 390.0M418.3 390.0L424.0 384.4M451.3 411.7L445.2 390.2M445.2 390.2L451.0 384.7M477.7 411.8L468.6 391.5M468.6 391.5L473.4 385.2M503.8 412.0L490.5 394.1M490.5 394.1L493.9 386.9M492.1 396.4L495.5 389.1M529.7 412.0L515.9 394.4M515.9 394.4L519.1 387.1M517.6 396.6L520.9 389.3M555.6 411.9L542.5 393.8M542.5 393.8L546.0 386.6M544.1 396.1L547.6 388.9M581.9 411.6L568.7 393.7M568.7 393.7L572.2 386.5M570.4 395.9L572.1 392.3M608.5 411.4L595.3 393.5M595.3 393.5L598.7 386.2M596.9 395.7L598.6 392.1M635.2 411.1L621.6 393.4M621.6 393.4L624.9 386.1M623.3 395.6L625.0 392.0M661.9 410.9L648.1 393.3M648.1 393.3L651.4 386.0M649.9 395.5L653.1 388.2M688.6 410.7L674.3 393.6M674.3 393.6L677.3 386.2M676.1 395.7L679.1 388.3M715.3 410.5L701.0 393.4M701.0 393.4L704.0 386.0M702.8 395.5L705.8 388.1M741.8 410.4L727.9 392.9M727.9 392.9L731.1 385.6M729.6 395.1L732.8 387.7M768.1 410.1L754.3 392.5M754.3 392.5L757.6 385.2M756.1 394.7L759.3 387.4M794.4 409.5L780.5 392.1M780.5 392.1L783.6 384.8M782.2 394.3L785.4 387.0M820.9 408.6L806.8 391.3M806.8 391.3L809.9 383.9M808.6 393.5L811.7 386.1M847.9 407.4L833.6 390.3M833.6 390.3L836.6 382.9M835.4 392.4L838.4 385.0M875.3 406.1L860.8 389.2M860.8 389.2L863.7 381.7M862.6 391.3L865.5 383.9M902.4 405.2L886.6 389.5M886.6 389.5L889.0 381.8M888.6 391.4L891.0 383.8M929.1 404.6L913.0 389.3M913.0 389.3L915.1 381.6M915.0 391.2L917.1 383.5M955.4 404.4L939.3 389.0M939.3 389.0L941.5 381.3M941.4 390.9L943.6 383.2M981.4 404.5L965.3 389.0M965.3 389.0L967.5 381.3M967.3 391.0L969.5 383.3M1007.2 404.7L991.0 389.4M991.0 389.4L993.1 381.7M993.0 391.3L995.2 383.6M44.1 434.9L48.9 413.2M48.3 415.9L52.2 414.8M70.1 435.0L71.4 412.8M71.2 415.6L74.9 413.9M96.1 435.1L105.4 414.8M104.2 417.3L108.2 417.1M122.1 434.9L120.8 412.7M121.0 415.5L124.4 413.4M148.4 434.8L144.5 412.8M145.0 415.6L148.2 413.2M175.0 434.8L170.6 412.9M171.1 415.7L174.2 413.1M201.7 434.9L195.6 413.4M195.6 413.4L201.4 407.9M228.2 435.1L220.3 414.2M220.3 414.2L225.5 408.2M254.3 435.2L248.5 413.7M248.5 413.7L254.3 408.2M280.3 435.3L273.2 414.2M273.2 414.2L278.7 408.4M306.3 435.5L297.8 414.8M297.8 414.8L302.9 408.7M332.3 435.4L324.3 414.6M324.3 414.6L329.6 408.6M358.4 435.3L352.4 413.9M352.4 413.9L358.2 408.3M384.8 435.3L379.2 413.7M379.2 413.7L385.2 408.3M411.5 435.3L404.9 414.0M404.9 414.0L410.6 408.3M438.5 435.4L432.9 413.8M432.9 413.8L438.8 408.4M465.3 435.5L457.7 414.6M457.7 414.6L463.1 408.6M491.9 435.7L480.3 416.6M480.3 416.6L484.5 409.7M481.8 419.0L483.8 415.5M518.2 435.7L505.7 417.2M505.7 417.2L509.5 410.1M507.3 419.5L511.1 412.5M544.4 435.7L532.1 417.1M532.1 417.1L535.9 410.1M533.7 419.4L537.5 412.4M570.5 435.6L557.3 417.6M557.3 417.6L560.8 410.4M558.9 419.9L560.7 416.3M596.4 435.5L583.0 417.7M583.0 417.7L586.4 410.4M584.6 419.9L586.3 416.3M622.4 435.4L608.9 417.7M608.9 417.7L612.2 410.4M610.6 419.9L612.2 416.3M648.8 435.4L635.1 417.8M635.1 417.8L638.3 410.5M636.8 420.0L638.4 416.3M675.3 435.4L662.1 417.5M662.1 417.5L665.6 410.2M663.8 419.7L667.2 412.5M701.9 435.5L688.3 417.8M688.3 417.8L691.6 410.5M690.0 420.1L693.3 412.8M728.4 435.5L714.7 417.9M714.7 417.9L717.9 410.6M716.4 420.1L719.7 412.8M754.6 435.5L740.9 417.8M740.9 417.8L744.2 410.5M742.7 420.1L745.9 412.8M780.7 435.2L767.2 417.4M767.2 417.4L770.5 410.2M768.9 419.7L772.2 412.4M806.7 434.5L793.0 416.9M793.0 416.9L796.2 409.6M794.7 419.1L798.0 411.8M833.0 433.4L819.3 415.8M819.3 415.8L822.5 408.5M821.0 418.0L824.3 410.7M860.0 432.1L845.7 414.9M845.7 414.9L848.7 407.5M847.5 417.1L850.5 409.7M887.2 431.0L870.9 415.7M870.9 415.7L873.0 408.0M873.0 417.7L875.1 409.9M913.8 430.4L896.7 416.1M896.7 416.1L898.4 408.3M898.9 417.9L900.5 410.1M939.9 430.3L922.8 416.0M922.8 416.0L924.4 408.2M924.9 417.8L926.6 410.0M965.9 430.3L949.4 415.3M949.4 415.3L951.4 407.5M951.5 417.2L953.5 409.4M992.0 430.2L975.5 415.3M975.5 415.3L977.4 407.6M977.6 417.2L979.5 409.4M50.5 457.9L69.3 445.9M66.9 447.4L70.4 449.4M76.6 457.8L89.5 439.7M87.9 441.9L91.9 442.5M102.7 457.8L114.7 439.0M113.2 441.3L117.1 441.7M128.9 457.8L133.5 436.0M133.0 438.7L136.8 437.6M155.5 457.9L158.1 435.7M157.8 438.5L161.5 437.0M183.1 458.1L184.5 435.8M184.5 435.8L191.8 432.5M210.7 458.4L209.5 436.1M209.5 436.1L216.4 432.0M237.3 458.7L238.1 436.4M238.1 436.4L245.2 432.9M263.4 459.0L263.1 436.7M263.1 436.7L270.1 432.8M289.4 459.2L286.8 437.0M286.8 437.0L293.4 432.5M315.3 459.2L310.9 437.4M310.9 437.4L317.1 432.3M341.5 459.1L336.6 437.4M336.6 437.4L342.7 432.2M367.9 459.0L363.0 437.2M363.0 437.2L369.0 432.0M394.7 458.8L389.7 437.1M389.7 437.1L395.8 431.8M422.1 458.7L416.8 437.0M416.8 437.0L422.8 431.7M449.5 458.6L443.5 437.1M443.5 437.1L449.3 431.6M476.4 458.6L467.7 438.1M467.7 438.1L472.8 431.9M468.8 440.7L471.4 437.5M502.8 458.6L491.8 439.3M491.8 439.3L496.0 432.5M493.2 441.7L497.4 434.9M529.0 458.6L517.8 439.3M517.8 439.3L522.0 432.5M519.2 441.7L523.4 434.9M555.0 458.5L543.7 439.3M543.7 439.3L547.9 432.5M545.2 441.7L547.2 438.3M581.2 458.5L568.8 439.9M568.8 439.9L572.6 432.9M570.3 442.3L572.2 438.7M607.4 458.4L595.0 439.8M595.0 439.8L598.8 432.8M596.6 442.2L598.5 438.7M633.8 458.4L620.5 440.5M620.5 440.5L623.9 433.3M622.1 442.7L623.9 439.1M660.3 458.5L647.5 440.2M647.5 440.2L651.1 433.1M649.1 442.5L652.8 435.4M687.0 458.6L674.4 440.2M674.4 440.2L678.1 433.1M676.0 442.5L679.7 435.4M713.5 458.7L700.2 440.8M700.2 440.8L703.6 433.6M701.9 443.1L705.3 435.8M739.7 458.7L726.0 441.1M726.0 441.1L729.2 433.8M727.7 443.3L730.9 436.0M765.7 458.5L752.2 440.8M752.2 440.8L755.5 433.5M753.9 443.0L757.2 435.7M791.8 458.1L778.4 440.2M778.4 440.2L781.8 433.0M780.1 442.5L783.5 435.2M818.1 457.4L804.4 439.8M804.4 439.8L807.6 432.5M806.1 442.0L809.3 434.7M844.6 456.5L830.8 439.0M830.8 439.0L834.0 431.7M832.5 441.2L835.7 433.9M871.4 455.5L855.0 440.3M855.0 440.3L857.1 432.6M857.1 442.2L859.2 434.5M898.2 454.7L881.2 440.4M881.2 440.4L882.8 432.5M883.3 442.2L885.0 434.3M924.8 454.2L906.9 441.0M906.9 441.0L908.1 433.0M909.2 442.6L910.3 434.7M951.1 454.0L933.1 440.9M933.1 440.9L934.2 432.9M935.4 442.5L936.5 434.6M977.3 453.9L959.3 440.8M959.3 440.8L960.4 432.8M961.5 442.4L962.6 434.5M1003.3 453.9L985.6 440.4M985.6 440.4L986.9 432.5M987.8 442.1L989.2 434.2M35.2 480.5L54.6 469.6M52.2 470.9L55.6 473.1M61.2 480.5L80.4 469.1M78.0 470.5L81.4 472.6M87.1 480.4L103.5 465.2M101.4 467.1L105.2 468.4M113.1 480.4L128.0 463.8M126.1 465.9L130.0 466.9M139.1 480.4L151.3 461.7M149.8 464.1L153.7 464.4M165.4 480.7L174.8 460.4M173.6 463.0L177.6 462.8M192.5 481.0L198.9 459.7M198.9 459.7L206.8 458.1M222.2 481.5L225.6 459.5M225.6 459.5L233.2 456.8M250.5 482.0L254.6 460.1M254.6 460.1L262.3 457.7M276.9 482.5L280.8 460.6M280.8 460.6L288.4 458.1M302.9 482.9L305.3 460.7M305.3 460.7L312.7 457.7M328.9 483.1L329.5 460.8M329.5 460.8L336.7 457.3M354.9 483.1L354.3 460.8M354.3 460.8L361.2 456.9M381.0 483.0L379.6 460.7M379.6 460.7L386.4 456.6M407.5 482.8L405.8 460.5M405.8 460.5L412.5 456.2M434.9 482.6L432.1 460.5M432.1 460.5L438.6 455.8M462.7 482.5L458.5 460.6M458.5 460.6L464.7 455.5M490.0 482.4L481.3 461.9M481.3 461.9L486.4 455.7M482.4 464.4L485.0 461.3M516.6 482.4L505.7 463.0M505.7 463.0L510.0 456.2M507.1 465.4L511.4 458.7M543.0 482.4L532.8 462.5M532.8 462.5L537.4 456.0M534.1 465.0L536.4 461.7M569.1 482.4L558.4 462.9M558.4 462.9L562.7 456.2M559.7 465.3L561.9 462.0M595.1 482.4L584.0 463.1M584.0 463.1L588.2 456.3M585.4 465.5L587.5 462.1M621.0 482.4L610.2 462.9M610.2 462.9L614.5 456.2M611.5 465.4L613.7 462.0M647.0 482.5L634.6 463.9M634.6 463.9L638.4 456.9M636.2 466.3L640.0 459.2M673.3 482.6L660.9 464.0M660.9 464.0L664.6 457.0M662.4 466.4L666.2 459.3M699.7 482.7L688.3 463.5M688.3 463.5L692.5 456.7M689.8 465.9L693.9 459.1M726.3 482.8L714.2 464.1M714.2 464.1L718.0 457.1M715.7 466.5L719.6 459.5M753.0 482.9L740.6 464.3M740.6 464.3L744.4 457.3M742.1 466.7L745.9 459.6M779.6 482.9L767.1 464.4M767.1 464.4L770.9 457.3M768.7 466.7L772.5 459.6M805.9 482.7L792.7 464.6M792.7 464.6L796.2 457.4M794.4 466.9L797.9 459.7M831.6 482.3L818.1 464.5M818.1 464.5L821.5 457.3M819.8 466.8L823.1 459.5M857.2 481.7L842.2 465.2M842.2 465.2L844.8 457.7M844.1 467.3L846.7 459.8M883.4 480.9L866.4 466.4M866.4 466.4L868.1 458.6M868.5 468.2L870.3 460.4M910.1 480.1L892.8 465.9M892.8 465.9L894.4 458.1M895.0 467.7L896.6 459.8M936.6 479.6L918.5 466.6M918.5 466.6L919.6 458.6M920.8 468.2L921.9 460.3M962.8 479.4L943.5 468.3M943.5 468.3L943.7 460.3M945.9 469.7L946.1 461.7M988.8 479.4L969.6 468.0M969.6 468.0L970.1 460.0M972.0 469.4L972.5 461.4M42.3 503.5L63.0 495.2M60.4 496.3L63.4 498.9M68.3 503.5L88.5 494.0M86.0 495.2L89.2 497.6M94.3 503.5L114.2 493.4M111.7 494.7L115.0 497.0M120.4 503.5L139.3 491.7M139.3 491.7L146.2 495.8M146.5 503.5L163.9 489.6M163.9 489.6L171.2 492.8M172.7 503.7L188.8 488.3M188.8 488.3L196.4 490.8M199.7 504.1L213.7 486.8M213.7 486.8L221.6 488.3M230.1 504.7L241.4 485.5M241.4 485.5L249.4 485.9M258.8 505.3L268.3 485.1M268.3 485.1L276.3 484.7M285.3 505.8L294.7 485.6M294.7 485.6L302.7 485.2M311.3 506.1L319.3 485.3M319.3 485.3L327.2 484.4M337.2 506.3L342.7 484.7M342.7 484.7L350.4 482.8M363.3 506.2L364.8 484.0M364.8 484.0L372.1 480.7M390.0 506.0L388.5 483.7M388.5 483.7L395.4 479.5M418.2 505.7L416.7 483.5M416.7 483.5L423.5 479.3M447.1 505.6L444.0 483.5M444.0 483.5L450.5 478.8M474.4 505.5L470.0 483.6M470.0 483.6L476.2 478.5M500.9 505.4L492.9 484.6M492.9 484.6L498.1 478.6M493.9 487.2L496.5 484.2M527.3 505.3L518.4 484.9M518.4 484.9L523.4 478.6M519.5 487.4L522.0 484.3M553.4 505.2L545.6 484.3M545.6 484.3L550.9 478.3M546.6 487.0L549.3 484.0M579.5 505.3L570.0 485.1M570.0 485.1L574.8 478.7M571.2 487.6L573.6 484.4M605.6 505.3L595.8 485.3M595.8 485.3L600.6 478.8M597.1 487.8L601.8 481.3M631.8 505.4L622.2 485.3M622.2 485.3L626.9 478.8M623.4 487.8L625.8 484.6M658.0 505.4L647.6 485.7M647.6 485.7L652.1 479.1M648.9 488.2L653.4 481.6M684.4 505.5L674.2 485.6M674.2 485.6L678.8 479.0M675.5 488.1L680.0 481.5M710.7 505.5L699.9 486.0M699.9 486.0L704.3 479.3M701.2 488.4L705.6 481.7M736.8 505.6L725.0 486.6M725.0 486.6L729.0 479.7M726.5 489.0L730.5 482.1M762.5 505.6L750.8 486.6M750.8 486.6L754.8 479.7M752.2 488.9L756.3 482.0M787.9 505.5L775.4 487.0M775.4 487.0L779.1 480.0M776.9 489.4L780.7 482.3M814.0 505.2L800.8 487.2M800.8 487.2L804.4 480.0M802.5 489.5L806.0 482.3M840.7 504.8L827.4 486.9M827.4 486.9L830.9 479.7M829.1 489.1L832.6 481.9M867.7 504.2L852.2 488.2M852.2 488.2L854.7 480.6M854.1 490.2L856.6 482.6M894.7 503.5L877.7 489.1M877.7 489.1L879.4 481.3M879.8 490.9L881.5 483.1M921.7 502.8L903.6 489.8M903.6 489.8L904.7 481.9M905.9 491.4L906.9 483.5M948.3 502.4L928.7 491.8M928.7 491.8L928.7 483.8M931.1 493.1L931.2 485.1M974.6 502.2L954.9 491.7M954.9 491.7L955.0 483.7M957.4 493.0L957.4 485.0M1000.7 502.2L981.7 490.5M981.7 490.5L982.2 482.5M984.1 491.9L984.6 483.9M30.5 526.1L52.2 520.8M52.2 520.8L57.5 526.8M56.5 525.9L78.1 520.5M78.1 520.5L83.5 526.4M82.4 525.7L103.7 519.0M103.7 519.0L109.4 524.6M108.3 525.6L129.4 518.4M129.4 518.4L135.3 523.9M134.3 525.8L154.6 516.8M154.6 516.8L161.0 521.7M160.3 526.3L179.3 514.6M179.3 514.6L186.2 518.6M186.6 526.9L203.6 512.5M203.6 512.5L211.1 515.4M214.1 527.6L230.1 512.0M230.1 512.0L237.8 514.5M243.8 528.1L259.1 511.9M259.1 511.9L266.8 514.0M271.7 528.6L287.8 513.2M287.8 513.2L295.4 515.7M298.3 529.0L313.2 512.4M313.2 512.4L320.9 514.4M324.4 529.3L336.4 510.5M336.4 510.5L344.4 511.1M350.4 529.3L359.4 508.9M359.4 508.9L367.4 508.3M376.5 529.2L380.7 507.3M380.7 507.3L388.4 504.9M406.1 529.1L405.2 506.8M405.2 506.8L412.1 502.8M437.1 529.2L436.1 506.9M436.1 506.9L443.0 502.8M463.9 529.4L461.1 507.3M461.1 507.3L467.6 502.7M489.8 529.7L482.3 508.7M482.3 508.7L487.7 502.8M483.2 511.4L485.9 508.4M515.4 530.0L507.2 509.2M507.2 509.2L512.4 503.1M508.2 511.8L510.8 508.8M541.7 530.0L533.9 509.2M533.9 509.2L539.2 503.2M534.9 511.8L537.5 508.8M567.7 530.1L560.8 508.9M560.8 508.9L566.4 503.1M561.7 511.5L564.5 508.6M593.4 530.1L585.0 509.4M585.0 509.4L590.1 503.3M586.0 512.0L588.6 508.9M619.6 530.0L611.4 509.2M611.4 509.2L616.6 503.1M612.5 511.8L615.1 508.8M645.7 529.9L636.6 509.5M636.6 509.5L641.5 503.2M637.7 512.1L640.2 508.9M672.4 529.8L663.1 509.5M663.1 509.5L668.0 503.1M664.3 512.0L666.7 508.9M698.4 529.8L688.6 509.7M688.6 509.7L693.3 503.3M689.8 512.3L692.1 509.0M724.6 529.8L714.1 510.1M714.1 510.1L718.6 503.5M715.4 512.6L717.7 509.3M751.0 529.8L739.6 510.6M739.6 510.6L743.8 503.8M741.0 513.0L745.2 506.2M776.5 529.8L764.9 510.8M764.9 510.8L768.9 503.9M766.3 513.2L770.4 506.3M802.3 529.8L789.3 511.6M789.3 511.6L792.9 504.5M790.9 513.9L794.5 506.8M828.4 529.6L815.3 511.5M815.3 511.5L818.8 504.3M817.0 513.8L820.5 506.6M855.0 529.1L840.6 512.0M840.6 512.0L843.6 504.6M842.4 514.2L845.4 506.7M881.7 528.3L864.7 513.8M864.7 513.8L866.4 506.0M866.8 515.6L868.5 507.8M908.6 527.4L891.2 513.4M891.2 513.4L892.7 505.6M893.4 515.2L894.8 507.3M935.4 526.7L917.2 513.9M917.2 513.9L918.2 506.0M919.5 515.5L920.5 507.6M961.7 526.5L942.8 514.7M942.8 514.7L943.3 506.8M945.2 516.2L945.7 508.2M987.7 526.5L969.0 514.3M969.0 514.3L969.8 506.3M971.4 515.8L972.1 507.9M38.9 549.1L60.2 542.4M60.2 542.4L65.8 548.0M64.5 549.0L85.5 541.4M85.5 541.4L91.4 546.7M90.3 549.0L111.0 540.6M111.0 540.6L117.1 545.7M116.3 549.0L136.7 540.0M136.7 540.0L143.0 545.0M142.6 549.2L162.6 539.4M162.6 539.4L169.1 544.1M169.1 549.6L188.2 538.0M188.2 538.0L195.0 542.1M195.9 550.0L213.4 536.2M213.4 536.2L220.8 539.4M223.5 550.4L241.6 537.4M241.6 537.4L248.8 540.9M251.2 550.7L270.7 539.8M270.7 539.8L277.4 544.1M278.1 550.8L297.1 539.2M297.1 539.2L304.0 543.3M304.2 550.8L322.2 537.6M322.2 537.6L329.4 541.1M330.1 550.8L344.8 534.0M344.8 534.0L352.6 535.8M356.2 550.8L367.9 531.9M367.9 531.9L375.9 532.4M383.2 551.0L394.3 531.7M394.3 531.7L402.3 531.9M416.5 551.3L425.2 530.8M425.2 530.8L433.1 530.1M444.0 551.9L453.3 531.6M453.3 531.6L461.3 531.2M470.0 552.6L474.9 530.9M474.9 530.9L482.6 528.7M496.2 553.4L502.5 532.0M502.5 532.0L510.4 530.4M522.9 554.0L525.9 531.9M525.9 531.9L533.4 529.1M549.0 554.2L548.9 531.9M548.9 531.9L556.0 528.2M575.3 554.1L572.4 532.0M572.4 532.0L578.9 527.4M602.6 553.6L596.7 532.1M596.7 532.1L602.6 526.6M629.0 553.1L624.1 531.4M624.1 531.4L630.2 526.2M656.4 552.8L648.7 531.9M648.7 531.9L654.0 525.9M683.7 552.7L676.5 531.6M676.5 531.6L682.0 525.7M710.3 552.8L700.7 532.7M700.7 532.7L705.4 526.3M701.9 535.2L704.2 532.0M739.0 553.0L729.3 533.0M729.3 533.0L734.0 526.5M730.5 535.5L732.8 532.3M765.6 553.1L755.2 533.4M755.2 533.4L759.7 526.8M756.5 535.9L758.8 532.6M790.8 552.9L777.8 534.9M777.8 534.9L781.3 527.7M779.4 537.1L782.9 529.9M815.9 552.6L802.9 534.5M802.9 534.5L806.4 527.3M804.5 536.8L808.0 529.6M841.8 552.1L827.9 534.7M827.9 534.7L831.0 527.4M829.6 536.9L832.8 529.6M867.9 551.5L852.6 535.3M852.6 535.3L855.1 527.7M854.5 537.3L857.1 529.7M894.2 550.7L876.9 536.6M876.9 536.6L878.5 528.8M879.1 538.4L880.6 530.5M920.6 550.0L902.7 536.8M902.7 536.8L903.8 528.9M904.9 538.4L906.1 530.5M947.0 549.5L928.9 536.5M928.9 536.5L930.0 528.6M931.2 538.2L932.2 530.2M973.3 549.3L956.2 534.9M956.2 534.9L957.9 527.1M958.4 536.7L960.0 528.9M999.3 549.3L982.4 534.8M982.4 534.8L984.1 527.0M984.5 536.6L986.2 528.8M54.9 571.9L75.4 563.2M75.4 563.2L81.6 568.2M80.6 571.8L101.2 563.1M101.2 563.1L107.4 568.2M106.5 571.9L126.9 562.7M126.9 562.7L133.2 567.6M132.5 572.0L152.8 562.7M152.8 562.7L159.1 567.6M158.6 572.3L179.0 563.2M179.0 563.2L185.3 568.1M185.1 572.8L204.9 562.6M204.9 562.6L211.5 567.1M211.9 573.2L231.7 563.0M231.7 563.0L238.3 567.6M238.8 573.4L258.5 562.9M258.5 562.9L265.1 567.4M265.2 573.4L284.8 562.9M284.8 562.9L291.5 567.4M291.0 573.4L310.7 562.8M310.7 562.8L317.3 567.3M308.2 564.1L311.5 566.4M316.7 573.3L335.6 561.6M335.6 561.6L342.5 565.6M342.5 573.4L358.7 558.0M358.7 558.0L366.3 560.5M369.0 573.6L383.4 556.6M383.4 556.6L391.3 558.4M398.5 574.1L413.2 557.3M413.2 557.3L421.0 559.1M429.3 574.8L440.3 555.4M440.3 555.4L448.3 555.6M455.9 575.8L470.0 558.5M470.0 558.5L477.8 560.1M481.8 576.7L489.9 556.0M489.9 556.0L497.9 555.0M507.6 577.6L515.3 556.6M515.3 556.6L523.3 555.6M533.6 578.2L541.8 557.4M541.8 557.4L549.8 556.5M559.6 578.2L572.4 560.0M572.4 560.0L580.4 561.1M586.3 577.9L590.6 556.0M590.6 556.0L598.2 553.7M612.6 577.3L615.1 555.2M615.1 555.2L622.5 552.2M639.0 577.0L638.2 554.7M638.2 554.7L645.1 550.7M669.5 576.8L665.9 554.8M665.9 554.8L672.2 550.0M695.8 576.7L691.0 555.0M691.0 555.0L697.0 549.8M725.2 576.6L714.9 556.8M714.9 556.8L719.4 550.2M716.2 559.3L718.4 556.0M753.4 576.5L743.9 556.3M743.9 556.3L748.7 549.9M745.1 558.8L747.5 555.6M779.1 576.6L767.8 557.4M767.8 557.4L772.0 550.6M769.3 559.8L771.4 556.4M805.3 576.8L792.5 558.5M792.5 558.5L796.1 551.4M794.1 560.8L797.7 553.7M832.1 576.7L818.8 558.8M818.8 558.8L822.3 551.6M820.5 561.0L824.0 553.8M857.8 576.3L842.9 559.7M842.9 559.7L845.7 552.2M844.8 561.8L847.5 554.3M882.9 575.6L868.0 559.0M868.0 559.0L870.7 551.5M869.9 561.1L872.6 553.6M908.4 574.6L892.2 559.2M892.2 559.2L894.3 551.5M894.2 561.2L896.4 553.5M934.5 573.8L917.9 559.0M917.9 559.0L919.8 551.2M920.0 560.8L921.9 553.1M960.7 573.6L944.1 558.7M944.1 558.7L946.0 550.9M946.2 560.6L948.1 552.8M986.6 573.6L970.2 558.5M970.2 558.5L972.2 550.8M972.2 560.4L974.3 552.7M38.8 595.2L59.1 585.9M59.1 585.9L65.4 590.8M64.6 595.1L85.1 586.2M85.1 586.2L91.4 591.2M90.5 595.1L111.0 586.2M111.0 586.2L117.2 591.2M116.5 595.2L136.7 585.8M136.7 585.8L143.1 590.6M142.5 595.4L162.9 586.2M162.9 586.2L169.2 591.1M168.8 595.6L189.0 586.1M189.0 586.1L195.4 590.8M195.4 595.8L215.5 586.0M215.5 586.0L221.9 590.7M222.1 595.9L242.4 586.6M242.4 586.6L248.8 591.5M239.9 587.8L243.0 590.2M248.6 595.8L268.4 585.6M268.4 585.6L275.0 590.1M274.8 595.6L294.5 585.2M294.5 585.2L301.2 589.6M292.1 586.5L295.4 588.7M300.9 595.3L321.1 585.8M321.1 585.8L327.5 590.5M318.5 587.0L321.8 589.3M326.9 595.2L346.6 584.7M346.6 584.7L353.2 589.1M344.1 586.0L347.5 588.2M352.9 595.3L371.6 583.2M371.6 583.2L378.6 587.0M379.7 595.8L398.1 583.2M398.1 583.2L405.2 587.0M408.7 596.5L426.4 583.0M426.4 583.0L433.6 586.3M436.4 597.4L451.9 581.3M451.9 581.3L459.6 583.5M462.6 598.1L478.1 582.0M478.1 582.0L485.8 584.2M488.5 598.6L504.3 582.9M504.3 582.9L512.0 585.2M514.3 598.9L529.8 582.9M529.8 582.9L537.5 585.1M540.0 599.1L558.1 586.0M558.1 586.0L565.2 589.4M566.4 599.1L584.2 585.6M584.2 585.6L591.4 588.9M594.7 599.0L605.8 579.6M605.8 579.6L613.8 579.9M621.4 599.0L624.9 576.9M624.9 576.9L632.4 574.3M649.4 599.1L650.2 576.8M650.2 576.8L657.4 573.3M677.3 599.4L675.9 577.2M675.9 577.2L682.8 573.0M704.3 599.9L700.5 577.9M700.5 577.9L706.9 573.0M733.3 600.3L726.5 579.1M726.5 579.1L732.0 573.4M759.7 600.5L753.0 579.2M753.0 579.2L758.6 573.5M786.7 600.3L775.2 581.2M775.2 581.2L779.3 574.3M776.6 583.6L780.7 576.7M815.3 599.9L803.0 581.3M803.0 581.3L806.8 574.3M804.5 583.6L808.3 576.6M841.7 599.4L828.3 581.6M828.3 581.6L831.7 574.3M830.0 583.8L833.4 576.6M867.4 598.9L853.1 581.8M853.1 581.8L856.1 574.4M854.9 584.0L857.9 576.5M893.2 598.2L878.9 581.1M878.9 581.1L881.9 573.7M880.7 583.2L883.7 575.8M919.2 597.5L904.4 580.8M904.4 580.8L907.2 573.3M906.3 582.9L909.0 575.4M945.5 596.9L930.5 580.4M930.5 580.4L933.2 572.8M932.4 582.4L935.1 574.9M971.7 596.6L956.2 580.6M956.2 580.6L958.7 573.0M958.1 582.6L960.6 575.0M997.7 596.6L982.3 580.5M982.3 580.5L984.8 572.9M984.2 582.5L986.7 574.9M55.5 618.2L76.0 609.4M76.0 609.4L82.2 614.4M81.3 618.3L101.8 609.6M101.8 609.6L108.0 614.6M107.1 618.4L127.6 609.4M127.6 609.4L133.8 614.3M133.1 618.5L153.6 609.7M153.6 609.7L159.8 614.7M159.2 618.7L179.7 610.0M179.7 610.0L185.9 615.0M185.5 619.0L205.8 609.8M205.8 609.8L212.1 614.7M203.2 610.9L206.4 613.4M211.8 619.1L232.3 610.4M232.3 610.4L238.6 615.4M229.7 611.5L232.9 614.0M238.0 619.2L258.4 610.3M258.4 610.3L264.7 615.2M255.8 611.4L259.0 613.9M263.8 619.2L283.8 609.3M283.8 609.3L290.3 614.0M281.3 610.6L284.6 612.9M289.4 619.1L309.9 610.3M309.9 610.3L316.1 615.3M307.3 611.4L310.4 613.9M314.8 619.2L335.3 610.3M335.3 610.3L341.5 615.3M332.7 611.4L335.8 613.9M340.6 619.3L360.6 609.3M360.6 609.3L367.1 614.0M367.2 619.5L387.6 610.5M387.6 610.5L393.9 615.5M395.0 619.9L415.3 610.7M415.3 610.7L421.6 615.5M422.5 620.4L439.7 606.2M439.7 606.2L447.1 609.2M448.8 620.8L464.1 604.5M464.1 604.5L471.8 606.6M474.6 620.9L491.1 605.8M491.1 605.8L498.6 608.5M500.4 620.9L519.6 609.5M519.6 609.5L526.4 613.6M526.0 620.8L546.0 610.9M546.0 610.9L552.5 615.6M551.9 620.9L573.0 613.7M573.0 613.7L578.8 619.2M579.1 621.2L599.6 612.4M599.6 612.4L605.8 617.4M606.1 621.7L618.8 603.4M618.8 603.4L626.8 604.3M632.5 622.4L641.3 601.9M641.3 601.9L649.3 601.2M662.6 623.1L667.9 601.4M667.9 601.4L675.7 599.5M688.9 623.6L690.8 601.4M690.6 604.2L694.3 602.6M717.5 623.8L717.8 601.5M717.8 601.5L724.9 597.8M744.9 623.8L739.0 602.3M739.0 602.3L744.8 596.8M771.1 623.9L764.1 602.7M764.1 602.7L769.6 596.9M800.2 624.1L788.4 605.1M788.4 605.1L792.4 598.2M789.9 607.5L791.9 604.0M828.0 624.0L816.4 605.0M816.4 605.0L820.4 598.1M853.8 623.7L841.0 605.4M841.0 605.4L844.6 598.3M842.6 607.7L844.4 604.2M879.3 623.1L865.7 605.5M865.7 605.5L869.0 598.2M867.4 607.7L870.7 600.4M905.4 622.3L891.7 604.7M891.7 604.7L894.9 597.4M893.4 606.9L896.7 599.6M932.1 621.6L918.1 604.2M918.1 604.2L921.3 596.9M919.9 606.4L921.4 602.7M958.7 621.2L944.8 603.8M944.8 603.8L948.0 596.4M946.6 606.0L949.8 598.6M984.8 621.2L970.7 603.9M970.7 603.9L973.9 596.5M972.5 606.1L975.6 598.7M1010.7 621.3L996.2 604.3M996.2 604.3L999.1 596.9M998.0 606.5L1000.9 599.0M39.2 641.0L59.5 631.9M59.5 631.9L65.8 636.8M57.0 633.1L60.1 635.5M65.0 641.0L85.5 632.2M85.5 632.2L91.7 637.3M82.9 633.3L86.0 635.8M90.8 641.0L111.3 632.2M111.3 632.2L117.6 637.1M108.7 633.3L111.9 635.8M116.7 641.1L137.0 631.8M137.0 631.8L143.4 636.6M134.5 632.9L137.6 635.4M142.7 641.2L163.2 632.3M163.2 632.3L169.5 637.3M169.0 641.4L189.4 632.5M189.4 632.5L195.7 637.4M186.9 633.6L190.0 636.1M195.5 641.7L216.0 632.9M216.0 632.9L222.2 638.0M213.4 634.0L216.5 636.6M221.8 641.8L242.3 632.9M242.3 632.9L248.5 637.9M239.7 634.0L242.8 636.5M248.0 641.8L268.2 632.4M268.2 632.4L274.6 637.2M265.6 633.5L268.8 635.9M273.9 641.7L294.1 632.2M294.1 632.2L300.5 637.0M291.6 633.4L294.8 635.7M299.9 641.6L320.2 632.4M320.2 632.4L326.6 637.4M317.7 633.6L320.8 636.0M325.8 641.6L346.0 632.0M346.0 632.0L352.4 636.7M343.4 633.2L346.6 635.6M351.8 641.6L372.2 632.8M372.2 632.8L378.5 637.7M378.1 641.9L398.7 633.1M398.7 633.1L404.9 638.2M405.2 642.3L425.0 632.0M425.0 632.0L431.6 636.5M431.8 642.6L448.7 628.1M448.7 628.1L456.1 630.9M457.8 642.7L473.6 627.0M473.6 627.0L481.3 629.4M483.7 642.5L501.9 629.5M501.9 629.5L509.0 633.1M509.7 642.2L529.9 632.7M529.9 632.7L536.3 637.5M535.5 642.1L556.4 634.1M556.4 634.1L562.4 639.4M561.8 642.2L583.8 639.2M583.8 639.2L588.5 645.7M589.3 642.8L605.1 627.1M605.1 627.1L612.8 629.5M615.8 643.7L627.4 624.6M627.4 624.6L635.4 625.1M643.1 644.8L653.2 624.9M653.2 624.9L661.2 624.7M670.6 645.8L678.2 624.9M678.2 624.9L686.1 623.7M697.6 646.7L697.8 624.4M697.8 627.2L701.3 625.3M727.2 647.2L718.4 626.8M719.5 629.3L722.0 626.2M753.7 647.4L744.4 627.1M745.6 629.7L748.0 626.5M780.7 647.3L770.3 627.6M771.6 630.1L773.8 626.7M810.3 646.9L798.9 627.8M798.9 627.8L803.0 620.9M836.7 646.4L825.5 627.1M826.9 629.6L829.0 626.2M862.6 645.7L850.6 626.9M850.6 626.9L854.6 619.9M889.2 644.6L877.1 625.9M877.1 625.9L881.0 618.9M917.4 643.5L904.1 625.6M904.1 625.6L907.5 618.4M905.8 627.9L907.5 624.3M945.0 643.0L932.1 624.8M932.1 624.8L935.7 617.7M933.7 627.1L935.5 623.6M971.1 643.0L957.4 625.4M957.4 625.4L960.7 618.1M959.2 627.6L962.4 620.3M997.0 643.1L983.1 625.6M983.1 625.6L986.3 618.3M984.9 627.8L986.5 624.1M30.4 664.4L50.6 654.9M50.6 654.9L57.0 659.7M48.0 656.1L51.2 658.5M56.1 664.4L76.5 655.4M76.5 655.4L82.8 660.4M73.9 656.5L77.1 659.0M81.9 664.5L102.2 655.3M102.2 655.3L108.5 660.3M99.7 656.5L102.8 658.9M107.7 664.6L127.9 655.2M127.9 655.2L134.3 660.0M125.4 656.3L128.6 658.7M133.6 664.7L153.8 655.3M153.8 655.3L160.2 660.1M151.3 656.5L154.5 658.9M159.7 664.9L180.0 655.6M180.0 655.6L186.3 660.5M177.4 656.8L180.6 659.2M185.9 665.2L206.3 656.3M206.3 656.3L212.6 661.3M203.8 657.4L206.9 659.9M212.0 665.4L232.5 656.4M232.5 656.4L238.7 661.4M229.9 657.5L233.0 660.0M238.0 665.5L258.2 656.1M258.2 656.1L264.6 660.9M255.6 657.2L258.8 659.7M263.7 665.5L283.9 656.1M283.9 656.1L290.3 660.9M281.3 657.3L284.5 659.7M289.2 665.5L309.3 655.7M309.3 655.7L315.7 660.4M306.7 657.0L310.0 659.3M314.8 665.6L334.6 655.4M334.6 655.4L341.2 660.0M332.1 656.7L335.4 659.0M340.6 665.7L360.6 655.9M360.6 655.9L367.1 660.6M366.8 665.9L387.1 656.8M387.1 656.8L393.4 661.7M393.6 666.2L413.5 656.2M413.5 656.2L420.1 660.9M420.0 666.4L438.2 653.5M438.2 653.5L445.3 657.0M445.7 666.4L462.0 651.2M462.0 651.2L469.6 653.7M471.5 666.3L488.6 652.0M488.6 652.0L496.0 655.0M497.6 666.1L516.9 654.9M516.9 654.9L523.7 659.1M523.2 666.1L543.8 657.6M543.8 657.6L550.0 662.6M549.0 666.2L570.5 660.2M570.5 660.2L576.0 666.0M576.0 666.5L594.5 654.2M594.5 654.2L601.6 658.0M602.6 667.2L616.7 649.9M616.7 649.9L624.5 651.4M628.7 668.3L639.4 648.7M639.4 648.7L647.4 648.8M656.7 669.4L665.2 648.8M665.2 648.8L673.1 648.1M683.0 670.3L686.3 648.3M686.3 648.3L693.9 645.6M712.5 670.7L706.4 649.3M707.1 652.0L710.0 649.2M740.3 670.9L731.1 650.6M732.3 653.1L734.7 650.0M766.4 671.0L756.4 651.1M757.7 653.6L760.0 650.3M795.9 671.1L785.3 651.4M786.6 653.9L788.8 650.6M823.6 671.0L812.4 651.7M813.8 654.1L815.9 650.7M849.4 670.7L838.0 651.5M839.5 653.9L841.6 650.5M875.4 670.1L863.4 651.3M863.4 651.3L867.4 644.3M901.9 669.5L889.7 650.8M889.7 650.8L893.5 643.8M929.3 668.9L916.5 650.7M916.5 650.7L920.1 643.5M918.1 652.9L919.9 649.4M956.7 668.6L943.6 650.5M943.6 650.5L947.2 643.3M945.3 652.7L947.0 649.1M983.1 668.5L969.6 650.7M969.6 650.7L973.0 643.5M971.3 653.0L973.0 649.3M1009.1 668.6L995.3 651.0M995.3 651.0L998.6 643.7M997.1 653.2L998.7 649.6M40.2 687.6L60.3 678.0M60.3 678.0L66.7 682.8M57.8 679.2L61.0 681.6M66.0 687.7L86.3 678.4M86.3 678.4L92.7 683.2M83.8 679.5L86.9 682.0M92.0 687.8L112.2 678.4M112.2 678.4L118.6 683.2M109.7 679.6L112.8 682.0M117.9 687.9L138.1 678.4M138.1 678.4L144.5 683.2M135.6 679.6L138.8 682.0M144.0 688.0L164.0 678.3M164.0 678.3L170.5 683.0M161.5 679.5L164.7 681.8M170.0 688.2L190.1 678.5M190.1 678.5L196.6 683.2M187.6 679.7L190.8 682.1M196.1 688.3L216.3 678.9M216.3 678.9L222.7 683.7M213.7 680.0L216.9 682.4M222.0 688.4L242.2 678.9M242.2 678.9L248.6 683.6M239.7 680.1L242.9 682.4M247.9 688.5L268.0 678.9M268.0 678.9L274.5 683.7M265.5 680.1L268.7 682.5M273.7 688.6L293.7 678.7M293.7 678.7L300.2 683.4M291.2 680.0L294.5 682.3M299.5 688.7L319.1 678.1M319.1 678.1L325.8 682.5M316.7 679.4L320.0 681.6M325.4 688.8L344.8 677.8M344.8 677.8L351.5 682.0M351.5 688.9L371.0 678.2M371.0 678.2L377.7 682.6M377.8 689.0L397.2 678.2M397.2 678.2L403.9 682.5M404.1 689.1L422.6 676.7M422.6 676.7L429.7 680.4M430.3 689.2L447.0 674.5M447.0 674.5L454.5 677.3M456.3 689.2L472.4 673.7M472.4 673.7L480.0 676.3M482.4 689.1L499.7 675.1M499.7 675.1L507.0 678.2M508.4 689.1L527.3 677.2M527.3 677.2L534.2 681.2M534.5 689.2L554.2 678.6M554.2 678.6L560.8 683.1M560.8 689.4L579.6 677.3M579.6 677.3L586.6 681.2M587.4 689.8L602.5 673.4M602.5 673.4L610.2 675.5" stroke="#000" stroke-width="0.9" stroke-opacity="0.9"/><path d="M968.3 111.3L969.5 105.8L970.9 113.5ZM994.7 111.1L995.9 105.6L997.3 113.2ZM953.4 135.4L954.5 129.9L956.0 137.6ZM979.7 135.2L980.8 129.7L982.3 137.4ZM967.0 158.3L968.2 152.8L969.6 160.5ZM993.4 158.1L994.5 152.7L996.0 160.3Z" fill="#000" stroke="#000" stroke-width="0.6"/>
</g>
<text x="36.5" y="113" font-size="19.5">2025-12-10 01:30PM MST</text>
<text x="512" y="109" font-size="24" text-anchor="middle">500mb Wind(kts) and Temperature (C)</text>
<text x="987" y="110" font-size="19.5" text-anchor="end">2025-12-10_20:30:00 Z</text>
<text x="511.3" y="721" font-size="26.25" text-anchor="middle">U of A Dept of Hydrology and Atmospheric Sciences WRF-HRRR 18Z</text>
<g shape-rendering="crispEdges">
<rect x="93" y="752" width="24" height="48" fill="#3f0048"/>
<rect x="117" y="752" width="24" height="48" fill="#400090"/>
<rect x="141" y="752" width="23" height="48" fill="#2c10c8"/>
<rect x="164" y="752" width="24" height="48" fill="#1028e8"/>
<rect x="188" y="752" width="24" height="48" fill="#0050ff"/>
<rect x="212" y="752" width="24" height="48" fill="#0080ff"/>
<rect x="236" y="752" width="24" height="48" fill="#0090ff"/>
<rect x="260" y="752" width="24" height="48" fill="#00a0ff"/>
<rect x="284" y="752" width="24" height="48" fill="#28b0ff"/>
<rect x="308" y="752" width="24" height="48" fill="#40c0ff"/>
<rect x="332" y="752" width="24" height="48" fill="#40d8ff"/>
<rect x="356" y="752" width="24" height="48" fill="#40e8ff"/>
<rect x="380" y="752" width="24" height="48" fill="#40f8ff"/>
<rect x="404" y="752" width="24" height="48" fill="#40ffe0"/>
<rect x="428" y="752" width="24" height="48" fill="#40ffb0"/>
<rect x="452" y="752" width="24" height="48" fill="#40ff70"/>
<rect x="476" y="752" width="24" height="48" fill="#50ff40"/>
<rect x="500" y="752" width="24" height="48" fill="#78ff40"/>
<rect x="524" y="752" width="24" height="48" fill="#98ff40"/>
<rect x="548" y="752" width="24" height="48" fill="#c0ff40"/>
<rect x="572" y="752" width="24" height="48" fill="#e0ff40"/>
<rect x="596" y="752" width="24" height="48" fill="#fff840"/>
<rect x="620" y="752" width="24" height="48" fill="#ffe040"/>
<rect x="644" y="752" width="24" height="48" fill="#ffc840"/>
<rect x="668" y="752" width="24" height="48" fill="#ffa840"/>
<rect x="692" y="752" width="24" height="48" fill="#ff8040"/>
<rect x="716" y="752" width="24" height="48" fill="#ff5c40"/>
<rect x="740" y="752" width="24" height="48" fill="#ff3840"/>
<rect x="764" y="752" width="24" height="48" fill="#ff2850"/>
<rect x="788" y="752" width="24" height="48" fill="#ff5098"/>
<rect x="812" y="752" width="24" height="48" fill="#ff78d0"/>
<rect x="836" y="752" width="24" height="48" fill="#ffa0f8"/>
<rect x="860" y="752" width="23" height="48" fill="#ffc0f0"/>
<rect x="883" y="752" width="24" height="48" fill="#ffe0fc"/>
<rect x="907" y="752" width="24" height="48" fill="#fff4fc"/>
</g>
<text x="116.7" y="830.2" font-size="21.5" text-anchor="middle">-35</text>
<text x="235.7" y="830.2" font-size="21.5" text-anchor="middle">-30</text>
<text x="355.7" y="830.2" font-size="21.5" text-anchor="middle">-25</text>
<text x="475.7" y="830.2" font-size="21.5" text-anchor="middle">-20</text>
<text x="595.7" y="830.2" font-size="21.5" text-anchor="middle">-15</text>
<text x="715.7" y="830.2" font-size="21.5" text-anchor="middle">-10</text>
<text x="835.7" y="830.2" font-size="21.5" text-anchor="middle">-5</text>
</svg></body></html>
